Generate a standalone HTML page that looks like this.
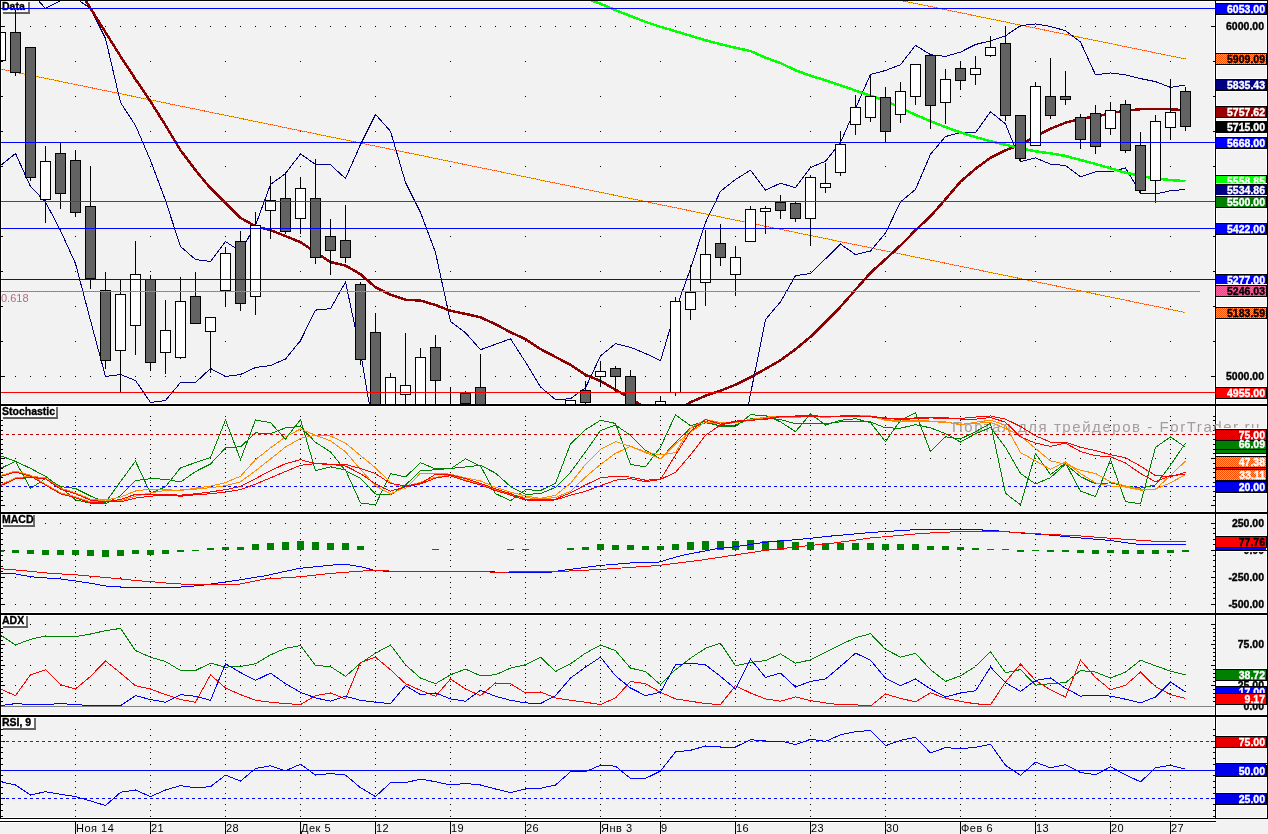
<!DOCTYPE html>
<html lang="ru"><head><meta charset="utf-8"><title>Chart</title>
<style>html,body{margin:0;padding:0;background:#f2f2f2;overflow:hidden}svg{display:block}</style></head>
<body><svg width="1268" height="834" viewBox="0 0 1268 834" shape-rendering="crispEdges" font-family="'Liberation Sans', 'DejaVu Sans', sans-serif"><defs>
<clipPath id="cpData"><rect x="1" y="1" width="1214" height="403"/></clipPath>
<clipPath id="cpSto"><rect x="1" y="406" width="1214" height="106"/></clipPath>
<clipPath id="cpMacd"><rect x="1" y="514" width="1214" height="99"/></clipPath>
<clipPath id="cpAdx"><rect x="1" y="615" width="1214" height="100"/></clipPath>
<clipPath id="cpRsi"><rect x="1" y="717" width="1214" height="101"/></clipPath>
<pattern id="orng" width="2" height="2" patternUnits="userSpaceOnUse"><rect width="2" height="2" fill="#ffb000"/><rect width="1" height="1" fill="#ff5000"/><rect x="1" y="1" width="1" height="1" fill="#ff5000"/></pattern>
<pattern id="pinkd" width="2" height="2" patternUnits="userSpaceOnUse"><rect width="2" height="2" fill="#808080"/><rect width="1" height="1" fill="#ff60a0"/><rect x="1" y="1" width="1" height="1" fill="#ff60a0"/></pattern>
<pattern id="redd" width="2" height="2" patternUnits="userSpaceOnUse"><rect width="2" height="2" fill="#c40000"/><rect width="1" height="1" fill="#ee0000"/><rect x="1" y="1" width="1" height="1" fill="#ee0000"/></pattern>
<pattern id="blued" width="2" height="2" patternUnits="userSpaceOnUse"><rect width="2" height="2" fill="#0000c4"/><rect width="1" height="1" fill="#0000ee"/><rect x="1" y="1" width="1" height="1" fill="#0000ee"/></pattern>
<pattern id="navyd" width="2" height="2" patternUnits="userSpaceOnUse"><rect width="2" height="2" fill="#0000c4"/><rect width="1" height="1" fill="#0000ee"/><rect x="1" y="1" width="1" height="1" fill="#0000ee"/></pattern>
<pattern id="pinkdots" width="2" height="1" patternUnits="userSpaceOnUse"><rect width="2" height="1" fill="#808080"/><rect width="1" height="1" fill="#ff6090"/></pattern>
</defs><rect x="0" y="0" width="1268" height="834" fill="#f2f2f2"/>
<rect x="0" y="0" width="1268" height="1" fill="#000"/>
<rect x="0" y="404" width="1268" height="1" fill="#000"/>
<rect x="0" y="405" width="1268" height="1" fill="#000"/>
<rect x="0" y="512" width="1268" height="1" fill="#000"/>
<rect x="0" y="513" width="1268" height="1" fill="#000"/>
<rect x="0" y="613" width="1268" height="1" fill="#000"/>
<rect x="0" y="614" width="1268" height="1" fill="#000"/>
<rect x="0" y="715" width="1268" height="1" fill="#000"/>
<rect x="0" y="716" width="1268" height="1" fill="#000"/>
<rect x="0" y="818" width="1268" height="1" fill="#000"/>
<rect x="0" y="821" width="1216" height="1" fill="#000"/>
<rect x="0" y="0" width="1" height="819" fill="#000"/>
<rect x="1215" y="0" width="1" height="822" fill="#000"/>
<rect x="1267" y="0" width="1" height="819" fill="#000"/>
<rect x="0" y="819" width="1216" height="1" fill="#fff"/>
<rect x="0" y="820" width="1216" height="1" fill="#fff"/>
<rect x="0" y="822" width="1216" height="1" fill="#fff"/>
<rect x="1" y="1" width="1214" height="1" fill="#fff"/>
<rect x="1" y="403" width="1214" height="1" fill="#fff"/>
<rect x="1" y="1" width="1" height="403" fill="#fff"/>
<rect x="1214" y="1" width="1" height="403" fill="#fff"/>
<rect x="1216" y="1" width="51" height="1" fill="#fff"/>
<rect x="1216" y="403" width="51" height="1" fill="#fff"/>
<rect x="1216" y="1" width="1" height="403" fill="#fff"/>
<rect x="1266" y="1" width="1" height="403" fill="#fff"/>
<rect x="1" y="406" width="1214" height="1" fill="#fff"/>
<rect x="1" y="511" width="1214" height="1" fill="#fff"/>
<rect x="1" y="406" width="1" height="106" fill="#fff"/>
<rect x="1214" y="406" width="1" height="106" fill="#fff"/>
<rect x="1216" y="406" width="51" height="1" fill="#fff"/>
<rect x="1216" y="511" width="51" height="1" fill="#fff"/>
<rect x="1216" y="406" width="1" height="106" fill="#fff"/>
<rect x="1266" y="406" width="1" height="106" fill="#fff"/>
<rect x="1" y="514" width="1214" height="1" fill="#fff"/>
<rect x="1" y="612" width="1214" height="1" fill="#fff"/>
<rect x="1" y="514" width="1" height="99" fill="#fff"/>
<rect x="1214" y="514" width="1" height="99" fill="#fff"/>
<rect x="1216" y="514" width="51" height="1" fill="#fff"/>
<rect x="1216" y="612" width="51" height="1" fill="#fff"/>
<rect x="1216" y="514" width="1" height="99" fill="#fff"/>
<rect x="1266" y="514" width="1" height="99" fill="#fff"/>
<rect x="1" y="615" width="1214" height="1" fill="#fff"/>
<rect x="1" y="714" width="1214" height="1" fill="#fff"/>
<rect x="1" y="615" width="1" height="100" fill="#fff"/>
<rect x="1214" y="615" width="1" height="100" fill="#fff"/>
<rect x="1216" y="615" width="51" height="1" fill="#fff"/>
<rect x="1216" y="714" width="51" height="1" fill="#fff"/>
<rect x="1216" y="615" width="1" height="100" fill="#fff"/>
<rect x="1266" y="615" width="1" height="100" fill="#fff"/>
<rect x="1" y="717" width="1214" height="1" fill="#fff"/>
<rect x="1" y="817" width="1214" height="1" fill="#fff"/>
<rect x="1" y="717" width="1" height="101" fill="#fff"/>
<rect x="1214" y="717" width="1" height="101" fill="#fff"/>
<rect x="1216" y="717" width="51" height="1" fill="#fff"/>
<rect x="1216" y="817" width="51" height="1" fill="#fff"/>
<rect x="1216" y="717" width="1" height="101" fill="#fff"/>
<rect x="1266" y="717" width="1" height="101" fill="#fff"/>
<rect x="1" y="26" width="4" height="1" fill="#000"/>
<rect x="1211" y="26" width="4" height="1" fill="#000"/>
<rect x="1" y="61" width="2" height="1" fill="#000"/>
<rect x="1213" y="61" width="2" height="1" fill="#000"/>
<rect x="1" y="96" width="2" height="1" fill="#000"/>
<rect x="1213" y="96" width="2" height="1" fill="#000"/>
<rect x="1" y="131" width="2" height="1" fill="#000"/>
<rect x="1213" y="131" width="2" height="1" fill="#000"/>
<rect x="1" y="166" width="2" height="1" fill="#000"/>
<rect x="1213" y="166" width="2" height="1" fill="#000"/>
<rect x="1" y="201" width="2" height="1" fill="#000"/>
<rect x="1213" y="201" width="2" height="1" fill="#000"/>
<rect x="1" y="236" width="2" height="1" fill="#000"/>
<rect x="1213" y="236" width="2" height="1" fill="#000"/>
<rect x="1" y="271" width="2" height="1" fill="#000"/>
<rect x="1213" y="271" width="2" height="1" fill="#000"/>
<rect x="1" y="306" width="2" height="1" fill="#000"/>
<rect x="1213" y="306" width="2" height="1" fill="#000"/>
<rect x="1" y="341" width="2" height="1" fill="#000"/>
<rect x="1213" y="341" width="2" height="1" fill="#000"/>
<rect x="1" y="376" width="4" height="1" fill="#000"/>
<rect x="1211" y="376" width="4" height="1" fill="#000"/>
<rect x="1" y="416" width="2" height="1" fill="#000"/>
<rect x="1213" y="416" width="2" height="1" fill="#000"/>
<rect x="1" y="420" width="2" height="1" fill="#000"/>
<rect x="1213" y="420" width="2" height="1" fill="#000"/>
<rect x="1" y="425" width="2" height="1" fill="#000"/>
<rect x="1213" y="425" width="2" height="1" fill="#000"/>
<rect x="1" y="430" width="2" height="1" fill="#000"/>
<rect x="1213" y="430" width="2" height="1" fill="#000"/>
<rect x="1" y="434" width="2" height="1" fill="#000"/>
<rect x="1213" y="434" width="2" height="1" fill="#000"/>
<rect x="1" y="439" width="2" height="1" fill="#000"/>
<rect x="1213" y="439" width="2" height="1" fill="#000"/>
<rect x="1" y="444" width="2" height="1" fill="#000"/>
<rect x="1213" y="444" width="2" height="1" fill="#000"/>
<rect x="1" y="449" width="2" height="1" fill="#000"/>
<rect x="1213" y="449" width="2" height="1" fill="#000"/>
<rect x="1" y="453" width="2" height="1" fill="#000"/>
<rect x="1213" y="453" width="2" height="1" fill="#000"/>
<rect x="1" y="458" width="4" height="1" fill="#000"/>
<rect x="1211" y="458" width="4" height="1" fill="#000"/>
<rect x="1" y="463" width="2" height="1" fill="#000"/>
<rect x="1213" y="463" width="2" height="1" fill="#000"/>
<rect x="1" y="468" width="2" height="1" fill="#000"/>
<rect x="1213" y="468" width="2" height="1" fill="#000"/>
<rect x="1" y="472" width="2" height="1" fill="#000"/>
<rect x="1213" y="472" width="2" height="1" fill="#000"/>
<rect x="1" y="477" width="2" height="1" fill="#000"/>
<rect x="1213" y="477" width="2" height="1" fill="#000"/>
<rect x="1" y="482" width="2" height="1" fill="#000"/>
<rect x="1213" y="482" width="2" height="1" fill="#000"/>
<rect x="1" y="486" width="2" height="1" fill="#000"/>
<rect x="1213" y="486" width="2" height="1" fill="#000"/>
<rect x="1" y="491" width="2" height="1" fill="#000"/>
<rect x="1213" y="491" width="2" height="1" fill="#000"/>
<rect x="1" y="496" width="2" height="1" fill="#000"/>
<rect x="1213" y="496" width="2" height="1" fill="#000"/>
<rect x="1" y="500" width="2" height="1" fill="#000"/>
<rect x="1213" y="500" width="2" height="1" fill="#000"/>
<rect x="1" y="505" width="4" height="1" fill="#000"/>
<rect x="1211" y="505" width="4" height="1" fill="#000"/>
<rect x="1" y="523" width="4" height="1" fill="#000"/>
<rect x="1211" y="523" width="4" height="1" fill="#000"/>
<rect x="1" y="528" width="2" height="1" fill="#000"/>
<rect x="1213" y="528" width="2" height="1" fill="#000"/>
<rect x="1" y="533" width="2" height="1" fill="#000"/>
<rect x="1213" y="533" width="2" height="1" fill="#000"/>
<rect x="1" y="539" width="2" height="1" fill="#000"/>
<rect x="1213" y="539" width="2" height="1" fill="#000"/>
<rect x="1" y="544" width="2" height="1" fill="#000"/>
<rect x="1213" y="544" width="2" height="1" fill="#000"/>
<rect x="1" y="550" width="4" height="1" fill="#000"/>
<rect x="1211" y="550" width="4" height="1" fill="#000"/>
<rect x="1" y="555" width="2" height="1" fill="#000"/>
<rect x="1213" y="555" width="2" height="1" fill="#000"/>
<rect x="1" y="560" width="2" height="1" fill="#000"/>
<rect x="1213" y="560" width="2" height="1" fill="#000"/>
<rect x="1" y="566" width="2" height="1" fill="#000"/>
<rect x="1213" y="566" width="2" height="1" fill="#000"/>
<rect x="1" y="571" width="2" height="1" fill="#000"/>
<rect x="1213" y="571" width="2" height="1" fill="#000"/>
<rect x="1" y="577" width="4" height="1" fill="#000"/>
<rect x="1211" y="577" width="4" height="1" fill="#000"/>
<rect x="1" y="582" width="2" height="1" fill="#000"/>
<rect x="1213" y="582" width="2" height="1" fill="#000"/>
<rect x="1" y="587" width="2" height="1" fill="#000"/>
<rect x="1213" y="587" width="2" height="1" fill="#000"/>
<rect x="1" y="593" width="2" height="1" fill="#000"/>
<rect x="1213" y="593" width="2" height="1" fill="#000"/>
<rect x="1" y="598" width="2" height="1" fill="#000"/>
<rect x="1213" y="598" width="2" height="1" fill="#000"/>
<rect x="1" y="604" width="4" height="1" fill="#000"/>
<rect x="1211" y="604" width="4" height="1" fill="#000"/>
<rect x="1" y="624" width="4" height="1" fill="#000"/>
<rect x="1211" y="624" width="4" height="1" fill="#000"/>
<rect x="1" y="628" width="2" height="1" fill="#000"/>
<rect x="1213" y="628" width="2" height="1" fill="#000"/>
<rect x="1" y="632" width="2" height="1" fill="#000"/>
<rect x="1213" y="632" width="2" height="1" fill="#000"/>
<rect x="1" y="636" width="2" height="1" fill="#000"/>
<rect x="1213" y="636" width="2" height="1" fill="#000"/>
<rect x="1" y="640" width="2" height="1" fill="#000"/>
<rect x="1213" y="640" width="2" height="1" fill="#000"/>
<rect x="1" y="644" width="4" height="1" fill="#000"/>
<rect x="1211" y="644" width="4" height="1" fill="#000"/>
<rect x="1" y="648" width="2" height="1" fill="#000"/>
<rect x="1213" y="648" width="2" height="1" fill="#000"/>
<rect x="1" y="652" width="2" height="1" fill="#000"/>
<rect x="1213" y="652" width="2" height="1" fill="#000"/>
<rect x="1" y="656" width="2" height="1" fill="#000"/>
<rect x="1213" y="656" width="2" height="1" fill="#000"/>
<rect x="1" y="660" width="2" height="1" fill="#000"/>
<rect x="1213" y="660" width="2" height="1" fill="#000"/>
<rect x="1" y="665" width="4" height="1" fill="#000"/>
<rect x="1211" y="665" width="4" height="1" fill="#000"/>
<rect x="1" y="669" width="2" height="1" fill="#000"/>
<rect x="1213" y="669" width="2" height="1" fill="#000"/>
<rect x="1" y="673" width="2" height="1" fill="#000"/>
<rect x="1213" y="673" width="2" height="1" fill="#000"/>
<rect x="1" y="677" width="2" height="1" fill="#000"/>
<rect x="1213" y="677" width="2" height="1" fill="#000"/>
<rect x="1" y="681" width="2" height="1" fill="#000"/>
<rect x="1213" y="681" width="2" height="1" fill="#000"/>
<rect x="1" y="685" width="4" height="1" fill="#000"/>
<rect x="1211" y="685" width="4" height="1" fill="#000"/>
<rect x="1" y="689" width="2" height="1" fill="#000"/>
<rect x="1213" y="689" width="2" height="1" fill="#000"/>
<rect x="1" y="693" width="2" height="1" fill="#000"/>
<rect x="1213" y="693" width="2" height="1" fill="#000"/>
<rect x="1" y="697" width="2" height="1" fill="#000"/>
<rect x="1213" y="697" width="2" height="1" fill="#000"/>
<rect x="1" y="701" width="2" height="1" fill="#000"/>
<rect x="1213" y="701" width="2" height="1" fill="#000"/>
<rect x="1" y="729" width="2" height="1" fill="#000"/>
<rect x="1213" y="729" width="2" height="1" fill="#000"/>
<rect x="1" y="735" width="2" height="1" fill="#000"/>
<rect x="1213" y="735" width="2" height="1" fill="#000"/>
<rect x="1" y="741" width="4" height="1" fill="#000"/>
<rect x="1211" y="741" width="4" height="1" fill="#000"/>
<rect x="1" y="747" width="2" height="1" fill="#000"/>
<rect x="1213" y="747" width="2" height="1" fill="#000"/>
<rect x="1" y="752" width="2" height="1" fill="#000"/>
<rect x="1213" y="752" width="2" height="1" fill="#000"/>
<rect x="1" y="758" width="2" height="1" fill="#000"/>
<rect x="1213" y="758" width="2" height="1" fill="#000"/>
<rect x="1" y="764" width="2" height="1" fill="#000"/>
<rect x="1213" y="764" width="2" height="1" fill="#000"/>
<rect x="1" y="770" width="4" height="1" fill="#000"/>
<rect x="1211" y="770" width="4" height="1" fill="#000"/>
<rect x="1" y="775" width="2" height="1" fill="#000"/>
<rect x="1213" y="775" width="2" height="1" fill="#000"/>
<rect x="1" y="781" width="2" height="1" fill="#000"/>
<rect x="1213" y="781" width="2" height="1" fill="#000"/>
<rect x="1" y="787" width="2" height="1" fill="#000"/>
<rect x="1213" y="787" width="2" height="1" fill="#000"/>
<rect x="1" y="793" width="2" height="1" fill="#000"/>
<rect x="1213" y="793" width="2" height="1" fill="#000"/>
<rect x="1" y="798" width="4" height="1" fill="#000"/>
<rect x="1211" y="798" width="4" height="1" fill="#000"/>
<rect x="1" y="804" width="2" height="1" fill="#000"/>
<rect x="1213" y="804" width="2" height="1" fill="#000"/>
<rect x="1" y="810" width="2" height="1" fill="#000"/>
<rect x="1213" y="810" width="2" height="1" fill="#000"/>
<rect x="1" y="816" width="2" height="1" fill="#000"/>
<rect x="1213" y="816" width="2" height="1" fill="#000"/>
<path d="M15 26h1v1h-1zM15 376h1v1h-1zM15 458h1v1h-1zM15 505h1v1h-1zM15 523h1v1h-1zM15 577h1v1h-1zM15 604h1v1h-1zM15 624h1v1h-1zM15 644h1v1h-1zM15 665h1v1h-1zM15 685h1v1h-1zM30 26h1v1h-1zM30 376h1v1h-1zM30 458h1v1h-1zM30 505h1v1h-1zM30 523h1v1h-1zM30 577h1v1h-1zM30 604h1v1h-1zM30 624h1v1h-1zM30 644h1v1h-1zM30 665h1v1h-1zM30 685h1v1h-1zM45 26h1v1h-1zM45 376h1v1h-1zM45 458h1v1h-1zM45 505h1v1h-1zM45 523h1v1h-1zM45 577h1v1h-1zM45 604h1v1h-1zM45 624h1v1h-1zM45 644h1v1h-1zM45 665h1v1h-1zM45 685h1v1h-1zM60 26h1v1h-1zM60 376h1v1h-1zM60 458h1v1h-1zM60 505h1v1h-1zM60 523h1v1h-1zM60 577h1v1h-1zM60 604h1v1h-1zM60 624h1v1h-1zM60 644h1v1h-1zM60 665h1v1h-1zM60 685h1v1h-1zM75 26h1v1h-1zM75 61h1v1h-1zM75 96h1v1h-1zM75 131h1v1h-1zM75 166h1v1h-1zM75 201h1v1h-1zM75 236h1v1h-1zM75 271h1v1h-1zM75 306h1v1h-1zM75 341h1v1h-1zM75 376h1v1h-1zM75 416h1v1h-1zM75 420h1v1h-1zM75 425h1v1h-1zM75 430h1v1h-1zM75 434h1v1h-1zM75 439h1v1h-1zM75 444h1v1h-1zM75 449h1v1h-1zM75 453h1v1h-1zM75 458h1v1h-1zM75 463h1v1h-1zM75 468h1v1h-1zM75 472h1v1h-1zM75 477h1v1h-1zM75 482h1v1h-1zM75 486h1v1h-1zM75 491h1v1h-1zM75 496h1v1h-1zM75 500h1v1h-1zM75 505h1v1h-1zM75 523h1v1h-1zM75 528h1v1h-1zM75 533h1v1h-1zM75 539h1v1h-1zM75 544h1v1h-1zM75 550h1v1h-1zM75 555h1v1h-1zM75 560h1v1h-1zM75 566h1v1h-1zM75 571h1v1h-1zM75 577h1v1h-1zM75 582h1v1h-1zM75 587h1v1h-1zM75 593h1v1h-1zM75 598h1v1h-1zM75 604h1v1h-1zM75 624h1v1h-1zM75 628h1v1h-1zM75 632h1v1h-1zM75 636h1v1h-1zM75 640h1v1h-1zM75 644h1v1h-1zM75 648h1v1h-1zM75 652h1v1h-1zM75 656h1v1h-1zM75 660h1v1h-1zM75 665h1v1h-1zM75 669h1v1h-1zM75 673h1v1h-1zM75 677h1v1h-1zM75 681h1v1h-1zM75 685h1v1h-1zM75 689h1v1h-1zM75 693h1v1h-1zM75 697h1v1h-1zM75 701h1v1h-1zM75 729h1v1h-1zM75 735h1v1h-1zM75 741h1v1h-1zM75 747h1v1h-1zM75 752h1v1h-1zM75 758h1v1h-1zM75 764h1v1h-1zM75 770h1v1h-1zM75 775h1v1h-1zM75 781h1v1h-1zM75 787h1v1h-1zM75 793h1v1h-1zM75 798h1v1h-1zM75 804h1v1h-1zM75 810h1v1h-1zM75 816h1v1h-1zM90 26h1v1h-1zM90 376h1v1h-1zM90 458h1v1h-1zM90 505h1v1h-1zM90 523h1v1h-1zM90 577h1v1h-1zM90 604h1v1h-1zM90 624h1v1h-1zM90 644h1v1h-1zM90 665h1v1h-1zM90 685h1v1h-1zM105 26h1v1h-1zM105 376h1v1h-1zM105 458h1v1h-1zM105 505h1v1h-1zM105 523h1v1h-1zM105 577h1v1h-1zM105 604h1v1h-1zM105 624h1v1h-1zM105 644h1v1h-1zM105 665h1v1h-1zM105 685h1v1h-1zM120 26h1v1h-1zM120 376h1v1h-1zM120 458h1v1h-1zM120 505h1v1h-1zM120 523h1v1h-1zM120 577h1v1h-1zM120 604h1v1h-1zM120 624h1v1h-1zM120 644h1v1h-1zM120 665h1v1h-1zM120 685h1v1h-1zM135 26h1v1h-1zM135 376h1v1h-1zM135 458h1v1h-1zM135 505h1v1h-1zM135 523h1v1h-1zM135 577h1v1h-1zM135 604h1v1h-1zM135 624h1v1h-1zM135 644h1v1h-1zM135 665h1v1h-1zM135 685h1v1h-1zM150 26h1v1h-1zM150 61h1v1h-1zM150 96h1v1h-1zM150 131h1v1h-1zM150 166h1v1h-1zM150 201h1v1h-1zM150 236h1v1h-1zM150 271h1v1h-1zM150 306h1v1h-1zM150 341h1v1h-1zM150 376h1v1h-1zM150 416h1v1h-1zM150 420h1v1h-1zM150 425h1v1h-1zM150 430h1v1h-1zM150 434h1v1h-1zM150 439h1v1h-1zM150 444h1v1h-1zM150 449h1v1h-1zM150 453h1v1h-1zM150 458h1v1h-1zM150 463h1v1h-1zM150 468h1v1h-1zM150 472h1v1h-1zM150 477h1v1h-1zM150 482h1v1h-1zM150 486h1v1h-1zM150 491h1v1h-1zM150 496h1v1h-1zM150 500h1v1h-1zM150 505h1v1h-1zM150 523h1v1h-1zM150 528h1v1h-1zM150 533h1v1h-1zM150 539h1v1h-1zM150 544h1v1h-1zM150 550h1v1h-1zM150 555h1v1h-1zM150 560h1v1h-1zM150 566h1v1h-1zM150 571h1v1h-1zM150 577h1v1h-1zM150 582h1v1h-1zM150 587h1v1h-1zM150 593h1v1h-1zM150 598h1v1h-1zM150 604h1v1h-1zM150 624h1v1h-1zM150 628h1v1h-1zM150 632h1v1h-1zM150 636h1v1h-1zM150 640h1v1h-1zM150 644h1v1h-1zM150 648h1v1h-1zM150 652h1v1h-1zM150 656h1v1h-1zM150 660h1v1h-1zM150 665h1v1h-1zM150 669h1v1h-1zM150 673h1v1h-1zM150 677h1v1h-1zM150 681h1v1h-1zM150 685h1v1h-1zM150 689h1v1h-1zM150 693h1v1h-1zM150 697h1v1h-1zM150 701h1v1h-1zM150 729h1v1h-1zM150 735h1v1h-1zM150 741h1v1h-1zM150 747h1v1h-1zM150 752h1v1h-1zM150 758h1v1h-1zM150 764h1v1h-1zM150 770h1v1h-1zM150 775h1v1h-1zM150 781h1v1h-1zM150 787h1v1h-1zM150 793h1v1h-1zM150 798h1v1h-1zM150 804h1v1h-1zM150 810h1v1h-1zM150 816h1v1h-1zM165 26h1v1h-1zM165 376h1v1h-1zM165 458h1v1h-1zM165 505h1v1h-1zM165 523h1v1h-1zM165 577h1v1h-1zM165 604h1v1h-1zM165 624h1v1h-1zM165 644h1v1h-1zM165 665h1v1h-1zM165 685h1v1h-1zM180 26h1v1h-1zM180 376h1v1h-1zM180 458h1v1h-1zM180 505h1v1h-1zM180 523h1v1h-1zM180 577h1v1h-1zM180 604h1v1h-1zM180 624h1v1h-1zM180 644h1v1h-1zM180 665h1v1h-1zM180 685h1v1h-1zM195 26h1v1h-1zM195 376h1v1h-1zM195 458h1v1h-1zM195 505h1v1h-1zM195 523h1v1h-1zM195 577h1v1h-1zM195 604h1v1h-1zM195 624h1v1h-1zM195 644h1v1h-1zM195 665h1v1h-1zM195 685h1v1h-1zM210 26h1v1h-1zM210 376h1v1h-1zM210 458h1v1h-1zM210 505h1v1h-1zM210 523h1v1h-1zM210 577h1v1h-1zM210 604h1v1h-1zM210 624h1v1h-1zM210 644h1v1h-1zM210 665h1v1h-1zM210 685h1v1h-1zM225 26h1v1h-1zM225 61h1v1h-1zM225 96h1v1h-1zM225 131h1v1h-1zM225 166h1v1h-1zM225 201h1v1h-1zM225 236h1v1h-1zM225 271h1v1h-1zM225 306h1v1h-1zM225 341h1v1h-1zM225 376h1v1h-1zM225 416h1v1h-1zM225 420h1v1h-1zM225 425h1v1h-1zM225 430h1v1h-1zM225 434h1v1h-1zM225 439h1v1h-1zM225 444h1v1h-1zM225 449h1v1h-1zM225 453h1v1h-1zM225 458h1v1h-1zM225 463h1v1h-1zM225 468h1v1h-1zM225 472h1v1h-1zM225 477h1v1h-1zM225 482h1v1h-1zM225 486h1v1h-1zM225 491h1v1h-1zM225 496h1v1h-1zM225 500h1v1h-1zM225 505h1v1h-1zM225 523h1v1h-1zM225 528h1v1h-1zM225 533h1v1h-1zM225 539h1v1h-1zM225 544h1v1h-1zM225 550h1v1h-1zM225 555h1v1h-1zM225 560h1v1h-1zM225 566h1v1h-1zM225 571h1v1h-1zM225 577h1v1h-1zM225 582h1v1h-1zM225 587h1v1h-1zM225 593h1v1h-1zM225 598h1v1h-1zM225 604h1v1h-1zM225 624h1v1h-1zM225 628h1v1h-1zM225 632h1v1h-1zM225 636h1v1h-1zM225 640h1v1h-1zM225 644h1v1h-1zM225 648h1v1h-1zM225 652h1v1h-1zM225 656h1v1h-1zM225 660h1v1h-1zM225 665h1v1h-1zM225 669h1v1h-1zM225 673h1v1h-1zM225 677h1v1h-1zM225 681h1v1h-1zM225 685h1v1h-1zM225 689h1v1h-1zM225 693h1v1h-1zM225 697h1v1h-1zM225 701h1v1h-1zM225 729h1v1h-1zM225 735h1v1h-1zM225 741h1v1h-1zM225 747h1v1h-1zM225 752h1v1h-1zM225 758h1v1h-1zM225 764h1v1h-1zM225 770h1v1h-1zM225 775h1v1h-1zM225 781h1v1h-1zM225 787h1v1h-1zM225 793h1v1h-1zM225 798h1v1h-1zM225 804h1v1h-1zM225 810h1v1h-1zM225 816h1v1h-1zM240 26h1v1h-1zM240 376h1v1h-1zM240 458h1v1h-1zM240 505h1v1h-1zM240 523h1v1h-1zM240 577h1v1h-1zM240 604h1v1h-1zM240 624h1v1h-1zM240 644h1v1h-1zM240 665h1v1h-1zM240 685h1v1h-1zM255 26h1v1h-1zM255 376h1v1h-1zM255 458h1v1h-1zM255 505h1v1h-1zM255 523h1v1h-1zM255 577h1v1h-1zM255 604h1v1h-1zM255 624h1v1h-1zM255 644h1v1h-1zM255 665h1v1h-1zM255 685h1v1h-1zM270 26h1v1h-1zM270 376h1v1h-1zM270 458h1v1h-1zM270 505h1v1h-1zM270 523h1v1h-1zM270 577h1v1h-1zM270 604h1v1h-1zM270 624h1v1h-1zM270 644h1v1h-1zM270 665h1v1h-1zM270 685h1v1h-1zM285 26h1v1h-1zM285 376h1v1h-1zM285 458h1v1h-1zM285 505h1v1h-1zM285 523h1v1h-1zM285 577h1v1h-1zM285 604h1v1h-1zM285 624h1v1h-1zM285 644h1v1h-1zM285 665h1v1h-1zM285 685h1v1h-1zM300 26h1v1h-1zM300 61h1v1h-1zM300 96h1v1h-1zM300 131h1v1h-1zM300 166h1v1h-1zM300 201h1v1h-1zM300 236h1v1h-1zM300 271h1v1h-1zM300 306h1v1h-1zM300 341h1v1h-1zM300 376h1v1h-1zM300 416h1v1h-1zM300 420h1v1h-1zM300 425h1v1h-1zM300 430h1v1h-1zM300 434h1v1h-1zM300 439h1v1h-1zM300 444h1v1h-1zM300 449h1v1h-1zM300 453h1v1h-1zM300 458h1v1h-1zM300 463h1v1h-1zM300 468h1v1h-1zM300 472h1v1h-1zM300 477h1v1h-1zM300 482h1v1h-1zM300 486h1v1h-1zM300 491h1v1h-1zM300 496h1v1h-1zM300 500h1v1h-1zM300 505h1v1h-1zM300 523h1v1h-1zM300 528h1v1h-1zM300 533h1v1h-1zM300 539h1v1h-1zM300 544h1v1h-1zM300 550h1v1h-1zM300 555h1v1h-1zM300 560h1v1h-1zM300 566h1v1h-1zM300 571h1v1h-1zM300 577h1v1h-1zM300 582h1v1h-1zM300 587h1v1h-1zM300 593h1v1h-1zM300 598h1v1h-1zM300 604h1v1h-1zM300 624h1v1h-1zM300 628h1v1h-1zM300 632h1v1h-1zM300 636h1v1h-1zM300 640h1v1h-1zM300 644h1v1h-1zM300 648h1v1h-1zM300 652h1v1h-1zM300 656h1v1h-1zM300 660h1v1h-1zM300 665h1v1h-1zM300 669h1v1h-1zM300 673h1v1h-1zM300 677h1v1h-1zM300 681h1v1h-1zM300 685h1v1h-1zM300 689h1v1h-1zM300 693h1v1h-1zM300 697h1v1h-1zM300 701h1v1h-1zM300 729h1v1h-1zM300 735h1v1h-1zM300 741h1v1h-1zM300 747h1v1h-1zM300 752h1v1h-1zM300 758h1v1h-1zM300 764h1v1h-1zM300 770h1v1h-1zM300 775h1v1h-1zM300 781h1v1h-1zM300 787h1v1h-1zM300 793h1v1h-1zM300 798h1v1h-1zM300 804h1v1h-1zM300 810h1v1h-1zM300 816h1v1h-1zM315 26h1v1h-1zM315 376h1v1h-1zM315 458h1v1h-1zM315 505h1v1h-1zM315 523h1v1h-1zM315 577h1v1h-1zM315 604h1v1h-1zM315 624h1v1h-1zM315 644h1v1h-1zM315 665h1v1h-1zM315 685h1v1h-1zM330 26h1v1h-1zM330 376h1v1h-1zM330 458h1v1h-1zM330 505h1v1h-1zM330 523h1v1h-1zM330 577h1v1h-1zM330 604h1v1h-1zM330 624h1v1h-1zM330 644h1v1h-1zM330 665h1v1h-1zM330 685h1v1h-1zM345 26h1v1h-1zM345 376h1v1h-1zM345 458h1v1h-1zM345 505h1v1h-1zM345 523h1v1h-1zM345 577h1v1h-1zM345 604h1v1h-1zM345 624h1v1h-1zM345 644h1v1h-1zM345 665h1v1h-1zM345 685h1v1h-1zM360 26h1v1h-1zM360 376h1v1h-1zM360 458h1v1h-1zM360 505h1v1h-1zM360 523h1v1h-1zM360 577h1v1h-1zM360 604h1v1h-1zM360 624h1v1h-1zM360 644h1v1h-1zM360 665h1v1h-1zM360 685h1v1h-1zM375 26h1v1h-1zM375 61h1v1h-1zM375 96h1v1h-1zM375 131h1v1h-1zM375 166h1v1h-1zM375 201h1v1h-1zM375 236h1v1h-1zM375 271h1v1h-1zM375 306h1v1h-1zM375 341h1v1h-1zM375 376h1v1h-1zM375 416h1v1h-1zM375 420h1v1h-1zM375 425h1v1h-1zM375 430h1v1h-1zM375 434h1v1h-1zM375 439h1v1h-1zM375 444h1v1h-1zM375 449h1v1h-1zM375 453h1v1h-1zM375 458h1v1h-1zM375 463h1v1h-1zM375 468h1v1h-1zM375 472h1v1h-1zM375 477h1v1h-1zM375 482h1v1h-1zM375 486h1v1h-1zM375 491h1v1h-1zM375 496h1v1h-1zM375 500h1v1h-1zM375 505h1v1h-1zM375 523h1v1h-1zM375 528h1v1h-1zM375 533h1v1h-1zM375 539h1v1h-1zM375 544h1v1h-1zM375 550h1v1h-1zM375 555h1v1h-1zM375 560h1v1h-1zM375 566h1v1h-1zM375 571h1v1h-1zM375 577h1v1h-1zM375 582h1v1h-1zM375 587h1v1h-1zM375 593h1v1h-1zM375 598h1v1h-1zM375 604h1v1h-1zM375 624h1v1h-1zM375 628h1v1h-1zM375 632h1v1h-1zM375 636h1v1h-1zM375 640h1v1h-1zM375 644h1v1h-1zM375 648h1v1h-1zM375 652h1v1h-1zM375 656h1v1h-1zM375 660h1v1h-1zM375 665h1v1h-1zM375 669h1v1h-1zM375 673h1v1h-1zM375 677h1v1h-1zM375 681h1v1h-1zM375 685h1v1h-1zM375 689h1v1h-1zM375 693h1v1h-1zM375 697h1v1h-1zM375 701h1v1h-1zM375 729h1v1h-1zM375 735h1v1h-1zM375 741h1v1h-1zM375 747h1v1h-1zM375 752h1v1h-1zM375 758h1v1h-1zM375 764h1v1h-1zM375 770h1v1h-1zM375 775h1v1h-1zM375 781h1v1h-1zM375 787h1v1h-1zM375 793h1v1h-1zM375 798h1v1h-1zM375 804h1v1h-1zM375 810h1v1h-1zM375 816h1v1h-1zM390 26h1v1h-1zM390 376h1v1h-1zM390 458h1v1h-1zM390 505h1v1h-1zM390 523h1v1h-1zM390 577h1v1h-1zM390 604h1v1h-1zM390 624h1v1h-1zM390 644h1v1h-1zM390 665h1v1h-1zM390 685h1v1h-1zM405 26h1v1h-1zM405 376h1v1h-1zM405 458h1v1h-1zM405 505h1v1h-1zM405 523h1v1h-1zM405 577h1v1h-1zM405 604h1v1h-1zM405 624h1v1h-1zM405 644h1v1h-1zM405 665h1v1h-1zM405 685h1v1h-1zM420 26h1v1h-1zM420 376h1v1h-1zM420 458h1v1h-1zM420 505h1v1h-1zM420 523h1v1h-1zM420 577h1v1h-1zM420 604h1v1h-1zM420 624h1v1h-1zM420 644h1v1h-1zM420 665h1v1h-1zM420 685h1v1h-1zM435 26h1v1h-1zM435 376h1v1h-1zM435 458h1v1h-1zM435 505h1v1h-1zM435 523h1v1h-1zM435 577h1v1h-1zM435 604h1v1h-1zM435 624h1v1h-1zM435 644h1v1h-1zM435 665h1v1h-1zM435 685h1v1h-1zM450 26h1v1h-1zM450 61h1v1h-1zM450 96h1v1h-1zM450 131h1v1h-1zM450 166h1v1h-1zM450 201h1v1h-1zM450 236h1v1h-1zM450 271h1v1h-1zM450 306h1v1h-1zM450 341h1v1h-1zM450 376h1v1h-1zM450 416h1v1h-1zM450 420h1v1h-1zM450 425h1v1h-1zM450 430h1v1h-1zM450 434h1v1h-1zM450 439h1v1h-1zM450 444h1v1h-1zM450 449h1v1h-1zM450 453h1v1h-1zM450 458h1v1h-1zM450 463h1v1h-1zM450 468h1v1h-1zM450 472h1v1h-1zM450 477h1v1h-1zM450 482h1v1h-1zM450 486h1v1h-1zM450 491h1v1h-1zM450 496h1v1h-1zM450 500h1v1h-1zM450 505h1v1h-1zM450 523h1v1h-1zM450 528h1v1h-1zM450 533h1v1h-1zM450 539h1v1h-1zM450 544h1v1h-1zM450 550h1v1h-1zM450 555h1v1h-1zM450 560h1v1h-1zM450 566h1v1h-1zM450 571h1v1h-1zM450 577h1v1h-1zM450 582h1v1h-1zM450 587h1v1h-1zM450 593h1v1h-1zM450 598h1v1h-1zM450 604h1v1h-1zM450 624h1v1h-1zM450 628h1v1h-1zM450 632h1v1h-1zM450 636h1v1h-1zM450 640h1v1h-1zM450 644h1v1h-1zM450 648h1v1h-1zM450 652h1v1h-1zM450 656h1v1h-1zM450 660h1v1h-1zM450 665h1v1h-1zM450 669h1v1h-1zM450 673h1v1h-1zM450 677h1v1h-1zM450 681h1v1h-1zM450 685h1v1h-1zM450 689h1v1h-1zM450 693h1v1h-1zM450 697h1v1h-1zM450 701h1v1h-1zM450 729h1v1h-1zM450 735h1v1h-1zM450 741h1v1h-1zM450 747h1v1h-1zM450 752h1v1h-1zM450 758h1v1h-1zM450 764h1v1h-1zM450 770h1v1h-1zM450 775h1v1h-1zM450 781h1v1h-1zM450 787h1v1h-1zM450 793h1v1h-1zM450 798h1v1h-1zM450 804h1v1h-1zM450 810h1v1h-1zM450 816h1v1h-1zM465 26h1v1h-1zM465 376h1v1h-1zM465 458h1v1h-1zM465 505h1v1h-1zM465 523h1v1h-1zM465 577h1v1h-1zM465 604h1v1h-1zM465 624h1v1h-1zM465 644h1v1h-1zM465 665h1v1h-1zM465 685h1v1h-1zM480 26h1v1h-1zM480 376h1v1h-1zM480 458h1v1h-1zM480 505h1v1h-1zM480 523h1v1h-1zM480 577h1v1h-1zM480 604h1v1h-1zM480 624h1v1h-1zM480 644h1v1h-1zM480 665h1v1h-1zM480 685h1v1h-1zM495 26h1v1h-1zM495 376h1v1h-1zM495 458h1v1h-1zM495 505h1v1h-1zM495 523h1v1h-1zM495 577h1v1h-1zM495 604h1v1h-1zM495 624h1v1h-1zM495 644h1v1h-1zM495 665h1v1h-1zM495 685h1v1h-1zM510 26h1v1h-1zM510 376h1v1h-1zM510 458h1v1h-1zM510 505h1v1h-1zM510 523h1v1h-1zM510 577h1v1h-1zM510 604h1v1h-1zM510 624h1v1h-1zM510 644h1v1h-1zM510 665h1v1h-1zM510 685h1v1h-1zM525 26h1v1h-1zM525 61h1v1h-1zM525 96h1v1h-1zM525 131h1v1h-1zM525 166h1v1h-1zM525 201h1v1h-1zM525 236h1v1h-1zM525 271h1v1h-1zM525 306h1v1h-1zM525 341h1v1h-1zM525 376h1v1h-1zM525 416h1v1h-1zM525 420h1v1h-1zM525 425h1v1h-1zM525 430h1v1h-1zM525 434h1v1h-1zM525 439h1v1h-1zM525 444h1v1h-1zM525 449h1v1h-1zM525 453h1v1h-1zM525 458h1v1h-1zM525 463h1v1h-1zM525 468h1v1h-1zM525 472h1v1h-1zM525 477h1v1h-1zM525 482h1v1h-1zM525 486h1v1h-1zM525 491h1v1h-1zM525 496h1v1h-1zM525 500h1v1h-1zM525 505h1v1h-1zM525 523h1v1h-1zM525 528h1v1h-1zM525 533h1v1h-1zM525 539h1v1h-1zM525 544h1v1h-1zM525 550h1v1h-1zM525 555h1v1h-1zM525 560h1v1h-1zM525 566h1v1h-1zM525 571h1v1h-1zM525 577h1v1h-1zM525 582h1v1h-1zM525 587h1v1h-1zM525 593h1v1h-1zM525 598h1v1h-1zM525 604h1v1h-1zM525 624h1v1h-1zM525 628h1v1h-1zM525 632h1v1h-1zM525 636h1v1h-1zM525 640h1v1h-1zM525 644h1v1h-1zM525 648h1v1h-1zM525 652h1v1h-1zM525 656h1v1h-1zM525 660h1v1h-1zM525 665h1v1h-1zM525 669h1v1h-1zM525 673h1v1h-1zM525 677h1v1h-1zM525 681h1v1h-1zM525 685h1v1h-1zM525 689h1v1h-1zM525 693h1v1h-1zM525 697h1v1h-1zM525 701h1v1h-1zM525 729h1v1h-1zM525 735h1v1h-1zM525 741h1v1h-1zM525 747h1v1h-1zM525 752h1v1h-1zM525 758h1v1h-1zM525 764h1v1h-1zM525 770h1v1h-1zM525 775h1v1h-1zM525 781h1v1h-1zM525 787h1v1h-1zM525 793h1v1h-1zM525 798h1v1h-1zM525 804h1v1h-1zM525 810h1v1h-1zM525 816h1v1h-1zM540 26h1v1h-1zM540 376h1v1h-1zM540 458h1v1h-1zM540 505h1v1h-1zM540 523h1v1h-1zM540 577h1v1h-1zM540 604h1v1h-1zM540 624h1v1h-1zM540 644h1v1h-1zM540 665h1v1h-1zM540 685h1v1h-1zM555 26h1v1h-1zM555 376h1v1h-1zM555 458h1v1h-1zM555 505h1v1h-1zM555 523h1v1h-1zM555 577h1v1h-1zM555 604h1v1h-1zM555 624h1v1h-1zM555 644h1v1h-1zM555 665h1v1h-1zM555 685h1v1h-1zM570 26h1v1h-1zM570 376h1v1h-1zM570 458h1v1h-1zM570 505h1v1h-1zM570 523h1v1h-1zM570 577h1v1h-1zM570 604h1v1h-1zM570 624h1v1h-1zM570 644h1v1h-1zM570 665h1v1h-1zM570 685h1v1h-1zM585 26h1v1h-1zM585 376h1v1h-1zM585 458h1v1h-1zM585 505h1v1h-1zM585 523h1v1h-1zM585 577h1v1h-1zM585 604h1v1h-1zM585 624h1v1h-1zM585 644h1v1h-1zM585 665h1v1h-1zM585 685h1v1h-1zM600 26h1v1h-1zM600 61h1v1h-1zM600 96h1v1h-1zM600 131h1v1h-1zM600 166h1v1h-1zM600 201h1v1h-1zM600 236h1v1h-1zM600 271h1v1h-1zM600 306h1v1h-1zM600 341h1v1h-1zM600 376h1v1h-1zM600 416h1v1h-1zM600 420h1v1h-1zM600 425h1v1h-1zM600 430h1v1h-1zM600 434h1v1h-1zM600 439h1v1h-1zM600 444h1v1h-1zM600 449h1v1h-1zM600 453h1v1h-1zM600 458h1v1h-1zM600 463h1v1h-1zM600 468h1v1h-1zM600 472h1v1h-1zM600 477h1v1h-1zM600 482h1v1h-1zM600 486h1v1h-1zM600 491h1v1h-1zM600 496h1v1h-1zM600 500h1v1h-1zM600 505h1v1h-1zM600 523h1v1h-1zM600 528h1v1h-1zM600 533h1v1h-1zM600 539h1v1h-1zM600 544h1v1h-1zM600 550h1v1h-1zM600 555h1v1h-1zM600 560h1v1h-1zM600 566h1v1h-1zM600 571h1v1h-1zM600 577h1v1h-1zM600 582h1v1h-1zM600 587h1v1h-1zM600 593h1v1h-1zM600 598h1v1h-1zM600 604h1v1h-1zM600 624h1v1h-1zM600 628h1v1h-1zM600 632h1v1h-1zM600 636h1v1h-1zM600 640h1v1h-1zM600 644h1v1h-1zM600 648h1v1h-1zM600 652h1v1h-1zM600 656h1v1h-1zM600 660h1v1h-1zM600 665h1v1h-1zM600 669h1v1h-1zM600 673h1v1h-1zM600 677h1v1h-1zM600 681h1v1h-1zM600 685h1v1h-1zM600 689h1v1h-1zM600 693h1v1h-1zM600 697h1v1h-1zM600 701h1v1h-1zM600 729h1v1h-1zM600 735h1v1h-1zM600 741h1v1h-1zM600 747h1v1h-1zM600 752h1v1h-1zM600 758h1v1h-1zM600 764h1v1h-1zM600 770h1v1h-1zM600 775h1v1h-1zM600 781h1v1h-1zM600 787h1v1h-1zM600 793h1v1h-1zM600 798h1v1h-1zM600 804h1v1h-1zM600 810h1v1h-1zM600 816h1v1h-1zM615 26h1v1h-1zM615 376h1v1h-1zM615 458h1v1h-1zM615 505h1v1h-1zM615 523h1v1h-1zM615 577h1v1h-1zM615 604h1v1h-1zM615 624h1v1h-1zM615 644h1v1h-1zM615 665h1v1h-1zM615 685h1v1h-1zM630 26h1v1h-1zM630 376h1v1h-1zM630 458h1v1h-1zM630 505h1v1h-1zM630 523h1v1h-1zM630 577h1v1h-1zM630 604h1v1h-1zM630 624h1v1h-1zM630 644h1v1h-1zM630 665h1v1h-1zM630 685h1v1h-1zM645 26h1v1h-1zM645 376h1v1h-1zM645 458h1v1h-1zM645 505h1v1h-1zM645 523h1v1h-1zM645 577h1v1h-1zM645 604h1v1h-1zM645 624h1v1h-1zM645 644h1v1h-1zM645 665h1v1h-1zM645 685h1v1h-1zM660 26h1v1h-1zM660 61h1v1h-1zM660 96h1v1h-1zM660 131h1v1h-1zM660 166h1v1h-1zM660 201h1v1h-1zM660 236h1v1h-1zM660 271h1v1h-1zM660 306h1v1h-1zM660 341h1v1h-1zM660 376h1v1h-1zM660 416h1v1h-1zM660 420h1v1h-1zM660 425h1v1h-1zM660 430h1v1h-1zM660 434h1v1h-1zM660 439h1v1h-1zM660 444h1v1h-1zM660 449h1v1h-1zM660 453h1v1h-1zM660 458h1v1h-1zM660 463h1v1h-1zM660 468h1v1h-1zM660 472h1v1h-1zM660 477h1v1h-1zM660 482h1v1h-1zM660 486h1v1h-1zM660 491h1v1h-1zM660 496h1v1h-1zM660 500h1v1h-1zM660 505h1v1h-1zM660 523h1v1h-1zM660 528h1v1h-1zM660 533h1v1h-1zM660 539h1v1h-1zM660 544h1v1h-1zM660 550h1v1h-1zM660 555h1v1h-1zM660 560h1v1h-1zM660 566h1v1h-1zM660 571h1v1h-1zM660 577h1v1h-1zM660 582h1v1h-1zM660 587h1v1h-1zM660 593h1v1h-1zM660 598h1v1h-1zM660 604h1v1h-1zM660 624h1v1h-1zM660 628h1v1h-1zM660 632h1v1h-1zM660 636h1v1h-1zM660 640h1v1h-1zM660 644h1v1h-1zM660 648h1v1h-1zM660 652h1v1h-1zM660 656h1v1h-1zM660 660h1v1h-1zM660 665h1v1h-1zM660 669h1v1h-1zM660 673h1v1h-1zM660 677h1v1h-1zM660 681h1v1h-1zM660 685h1v1h-1zM660 689h1v1h-1zM660 693h1v1h-1zM660 697h1v1h-1zM660 701h1v1h-1zM660 729h1v1h-1zM660 735h1v1h-1zM660 741h1v1h-1zM660 747h1v1h-1zM660 752h1v1h-1zM660 758h1v1h-1zM660 764h1v1h-1zM660 770h1v1h-1zM660 775h1v1h-1zM660 781h1v1h-1zM660 787h1v1h-1zM660 793h1v1h-1zM660 798h1v1h-1zM660 804h1v1h-1zM660 810h1v1h-1zM660 816h1v1h-1zM675 26h1v1h-1zM675 376h1v1h-1zM675 458h1v1h-1zM675 505h1v1h-1zM675 523h1v1h-1zM675 577h1v1h-1zM675 604h1v1h-1zM675 624h1v1h-1zM675 644h1v1h-1zM675 665h1v1h-1zM675 685h1v1h-1zM690 26h1v1h-1zM690 376h1v1h-1zM690 458h1v1h-1zM690 505h1v1h-1zM690 523h1v1h-1zM690 577h1v1h-1zM690 604h1v1h-1zM690 624h1v1h-1zM690 644h1v1h-1zM690 665h1v1h-1zM690 685h1v1h-1zM705 26h1v1h-1zM705 376h1v1h-1zM705 458h1v1h-1zM705 505h1v1h-1zM705 523h1v1h-1zM705 577h1v1h-1zM705 604h1v1h-1zM705 624h1v1h-1zM705 644h1v1h-1zM705 665h1v1h-1zM705 685h1v1h-1zM720 26h1v1h-1zM720 376h1v1h-1zM720 458h1v1h-1zM720 505h1v1h-1zM720 523h1v1h-1zM720 577h1v1h-1zM720 604h1v1h-1zM720 624h1v1h-1zM720 644h1v1h-1zM720 665h1v1h-1zM720 685h1v1h-1zM735 26h1v1h-1zM735 61h1v1h-1zM735 96h1v1h-1zM735 131h1v1h-1zM735 166h1v1h-1zM735 201h1v1h-1zM735 236h1v1h-1zM735 271h1v1h-1zM735 306h1v1h-1zM735 341h1v1h-1zM735 376h1v1h-1zM735 416h1v1h-1zM735 420h1v1h-1zM735 425h1v1h-1zM735 430h1v1h-1zM735 434h1v1h-1zM735 439h1v1h-1zM735 444h1v1h-1zM735 449h1v1h-1zM735 453h1v1h-1zM735 458h1v1h-1zM735 463h1v1h-1zM735 468h1v1h-1zM735 472h1v1h-1zM735 477h1v1h-1zM735 482h1v1h-1zM735 486h1v1h-1zM735 491h1v1h-1zM735 496h1v1h-1zM735 500h1v1h-1zM735 505h1v1h-1zM735 523h1v1h-1zM735 528h1v1h-1zM735 533h1v1h-1zM735 539h1v1h-1zM735 544h1v1h-1zM735 550h1v1h-1zM735 555h1v1h-1zM735 560h1v1h-1zM735 566h1v1h-1zM735 571h1v1h-1zM735 577h1v1h-1zM735 582h1v1h-1zM735 587h1v1h-1zM735 593h1v1h-1zM735 598h1v1h-1zM735 604h1v1h-1zM735 624h1v1h-1zM735 628h1v1h-1zM735 632h1v1h-1zM735 636h1v1h-1zM735 640h1v1h-1zM735 644h1v1h-1zM735 648h1v1h-1zM735 652h1v1h-1zM735 656h1v1h-1zM735 660h1v1h-1zM735 665h1v1h-1zM735 669h1v1h-1zM735 673h1v1h-1zM735 677h1v1h-1zM735 681h1v1h-1zM735 685h1v1h-1zM735 689h1v1h-1zM735 693h1v1h-1zM735 697h1v1h-1zM735 701h1v1h-1zM735 729h1v1h-1zM735 735h1v1h-1zM735 741h1v1h-1zM735 747h1v1h-1zM735 752h1v1h-1zM735 758h1v1h-1zM735 764h1v1h-1zM735 770h1v1h-1zM735 775h1v1h-1zM735 781h1v1h-1zM735 787h1v1h-1zM735 793h1v1h-1zM735 798h1v1h-1zM735 804h1v1h-1zM735 810h1v1h-1zM735 816h1v1h-1zM750 26h1v1h-1zM750 376h1v1h-1zM750 458h1v1h-1zM750 505h1v1h-1zM750 523h1v1h-1zM750 577h1v1h-1zM750 604h1v1h-1zM750 624h1v1h-1zM750 644h1v1h-1zM750 665h1v1h-1zM750 685h1v1h-1zM765 26h1v1h-1zM765 376h1v1h-1zM765 458h1v1h-1zM765 505h1v1h-1zM765 523h1v1h-1zM765 577h1v1h-1zM765 604h1v1h-1zM765 624h1v1h-1zM765 644h1v1h-1zM765 665h1v1h-1zM765 685h1v1h-1zM780 26h1v1h-1zM780 376h1v1h-1zM780 458h1v1h-1zM780 505h1v1h-1zM780 523h1v1h-1zM780 577h1v1h-1zM780 604h1v1h-1zM780 624h1v1h-1zM780 644h1v1h-1zM780 665h1v1h-1zM780 685h1v1h-1zM795 26h1v1h-1zM795 376h1v1h-1zM795 458h1v1h-1zM795 505h1v1h-1zM795 523h1v1h-1zM795 577h1v1h-1zM795 604h1v1h-1zM795 624h1v1h-1zM795 644h1v1h-1zM795 665h1v1h-1zM795 685h1v1h-1zM810 26h1v1h-1zM810 61h1v1h-1zM810 96h1v1h-1zM810 131h1v1h-1zM810 166h1v1h-1zM810 201h1v1h-1zM810 236h1v1h-1zM810 271h1v1h-1zM810 306h1v1h-1zM810 341h1v1h-1zM810 376h1v1h-1zM810 416h1v1h-1zM810 420h1v1h-1zM810 425h1v1h-1zM810 430h1v1h-1zM810 434h1v1h-1zM810 439h1v1h-1zM810 444h1v1h-1zM810 449h1v1h-1zM810 453h1v1h-1zM810 458h1v1h-1zM810 463h1v1h-1zM810 468h1v1h-1zM810 472h1v1h-1zM810 477h1v1h-1zM810 482h1v1h-1zM810 486h1v1h-1zM810 491h1v1h-1zM810 496h1v1h-1zM810 500h1v1h-1zM810 505h1v1h-1zM810 523h1v1h-1zM810 528h1v1h-1zM810 533h1v1h-1zM810 539h1v1h-1zM810 544h1v1h-1zM810 550h1v1h-1zM810 555h1v1h-1zM810 560h1v1h-1zM810 566h1v1h-1zM810 571h1v1h-1zM810 577h1v1h-1zM810 582h1v1h-1zM810 587h1v1h-1zM810 593h1v1h-1zM810 598h1v1h-1zM810 604h1v1h-1zM810 624h1v1h-1zM810 628h1v1h-1zM810 632h1v1h-1zM810 636h1v1h-1zM810 640h1v1h-1zM810 644h1v1h-1zM810 648h1v1h-1zM810 652h1v1h-1zM810 656h1v1h-1zM810 660h1v1h-1zM810 665h1v1h-1zM810 669h1v1h-1zM810 673h1v1h-1zM810 677h1v1h-1zM810 681h1v1h-1zM810 685h1v1h-1zM810 689h1v1h-1zM810 693h1v1h-1zM810 697h1v1h-1zM810 701h1v1h-1zM810 729h1v1h-1zM810 735h1v1h-1zM810 741h1v1h-1zM810 747h1v1h-1zM810 752h1v1h-1zM810 758h1v1h-1zM810 764h1v1h-1zM810 770h1v1h-1zM810 775h1v1h-1zM810 781h1v1h-1zM810 787h1v1h-1zM810 793h1v1h-1zM810 798h1v1h-1zM810 804h1v1h-1zM810 810h1v1h-1zM810 816h1v1h-1zM825 26h1v1h-1zM825 376h1v1h-1zM825 458h1v1h-1zM825 505h1v1h-1zM825 523h1v1h-1zM825 577h1v1h-1zM825 604h1v1h-1zM825 624h1v1h-1zM825 644h1v1h-1zM825 665h1v1h-1zM825 685h1v1h-1zM840 26h1v1h-1zM840 376h1v1h-1zM840 458h1v1h-1zM840 505h1v1h-1zM840 523h1v1h-1zM840 577h1v1h-1zM840 604h1v1h-1zM840 624h1v1h-1zM840 644h1v1h-1zM840 665h1v1h-1zM840 685h1v1h-1zM855 26h1v1h-1zM855 376h1v1h-1zM855 458h1v1h-1zM855 505h1v1h-1zM855 523h1v1h-1zM855 577h1v1h-1zM855 604h1v1h-1zM855 624h1v1h-1zM855 644h1v1h-1zM855 665h1v1h-1zM855 685h1v1h-1zM870 26h1v1h-1zM870 376h1v1h-1zM870 458h1v1h-1zM870 505h1v1h-1zM870 523h1v1h-1zM870 577h1v1h-1zM870 604h1v1h-1zM870 624h1v1h-1zM870 644h1v1h-1zM870 665h1v1h-1zM870 685h1v1h-1zM885 26h1v1h-1zM885 61h1v1h-1zM885 96h1v1h-1zM885 131h1v1h-1zM885 166h1v1h-1zM885 201h1v1h-1zM885 236h1v1h-1zM885 271h1v1h-1zM885 306h1v1h-1zM885 341h1v1h-1zM885 376h1v1h-1zM885 416h1v1h-1zM885 420h1v1h-1zM885 425h1v1h-1zM885 430h1v1h-1zM885 434h1v1h-1zM885 439h1v1h-1zM885 444h1v1h-1zM885 449h1v1h-1zM885 453h1v1h-1zM885 458h1v1h-1zM885 463h1v1h-1zM885 468h1v1h-1zM885 472h1v1h-1zM885 477h1v1h-1zM885 482h1v1h-1zM885 486h1v1h-1zM885 491h1v1h-1zM885 496h1v1h-1zM885 500h1v1h-1zM885 505h1v1h-1zM885 523h1v1h-1zM885 528h1v1h-1zM885 533h1v1h-1zM885 539h1v1h-1zM885 544h1v1h-1zM885 550h1v1h-1zM885 555h1v1h-1zM885 560h1v1h-1zM885 566h1v1h-1zM885 571h1v1h-1zM885 577h1v1h-1zM885 582h1v1h-1zM885 587h1v1h-1zM885 593h1v1h-1zM885 598h1v1h-1zM885 604h1v1h-1zM885 624h1v1h-1zM885 628h1v1h-1zM885 632h1v1h-1zM885 636h1v1h-1zM885 640h1v1h-1zM885 644h1v1h-1zM885 648h1v1h-1zM885 652h1v1h-1zM885 656h1v1h-1zM885 660h1v1h-1zM885 665h1v1h-1zM885 669h1v1h-1zM885 673h1v1h-1zM885 677h1v1h-1zM885 681h1v1h-1zM885 685h1v1h-1zM885 689h1v1h-1zM885 693h1v1h-1zM885 697h1v1h-1zM885 701h1v1h-1zM885 729h1v1h-1zM885 735h1v1h-1zM885 741h1v1h-1zM885 747h1v1h-1zM885 752h1v1h-1zM885 758h1v1h-1zM885 764h1v1h-1zM885 770h1v1h-1zM885 775h1v1h-1zM885 781h1v1h-1zM885 787h1v1h-1zM885 793h1v1h-1zM885 798h1v1h-1zM885 804h1v1h-1zM885 810h1v1h-1zM885 816h1v1h-1zM900 26h1v1h-1zM900 376h1v1h-1zM900 458h1v1h-1zM900 505h1v1h-1zM900 523h1v1h-1zM900 577h1v1h-1zM900 604h1v1h-1zM900 624h1v1h-1zM900 644h1v1h-1zM900 665h1v1h-1zM900 685h1v1h-1zM915 26h1v1h-1zM915 376h1v1h-1zM915 458h1v1h-1zM915 505h1v1h-1zM915 523h1v1h-1zM915 577h1v1h-1zM915 604h1v1h-1zM915 624h1v1h-1zM915 644h1v1h-1zM915 665h1v1h-1zM915 685h1v1h-1zM930 26h1v1h-1zM930 376h1v1h-1zM930 458h1v1h-1zM930 505h1v1h-1zM930 523h1v1h-1zM930 577h1v1h-1zM930 604h1v1h-1zM930 624h1v1h-1zM930 644h1v1h-1zM930 665h1v1h-1zM930 685h1v1h-1zM945 26h1v1h-1zM945 376h1v1h-1zM945 458h1v1h-1zM945 505h1v1h-1zM945 523h1v1h-1zM945 577h1v1h-1zM945 604h1v1h-1zM945 624h1v1h-1zM945 644h1v1h-1zM945 665h1v1h-1zM945 685h1v1h-1zM960 26h1v1h-1zM960 61h1v1h-1zM960 96h1v1h-1zM960 131h1v1h-1zM960 166h1v1h-1zM960 201h1v1h-1zM960 236h1v1h-1zM960 271h1v1h-1zM960 306h1v1h-1zM960 341h1v1h-1zM960 376h1v1h-1zM960 416h1v1h-1zM960 420h1v1h-1zM960 425h1v1h-1zM960 430h1v1h-1zM960 434h1v1h-1zM960 439h1v1h-1zM960 444h1v1h-1zM960 449h1v1h-1zM960 453h1v1h-1zM960 458h1v1h-1zM960 463h1v1h-1zM960 468h1v1h-1zM960 472h1v1h-1zM960 477h1v1h-1zM960 482h1v1h-1zM960 486h1v1h-1zM960 491h1v1h-1zM960 496h1v1h-1zM960 500h1v1h-1zM960 505h1v1h-1zM960 523h1v1h-1zM960 528h1v1h-1zM960 533h1v1h-1zM960 539h1v1h-1zM960 544h1v1h-1zM960 550h1v1h-1zM960 555h1v1h-1zM960 560h1v1h-1zM960 566h1v1h-1zM960 571h1v1h-1zM960 577h1v1h-1zM960 582h1v1h-1zM960 587h1v1h-1zM960 593h1v1h-1zM960 598h1v1h-1zM960 604h1v1h-1zM960 624h1v1h-1zM960 628h1v1h-1zM960 632h1v1h-1zM960 636h1v1h-1zM960 640h1v1h-1zM960 644h1v1h-1zM960 648h1v1h-1zM960 652h1v1h-1zM960 656h1v1h-1zM960 660h1v1h-1zM960 665h1v1h-1zM960 669h1v1h-1zM960 673h1v1h-1zM960 677h1v1h-1zM960 681h1v1h-1zM960 685h1v1h-1zM960 689h1v1h-1zM960 693h1v1h-1zM960 697h1v1h-1zM960 701h1v1h-1zM960 729h1v1h-1zM960 735h1v1h-1zM960 741h1v1h-1zM960 747h1v1h-1zM960 752h1v1h-1zM960 758h1v1h-1zM960 764h1v1h-1zM960 770h1v1h-1zM960 775h1v1h-1zM960 781h1v1h-1zM960 787h1v1h-1zM960 793h1v1h-1zM960 798h1v1h-1zM960 804h1v1h-1zM960 810h1v1h-1zM960 816h1v1h-1zM975 26h1v1h-1zM975 376h1v1h-1zM975 458h1v1h-1zM975 505h1v1h-1zM975 523h1v1h-1zM975 577h1v1h-1zM975 604h1v1h-1zM975 624h1v1h-1zM975 644h1v1h-1zM975 665h1v1h-1zM975 685h1v1h-1zM990 26h1v1h-1zM990 376h1v1h-1zM990 458h1v1h-1zM990 505h1v1h-1zM990 523h1v1h-1zM990 577h1v1h-1zM990 604h1v1h-1zM990 624h1v1h-1zM990 644h1v1h-1zM990 665h1v1h-1zM990 685h1v1h-1zM1005 26h1v1h-1zM1005 376h1v1h-1zM1005 458h1v1h-1zM1005 505h1v1h-1zM1005 523h1v1h-1zM1005 577h1v1h-1zM1005 604h1v1h-1zM1005 624h1v1h-1zM1005 644h1v1h-1zM1005 665h1v1h-1zM1005 685h1v1h-1zM1020 26h1v1h-1zM1020 376h1v1h-1zM1020 458h1v1h-1zM1020 505h1v1h-1zM1020 523h1v1h-1zM1020 577h1v1h-1zM1020 604h1v1h-1zM1020 624h1v1h-1zM1020 644h1v1h-1zM1020 665h1v1h-1zM1020 685h1v1h-1zM1035 26h1v1h-1zM1035 61h1v1h-1zM1035 96h1v1h-1zM1035 131h1v1h-1zM1035 166h1v1h-1zM1035 201h1v1h-1zM1035 236h1v1h-1zM1035 271h1v1h-1zM1035 306h1v1h-1zM1035 341h1v1h-1zM1035 376h1v1h-1zM1035 416h1v1h-1zM1035 420h1v1h-1zM1035 425h1v1h-1zM1035 430h1v1h-1zM1035 434h1v1h-1zM1035 439h1v1h-1zM1035 444h1v1h-1zM1035 449h1v1h-1zM1035 453h1v1h-1zM1035 458h1v1h-1zM1035 463h1v1h-1zM1035 468h1v1h-1zM1035 472h1v1h-1zM1035 477h1v1h-1zM1035 482h1v1h-1zM1035 486h1v1h-1zM1035 491h1v1h-1zM1035 496h1v1h-1zM1035 500h1v1h-1zM1035 505h1v1h-1zM1035 523h1v1h-1zM1035 528h1v1h-1zM1035 533h1v1h-1zM1035 539h1v1h-1zM1035 544h1v1h-1zM1035 550h1v1h-1zM1035 555h1v1h-1zM1035 560h1v1h-1zM1035 566h1v1h-1zM1035 571h1v1h-1zM1035 577h1v1h-1zM1035 582h1v1h-1zM1035 587h1v1h-1zM1035 593h1v1h-1zM1035 598h1v1h-1zM1035 604h1v1h-1zM1035 624h1v1h-1zM1035 628h1v1h-1zM1035 632h1v1h-1zM1035 636h1v1h-1zM1035 640h1v1h-1zM1035 644h1v1h-1zM1035 648h1v1h-1zM1035 652h1v1h-1zM1035 656h1v1h-1zM1035 660h1v1h-1zM1035 665h1v1h-1zM1035 669h1v1h-1zM1035 673h1v1h-1zM1035 677h1v1h-1zM1035 681h1v1h-1zM1035 685h1v1h-1zM1035 689h1v1h-1zM1035 693h1v1h-1zM1035 697h1v1h-1zM1035 701h1v1h-1zM1035 729h1v1h-1zM1035 735h1v1h-1zM1035 741h1v1h-1zM1035 747h1v1h-1zM1035 752h1v1h-1zM1035 758h1v1h-1zM1035 764h1v1h-1zM1035 770h1v1h-1zM1035 775h1v1h-1zM1035 781h1v1h-1zM1035 787h1v1h-1zM1035 793h1v1h-1zM1035 798h1v1h-1zM1035 804h1v1h-1zM1035 810h1v1h-1zM1035 816h1v1h-1zM1050 26h1v1h-1zM1050 376h1v1h-1zM1050 458h1v1h-1zM1050 505h1v1h-1zM1050 523h1v1h-1zM1050 577h1v1h-1zM1050 604h1v1h-1zM1050 624h1v1h-1zM1050 644h1v1h-1zM1050 665h1v1h-1zM1050 685h1v1h-1zM1065 26h1v1h-1zM1065 376h1v1h-1zM1065 458h1v1h-1zM1065 505h1v1h-1zM1065 523h1v1h-1zM1065 577h1v1h-1zM1065 604h1v1h-1zM1065 624h1v1h-1zM1065 644h1v1h-1zM1065 665h1v1h-1zM1065 685h1v1h-1zM1080 26h1v1h-1zM1080 376h1v1h-1zM1080 458h1v1h-1zM1080 505h1v1h-1zM1080 523h1v1h-1zM1080 577h1v1h-1zM1080 604h1v1h-1zM1080 624h1v1h-1zM1080 644h1v1h-1zM1080 665h1v1h-1zM1080 685h1v1h-1zM1095 26h1v1h-1zM1095 376h1v1h-1zM1095 458h1v1h-1zM1095 505h1v1h-1zM1095 523h1v1h-1zM1095 577h1v1h-1zM1095 604h1v1h-1zM1095 624h1v1h-1zM1095 644h1v1h-1zM1095 665h1v1h-1zM1095 685h1v1h-1zM1110 26h1v1h-1zM1110 61h1v1h-1zM1110 96h1v1h-1zM1110 131h1v1h-1zM1110 166h1v1h-1zM1110 201h1v1h-1zM1110 236h1v1h-1zM1110 271h1v1h-1zM1110 306h1v1h-1zM1110 341h1v1h-1zM1110 376h1v1h-1zM1110 416h1v1h-1zM1110 420h1v1h-1zM1110 425h1v1h-1zM1110 430h1v1h-1zM1110 434h1v1h-1zM1110 439h1v1h-1zM1110 444h1v1h-1zM1110 449h1v1h-1zM1110 453h1v1h-1zM1110 458h1v1h-1zM1110 463h1v1h-1zM1110 468h1v1h-1zM1110 472h1v1h-1zM1110 477h1v1h-1zM1110 482h1v1h-1zM1110 486h1v1h-1zM1110 491h1v1h-1zM1110 496h1v1h-1zM1110 500h1v1h-1zM1110 505h1v1h-1zM1110 523h1v1h-1zM1110 528h1v1h-1zM1110 533h1v1h-1zM1110 539h1v1h-1zM1110 544h1v1h-1zM1110 550h1v1h-1zM1110 555h1v1h-1zM1110 560h1v1h-1zM1110 566h1v1h-1zM1110 571h1v1h-1zM1110 577h1v1h-1zM1110 582h1v1h-1zM1110 587h1v1h-1zM1110 593h1v1h-1zM1110 598h1v1h-1zM1110 604h1v1h-1zM1110 624h1v1h-1zM1110 628h1v1h-1zM1110 632h1v1h-1zM1110 636h1v1h-1zM1110 640h1v1h-1zM1110 644h1v1h-1zM1110 648h1v1h-1zM1110 652h1v1h-1zM1110 656h1v1h-1zM1110 660h1v1h-1zM1110 665h1v1h-1zM1110 669h1v1h-1zM1110 673h1v1h-1zM1110 677h1v1h-1zM1110 681h1v1h-1zM1110 685h1v1h-1zM1110 689h1v1h-1zM1110 693h1v1h-1zM1110 697h1v1h-1zM1110 701h1v1h-1zM1110 729h1v1h-1zM1110 735h1v1h-1zM1110 741h1v1h-1zM1110 747h1v1h-1zM1110 752h1v1h-1zM1110 758h1v1h-1zM1110 764h1v1h-1zM1110 770h1v1h-1zM1110 775h1v1h-1zM1110 781h1v1h-1zM1110 787h1v1h-1zM1110 793h1v1h-1zM1110 798h1v1h-1zM1110 804h1v1h-1zM1110 810h1v1h-1zM1110 816h1v1h-1zM1125 26h1v1h-1zM1125 376h1v1h-1zM1125 458h1v1h-1zM1125 505h1v1h-1zM1125 523h1v1h-1zM1125 577h1v1h-1zM1125 604h1v1h-1zM1125 624h1v1h-1zM1125 644h1v1h-1zM1125 665h1v1h-1zM1125 685h1v1h-1zM1140 26h1v1h-1zM1140 376h1v1h-1zM1140 458h1v1h-1zM1140 505h1v1h-1zM1140 523h1v1h-1zM1140 577h1v1h-1zM1140 604h1v1h-1zM1140 624h1v1h-1zM1140 644h1v1h-1zM1140 665h1v1h-1zM1140 685h1v1h-1zM1155 26h1v1h-1zM1155 376h1v1h-1zM1155 458h1v1h-1zM1155 505h1v1h-1zM1155 523h1v1h-1zM1155 577h1v1h-1zM1155 604h1v1h-1zM1155 624h1v1h-1zM1155 644h1v1h-1zM1155 665h1v1h-1zM1155 685h1v1h-1zM1170 26h1v1h-1zM1170 61h1v1h-1zM1170 96h1v1h-1zM1170 131h1v1h-1zM1170 166h1v1h-1zM1170 201h1v1h-1zM1170 236h1v1h-1zM1170 271h1v1h-1zM1170 306h1v1h-1zM1170 341h1v1h-1zM1170 376h1v1h-1zM1170 416h1v1h-1zM1170 420h1v1h-1zM1170 425h1v1h-1zM1170 430h1v1h-1zM1170 434h1v1h-1zM1170 439h1v1h-1zM1170 444h1v1h-1zM1170 449h1v1h-1zM1170 453h1v1h-1zM1170 458h1v1h-1zM1170 463h1v1h-1zM1170 468h1v1h-1zM1170 472h1v1h-1zM1170 477h1v1h-1zM1170 482h1v1h-1zM1170 486h1v1h-1zM1170 491h1v1h-1zM1170 496h1v1h-1zM1170 500h1v1h-1zM1170 505h1v1h-1zM1170 523h1v1h-1zM1170 528h1v1h-1zM1170 533h1v1h-1zM1170 539h1v1h-1zM1170 544h1v1h-1zM1170 550h1v1h-1zM1170 555h1v1h-1zM1170 560h1v1h-1zM1170 566h1v1h-1zM1170 571h1v1h-1zM1170 577h1v1h-1zM1170 582h1v1h-1zM1170 587h1v1h-1zM1170 593h1v1h-1zM1170 598h1v1h-1zM1170 604h1v1h-1zM1170 624h1v1h-1zM1170 628h1v1h-1zM1170 632h1v1h-1zM1170 636h1v1h-1zM1170 640h1v1h-1zM1170 644h1v1h-1zM1170 648h1v1h-1zM1170 652h1v1h-1zM1170 656h1v1h-1zM1170 660h1v1h-1zM1170 665h1v1h-1zM1170 669h1v1h-1zM1170 673h1v1h-1zM1170 677h1v1h-1zM1170 681h1v1h-1zM1170 685h1v1h-1zM1170 689h1v1h-1zM1170 693h1v1h-1zM1170 697h1v1h-1zM1170 701h1v1h-1zM1170 729h1v1h-1zM1170 735h1v1h-1zM1170 741h1v1h-1zM1170 747h1v1h-1zM1170 752h1v1h-1zM1170 758h1v1h-1zM1170 764h1v1h-1zM1170 770h1v1h-1zM1170 775h1v1h-1zM1170 781h1v1h-1zM1170 787h1v1h-1zM1170 793h1v1h-1zM1170 798h1v1h-1zM1170 804h1v1h-1zM1170 810h1v1h-1zM1170 816h1v1h-1zM1185 26h1v1h-1zM1185 376h1v1h-1zM1185 458h1v1h-1zM1185 505h1v1h-1zM1185 523h1v1h-1zM1185 577h1v1h-1zM1185 604h1v1h-1zM1185 624h1v1h-1zM1185 644h1v1h-1zM1185 665h1v1h-1zM1185 685h1v1h-1z" fill="#000"/>
<rect x="28" y="2" width="2" height="12" fill="#707070"/>
<rect x="3" y="12" width="27" height="2" fill="#606060"/>
<rect x="1" y="1" width="27" height="11" fill="#fff"/>
<text x="2" y="10" font-size="10.5" font-weight="bold" text-anchor="start" fill="#000" stroke="#000" stroke-width="0.35">Data</text>
<rect x="56" y="407" width="2" height="12" fill="#707070"/>
<rect x="3" y="417" width="55" height="2" fill="#606060"/>
<rect x="1" y="406" width="55" height="11" fill="#fff"/>
<text x="2" y="415" font-size="10.5" font-weight="bold" text-anchor="start" fill="#000" stroke="#000" stroke-width="0.35">Stochastic</text>
<rect x="33" y="515" width="2" height="12" fill="#707070"/>
<rect x="3" y="525" width="32" height="2" fill="#606060"/>
<rect x="1" y="514" width="32" height="11" fill="#fff"/>
<text x="2" y="523" font-size="10.5" font-weight="bold" text-anchor="start" fill="#000" stroke="#000" stroke-width="0.35">MACD</text>
<rect x="26" y="616" width="2" height="12" fill="#707070"/>
<rect x="3" y="626" width="25" height="2" fill="#606060"/>
<rect x="1" y="615" width="25" height="11" fill="#fff"/>
<text x="2" y="624" font-size="10.5" font-weight="bold" text-anchor="start" fill="#000" stroke="#000" stroke-width="0.35">ADX</text>
<rect x="34" y="718" width="2" height="12" fill="#707070"/>
<rect x="3" y="728" width="33" height="2" fill="#606060"/>
<rect x="1" y="717" width="33" height="11" fill="#fff"/>
<text x="2" y="726" font-size="10.5" font-weight="bold" text-anchor="start" fill="#000" stroke="#000" stroke-width="0.35">RSI, 9</text>
<g clip-path="url(#cpData)">
<line x1="0" y1="69" x2="1185.5" y2="312.5" stroke="#ffa800" stroke-width="1"/>
<line x1="0" y1="69" x2="1185.5" y2="312.5" stroke="#ff4800" stroke-width="1" stroke-dasharray="1 1"/>
<line x1="901" y1="0.5" x2="1185.5" y2="59" stroke="#ffa800" stroke-width="1"/>
<line x1="901" y1="0.5" x2="1185.5" y2="59" stroke="#ff4800" stroke-width="1" stroke-dasharray="1 1"/>
<polyline points="30.5,-8.20 45.5,8.50 60.5,0.50 75.5,-2.00 90.5,8.50 105.5,38.50 120.5,102.50 135.5,125.50 150.5,160.50 165.5,200.50 180.5,246.50 195.5,259.50 210.5,261.50 225.5,241.50 240.5,251.50 255.5,225.30 270.5,184.50 285.5,173.50 300.5,153.80 315.5,164.50 330.5,164.80 345.5,178.50 360.5,144.50 375.5,114.50 390.5,131.30 405.5,182.50 420.5,212.50 435.5,252.50 450.5,321.50 465.5,332.80 480.5,349.70 495.5,344.30 510.5,338.80 525.5,362.10 540.5,386.90 555.5,399.70 570.5,398.70 585.5,387.80 600.5,355.90 615.5,343.70 630.5,347.30 645.5,353.50 660.5,360.70 675.5,310.50 690.5,268.50 705.5,222.50 720.5,191.30 735.5,179.50 750.5,170.10 765.5,190.20 780.5,183.20 795.5,187.70 810.5,167.50 825.5,161.30 840.5,142.40 855.5,108.40 870.5,74.40 885.5,70.50 900.5,64.70 915.5,45.30 930.5,54.70 945.5,56.40 960.5,52.10 975.5,44.50 990.5,40.80 1005.5,35.80 1020.5,25.70 1035.5,23.90 1050.5,26.50 1065.5,30.70 1080.5,42.10 1095.5,74.80 1110.5,73.00 1125.5,74.80 1140.5,78.60 1155.5,81.60 1170.5,87.40 1185.5,84.90" fill="none" stroke="#000080" stroke-width="1"/>
<polyline points="0.5,165.50 15.5,153.50 30.5,186.50 45.5,202.00 60.5,230.50 75.5,263.50 90.5,320.50 105.5,376.50 120.5,374.50 135.5,380.50 150.5,402.50 165.5,400.50 180.5,382.50 195.5,382.50 210.5,368.50 225.5,376.50 240.5,374.50 255.5,367.50 270.5,365.50 285.5,359.00 300.5,340.50 315.5,310.10 330.5,308.70 345.5,282.00 360.5,352.50 375.5,440.50" fill="none" stroke="#000080" stroke-width="1"/>
<polyline points="735.5,470.50 750.5,394.00 765.5,319.50 780.5,301.80 795.5,275.60 810.5,273.50 825.5,258.80 840.5,244.10 855.5,254.60 870.5,251.00 885.5,233.00 900.5,202.00 915.5,189.50 930.5,154.20 945.5,136.50 960.5,132.70 975.5,132.70 990.5,111.80 1005.5,123.90 1020.5,161.70 1035.5,157.90 1050.5,164.20 1065.5,165.50 1080.5,176.80 1095.5,171.80 1110.5,171.80 1125.5,168.00 1140.5,193.20 1155.5,194.00 1170.5,190.70 1185.5,189.50" fill="none" stroke="#000080" stroke-width="1"/>
<polyline points="80.5,-7.75 90.5,8.25 105.5,32.25 120.5,56.25 135.5,79.25 150.5,101.55 165.5,125.25 180.5,150.25 195.5,170.25 210.5,188.25 225.5,203.25 240.5,217.85 255.5,226.25 270.5,230.15 285.5,236.05 300.5,242.25 315.5,252.25 330.5,262.05 345.5,265.55 360.5,274.25 375.5,287.25 390.5,294.65 405.5,299.75 420.5,300.55 435.5,305.05 450.5,310.75 465.5,313.85 480.5,317.35 495.5,324.25 510.5,332.25 525.5,339.15 540.5,349.05 555.5,356.95 570.5,364.85 585.5,374.75 600.5,381.05 615.5,389.75 630.5,398.25 645.5,408.25" fill="none" stroke="#8b0000" stroke-width="2.5" stroke-linejoin="round"/>
<polyline points="675.5,412.25 690.5,402.25 705.5,395.75 720.5,390.75 735.5,384.75 750.5,377.25 765.5,368.95 780.5,360.25 795.5,349.25 810.5,336.75 825.5,321.75 840.5,306.75 855.5,289.75 870.5,272.75 885.5,259.25 900.5,245.35 915.5,230.25 930.5,216.25 945.5,199.25 960.5,181.65 975.5,168.75 990.5,157.75 1005.5,150.25 1020.5,144.75 1035.5,136.25 1050.5,128.75 1065.5,122.75 1080.5,118.65 1095.5,116.65 1110.5,113.25 1125.5,110.55 1140.5,109.25 1155.5,109.05 1170.5,109.25 1185.5,110.25" fill="none" stroke="#8b0000" stroke-width="2.5" stroke-linejoin="round"/>
<polyline points="585.5,-1.75 600.5,3.75 615.5,10.05 630.5,16.05 645.5,21.85 660.5,26.85 675.5,31.25 690.5,35.75 705.5,40.25 720.5,44.25 735.5,47.75 750.5,51.05 765.5,57.75 780.5,63.05 795.5,70.25 810.5,75.75 825.5,80.25 840.5,85.25 855.5,90.55 870.5,95.75 885.5,100.75 900.5,107.75 915.5,114.75 930.5,121.25 945.5,127.05 960.5,132.45 975.5,137.05 990.5,141.25 1005.5,144.75 1020.5,148.25 1035.5,151.35 1050.5,153.35 1065.5,155.95 1080.5,159.95 1095.5,163.95 1110.5,168.25 1125.5,172.75 1140.5,175.75 1155.5,178.55 1170.5,180.05 1185.5,181.15" fill="none" stroke="#00ff00" stroke-width="2.5" stroke-linejoin="round"/>
<rect x="-5" y="32" width="11" height="29" fill="#000"/>
<rect x="-4" y="33" width="9" height="27" fill="#fff"/>
<rect x="15" y="10" width="1" height="23" fill="#000"/>
<rect x="15" y="72" width="1" height="4" fill="#000"/>
<rect x="10" y="32" width="11" height="41" fill="#000"/>
<rect x="11" y="33" width="9" height="39" fill="#626262"/>
<rect x="30" y="47" width="1" height="1" fill="#000"/>
<rect x="30" y="177" width="1" height="4" fill="#000"/>
<rect x="25" y="47" width="11" height="131" fill="#000"/>
<rect x="26" y="48" width="9" height="129" fill="#626262"/>
<rect x="45" y="146" width="1" height="16" fill="#000"/>
<rect x="45" y="199" width="1" height="24" fill="#000"/>
<rect x="40" y="161" width="11" height="39" fill="#000"/>
<rect x="41" y="162" width="9" height="37" fill="#fff"/>
<rect x="60" y="143" width="1" height="11" fill="#000"/>
<rect x="60" y="193" width="1" height="16" fill="#000"/>
<rect x="55" y="153" width="11" height="41" fill="#000"/>
<rect x="56" y="154" width="9" height="39" fill="#626262"/>
<rect x="75" y="150" width="1" height="11" fill="#000"/>
<rect x="75" y="212" width="1" height="5" fill="#000"/>
<rect x="70" y="160" width="11" height="53" fill="#000"/>
<rect x="71" y="161" width="9" height="51" fill="#626262"/>
<rect x="90" y="166" width="1" height="41" fill="#000"/>
<rect x="90" y="278" width="1" height="11" fill="#000"/>
<rect x="85" y="206" width="11" height="73" fill="#000"/>
<rect x="86" y="207" width="9" height="71" fill="#626262"/>
<rect x="105" y="272" width="1" height="19" fill="#000"/>
<rect x="105" y="360" width="1" height="9" fill="#000"/>
<rect x="100" y="290" width="11" height="71" fill="#000"/>
<rect x="101" y="291" width="9" height="69" fill="#626262"/>
<rect x="120" y="279" width="1" height="16" fill="#000"/>
<rect x="120" y="350" width="1" height="43" fill="#000"/>
<rect x="115" y="294" width="11" height="57" fill="#000"/>
<rect x="116" y="295" width="9" height="55" fill="#fff"/>
<rect x="135" y="241" width="1" height="34" fill="#000"/>
<rect x="135" y="325" width="1" height="30" fill="#000"/>
<rect x="130" y="274" width="11" height="52" fill="#000"/>
<rect x="131" y="275" width="9" height="50" fill="#fff"/>
<rect x="150" y="275" width="1" height="5" fill="#000"/>
<rect x="150" y="362" width="1" height="9" fill="#000"/>
<rect x="145" y="279" width="11" height="84" fill="#000"/>
<rect x="146" y="280" width="9" height="82" fill="#626262"/>
<rect x="165" y="300" width="1" height="31" fill="#000"/>
<rect x="165" y="352" width="1" height="22" fill="#000"/>
<rect x="160" y="330" width="11" height="23" fill="#000"/>
<rect x="161" y="331" width="9" height="21" fill="#fff"/>
<rect x="180" y="277" width="1" height="25" fill="#000"/>
<rect x="180" y="357" width="1" height="2" fill="#000"/>
<rect x="175" y="301" width="11" height="57" fill="#000"/>
<rect x="176" y="302" width="9" height="55" fill="#fff"/>
<rect x="195" y="272" width="1" height="25" fill="#000"/>
<rect x="195" y="323" width="1" height="1" fill="#000"/>
<rect x="190" y="296" width="11" height="28" fill="#000"/>
<rect x="191" y="297" width="9" height="26" fill="#626262"/>
<rect x="210" y="317" width="1" height="1" fill="#000"/>
<rect x="210" y="331" width="1" height="42" fill="#000"/>
<rect x="205" y="317" width="11" height="15" fill="#000"/>
<rect x="206" y="318" width="9" height="13" fill="#fff"/>
<rect x="225" y="247" width="1" height="7" fill="#000"/>
<rect x="225" y="290" width="1" height="17" fill="#000"/>
<rect x="220" y="253" width="11" height="38" fill="#000"/>
<rect x="221" y="254" width="9" height="36" fill="#fff"/>
<rect x="240" y="231" width="1" height="11" fill="#000"/>
<rect x="240" y="303" width="1" height="8" fill="#000"/>
<rect x="235" y="241" width="11" height="63" fill="#000"/>
<rect x="236" y="242" width="9" height="61" fill="#626262"/>
<rect x="255" y="212" width="1" height="14" fill="#000"/>
<rect x="255" y="296" width="1" height="19" fill="#000"/>
<rect x="250" y="225" width="11" height="72" fill="#000"/>
<rect x="251" y="226" width="9" height="70" fill="#fff"/>
<rect x="270" y="176" width="1" height="25" fill="#000"/>
<rect x="270" y="210" width="1" height="29" fill="#000"/>
<rect x="265" y="200" width="11" height="11" fill="#000"/>
<rect x="266" y="201" width="9" height="9" fill="#fff"/>
<rect x="285" y="172" width="1" height="27" fill="#000"/>
<rect x="285" y="231" width="1" height="3" fill="#000"/>
<rect x="280" y="198" width="11" height="34" fill="#000"/>
<rect x="281" y="199" width="9" height="32" fill="#626262"/>
<rect x="300" y="177" width="1" height="12" fill="#000"/>
<rect x="300" y="218" width="1" height="16" fill="#000"/>
<rect x="295" y="188" width="11" height="31" fill="#000"/>
<rect x="296" y="189" width="9" height="29" fill="#fff"/>
<rect x="315" y="159" width="1" height="40" fill="#000"/>
<rect x="315" y="257" width="1" height="7" fill="#000"/>
<rect x="310" y="198" width="11" height="60" fill="#000"/>
<rect x="311" y="199" width="9" height="58" fill="#626262"/>
<rect x="330" y="219" width="1" height="18" fill="#000"/>
<rect x="330" y="250" width="1" height="25" fill="#000"/>
<rect x="325" y="236" width="11" height="15" fill="#000"/>
<rect x="326" y="237" width="9" height="13" fill="#626262"/>
<rect x="345" y="205" width="1" height="36" fill="#000"/>
<rect x="345" y="257" width="1" height="6" fill="#000"/>
<rect x="340" y="240" width="11" height="18" fill="#000"/>
<rect x="341" y="241" width="9" height="16" fill="#626262"/>
<rect x="360" y="282" width="1" height="3" fill="#000"/>
<rect x="360" y="359" width="1" height="6" fill="#000"/>
<rect x="355" y="284" width="11" height="76" fill="#000"/>
<rect x="356" y="285" width="9" height="74" fill="#626262"/>
<rect x="375" y="313" width="1" height="20" fill="#000"/>
<rect x="375" y="420" width="1" height="11" fill="#000"/>
<rect x="370" y="332" width="11" height="89" fill="#000"/>
<rect x="371" y="333" width="9" height="87" fill="#626262"/>
<rect x="390" y="373" width="1" height="5" fill="#000"/>
<rect x="390" y="420" width="1" height="11" fill="#000"/>
<rect x="385" y="377" width="11" height="44" fill="#000"/>
<rect x="386" y="378" width="9" height="42" fill="#fff"/>
<rect x="405" y="333" width="1" height="53" fill="#000"/>
<rect x="405" y="394" width="1" height="37" fill="#000"/>
<rect x="400" y="385" width="11" height="10" fill="#000"/>
<rect x="401" y="386" width="9" height="8" fill="#fff"/>
<rect x="420" y="348" width="1" height="10" fill="#000"/>
<rect x="420" y="420" width="1" height="11" fill="#000"/>
<rect x="415" y="357" width="11" height="64" fill="#000"/>
<rect x="416" y="358" width="9" height="62" fill="#fff"/>
<rect x="435" y="335" width="1" height="13" fill="#000"/>
<rect x="435" y="380" width="1" height="51" fill="#000"/>
<rect x="430" y="347" width="11" height="34" fill="#000"/>
<rect x="431" y="348" width="9" height="32" fill="#626262"/>
<rect x="450" y="387" width="1" height="24" fill="#000"/>
<rect x="450" y="420" width="1" height="11" fill="#000"/>
<rect x="445" y="410" width="11" height="11" fill="#000"/>
<rect x="446" y="411" width="9" height="9" fill="#626262"/>
<rect x="465" y="391" width="1" height="3" fill="#000"/>
<rect x="465" y="403" width="1" height="28" fill="#000"/>
<rect x="460" y="393" width="11" height="11" fill="#000"/>
<rect x="461" y="394" width="9" height="9" fill="#626262"/>
<rect x="480" y="354" width="1" height="34" fill="#000"/>
<rect x="480" y="420" width="1" height="11" fill="#000"/>
<rect x="475" y="387" width="11" height="34" fill="#000"/>
<rect x="476" y="388" width="9" height="32" fill="#626262"/>
<rect x="570" y="400" width="1" height="1" fill="#000"/>
<rect x="570" y="420" width="1" height="11" fill="#000"/>
<rect x="565" y="400" width="11" height="21" fill="#000"/>
<rect x="566" y="401" width="9" height="19" fill="#fff"/>
<rect x="585" y="381" width="1" height="10" fill="#000"/>
<rect x="585" y="402" width="1" height="29" fill="#000"/>
<rect x="580" y="390" width="11" height="13" fill="#000"/>
<rect x="581" y="391" width="9" height="11" fill="#626262"/>
<rect x="600" y="361" width="1" height="11" fill="#000"/>
<rect x="600" y="376" width="1" height="11" fill="#000"/>
<rect x="595" y="371" width="11" height="6" fill="#000"/>
<rect x="596" y="372" width="9" height="4" fill="#fff"/>
<rect x="615" y="366" width="1" height="3" fill="#000"/>
<rect x="615" y="376" width="1" height="16" fill="#000"/>
<rect x="610" y="368" width="11" height="9" fill="#000"/>
<rect x="611" y="369" width="9" height="7" fill="#626262"/>
<rect x="630" y="370" width="1" height="7" fill="#000"/>
<rect x="630" y="420" width="1" height="11" fill="#000"/>
<rect x="625" y="376" width="11" height="45" fill="#000"/>
<rect x="626" y="377" width="9" height="43" fill="#626262"/>
<rect x="660" y="396" width="1" height="6" fill="#000"/>
<rect x="660" y="420" width="1" height="11" fill="#000"/>
<rect x="655" y="401" width="11" height="20" fill="#000"/>
<rect x="656" y="402" width="9" height="18" fill="#fff"/>
<rect x="675" y="297" width="1" height="5" fill="#000"/>
<rect x="675" y="392" width="1" height="4" fill="#000"/>
<rect x="670" y="301" width="11" height="92" fill="#000"/>
<rect x="671" y="302" width="9" height="90" fill="#fff"/>
<rect x="690" y="265" width="1" height="28" fill="#000"/>
<rect x="690" y="309" width="1" height="11" fill="#000"/>
<rect x="685" y="292" width="11" height="18" fill="#000"/>
<rect x="686" y="293" width="9" height="16" fill="#fff"/>
<rect x="705" y="230" width="1" height="25" fill="#000"/>
<rect x="705" y="282" width="1" height="24" fill="#000"/>
<rect x="700" y="254" width="11" height="29" fill="#000"/>
<rect x="701" y="255" width="9" height="27" fill="#fff"/>
<rect x="720" y="224" width="1" height="20" fill="#000"/>
<rect x="720" y="257" width="1" height="9" fill="#000"/>
<rect x="715" y="243" width="11" height="15" fill="#000"/>
<rect x="716" y="244" width="9" height="13" fill="#626262"/>
<rect x="735" y="246" width="1" height="12" fill="#000"/>
<rect x="735" y="274" width="1" height="22" fill="#000"/>
<rect x="730" y="257" width="11" height="18" fill="#000"/>
<rect x="731" y="258" width="9" height="16" fill="#fff"/>
<rect x="750" y="206" width="1" height="4" fill="#000"/>
<rect x="750" y="241" width="1" height="1" fill="#000"/>
<rect x="745" y="209" width="11" height="33" fill="#000"/>
<rect x="746" y="210" width="9" height="31" fill="#fff"/>
<rect x="765" y="206" width="1" height="3" fill="#000"/>
<rect x="765" y="211" width="1" height="23" fill="#000"/>
<rect x="760" y="208" width="11" height="4" fill="#000"/>
<rect x="761" y="209" width="9" height="2" fill="#fff"/>
<rect x="780" y="195" width="1" height="8" fill="#000"/>
<rect x="780" y="210" width="1" height="9" fill="#000"/>
<rect x="775" y="202" width="11" height="9" fill="#000"/>
<rect x="776" y="203" width="9" height="7" fill="#626262"/>
<rect x="795" y="202" width="1" height="2" fill="#000"/>
<rect x="795" y="218" width="1" height="4" fill="#000"/>
<rect x="790" y="203" width="11" height="16" fill="#000"/>
<rect x="791" y="204" width="9" height="14" fill="#626262"/>
<rect x="810" y="175" width="1" height="3" fill="#000"/>
<rect x="810" y="218" width="1" height="28" fill="#000"/>
<rect x="805" y="177" width="11" height="42" fill="#000"/>
<rect x="806" y="178" width="9" height="40" fill="#fff"/>
<rect x="825" y="163" width="1" height="21" fill="#000"/>
<rect x="825" y="187" width="1" height="6" fill="#000"/>
<rect x="820" y="183" width="11" height="5" fill="#000"/>
<rect x="821" y="184" width="9" height="3" fill="#fff"/>
<rect x="840" y="131" width="1" height="14" fill="#000"/>
<rect x="840" y="172" width="1" height="4" fill="#000"/>
<rect x="835" y="144" width="11" height="29" fill="#000"/>
<rect x="836" y="145" width="9" height="27" fill="#fff"/>
<rect x="855" y="95" width="1" height="13" fill="#000"/>
<rect x="855" y="124" width="1" height="11" fill="#000"/>
<rect x="850" y="107" width="11" height="18" fill="#000"/>
<rect x="851" y="108" width="9" height="16" fill="#fff"/>
<rect x="870" y="76" width="1" height="21" fill="#000"/>
<rect x="870" y="117" width="1" height="5" fill="#000"/>
<rect x="865" y="96" width="11" height="22" fill="#000"/>
<rect x="866" y="97" width="9" height="20" fill="#fff"/>
<rect x="885" y="87" width="1" height="11" fill="#000"/>
<rect x="885" y="131" width="1" height="11" fill="#000"/>
<rect x="880" y="97" width="11" height="35" fill="#000"/>
<rect x="881" y="98" width="9" height="33" fill="#626262"/>
<rect x="900" y="82" width="1" height="10" fill="#000"/>
<rect x="900" y="114" width="1" height="9" fill="#000"/>
<rect x="895" y="91" width="11" height="24" fill="#000"/>
<rect x="896" y="92" width="9" height="22" fill="#fff"/>
<rect x="915" y="64" width="1" height="1" fill="#000"/>
<rect x="915" y="96" width="1" height="9" fill="#000"/>
<rect x="910" y="64" width="11" height="33" fill="#000"/>
<rect x="911" y="65" width="9" height="31" fill="#fff"/>
<rect x="930" y="55" width="1" height="1" fill="#000"/>
<rect x="930" y="105" width="1" height="24" fill="#000"/>
<rect x="925" y="55" width="11" height="51" fill="#000"/>
<rect x="926" y="56" width="9" height="49" fill="#626262"/>
<rect x="945" y="69" width="1" height="11" fill="#000"/>
<rect x="945" y="102" width="1" height="22" fill="#000"/>
<rect x="940" y="79" width="11" height="24" fill="#000"/>
<rect x="941" y="80" width="9" height="22" fill="#fff"/>
<rect x="960" y="61" width="1" height="8" fill="#000"/>
<rect x="960" y="80" width="1" height="10" fill="#000"/>
<rect x="955" y="68" width="11" height="13" fill="#000"/>
<rect x="956" y="69" width="9" height="11" fill="#626262"/>
<rect x="975" y="56" width="1" height="13" fill="#000"/>
<rect x="975" y="74" width="1" height="11" fill="#000"/>
<rect x="970" y="68" width="11" height="7" fill="#000"/>
<rect x="971" y="69" width="9" height="5" fill="#fff"/>
<rect x="990" y="36" width="1" height="12" fill="#000"/>
<rect x="990" y="55" width="1" height="2" fill="#000"/>
<rect x="985" y="47" width="11" height="9" fill="#000"/>
<rect x="986" y="48" width="9" height="7" fill="#fff"/>
<rect x="1005" y="26" width="1" height="18" fill="#000"/>
<rect x="1005" y="115" width="1" height="6" fill="#000"/>
<rect x="1000" y="43" width="11" height="73" fill="#000"/>
<rect x="1001" y="44" width="9" height="71" fill="#626262"/>
<rect x="1020" y="115" width="1" height="1" fill="#000"/>
<rect x="1020" y="158" width="1" height="4" fill="#000"/>
<rect x="1015" y="115" width="11" height="44" fill="#000"/>
<rect x="1016" y="116" width="9" height="42" fill="#626262"/>
<rect x="1035" y="82" width="1" height="5" fill="#000"/>
<rect x="1035" y="145" width="1" height="1" fill="#000"/>
<rect x="1030" y="86" width="11" height="60" fill="#000"/>
<rect x="1031" y="87" width="9" height="58" fill="#fff"/>
<rect x="1050" y="58" width="1" height="39" fill="#000"/>
<rect x="1050" y="115" width="1" height="4" fill="#000"/>
<rect x="1045" y="96" width="11" height="20" fill="#000"/>
<rect x="1046" y="97" width="9" height="18" fill="#626262"/>
<rect x="1065" y="71" width="1" height="26" fill="#000"/>
<rect x="1065" y="99" width="1" height="6" fill="#000"/>
<rect x="1060" y="96" width="11" height="4" fill="#000"/>
<rect x="1061" y="97" width="9" height="2" fill="#626262"/>
<rect x="1080" y="114" width="1" height="4" fill="#000"/>
<rect x="1080" y="139" width="1" height="10" fill="#000"/>
<rect x="1075" y="117" width="11" height="23" fill="#000"/>
<rect x="1076" y="118" width="9" height="21" fill="#626262"/>
<rect x="1095" y="105" width="1" height="9" fill="#000"/>
<rect x="1095" y="146" width="1" height="8" fill="#000"/>
<rect x="1090" y="113" width="11" height="34" fill="#000"/>
<rect x="1091" y="114" width="9" height="32" fill="#626262"/>
<rect x="1110" y="102" width="1" height="9" fill="#000"/>
<rect x="1110" y="128" width="1" height="7" fill="#000"/>
<rect x="1105" y="110" width="11" height="19" fill="#000"/>
<rect x="1106" y="111" width="9" height="17" fill="#fff"/>
<rect x="1125" y="100" width="1" height="5" fill="#000"/>
<rect x="1125" y="150" width="1" height="3" fill="#000"/>
<rect x="1120" y="104" width="11" height="47" fill="#000"/>
<rect x="1121" y="105" width="9" height="45" fill="#626262"/>
<rect x="1140" y="132" width="1" height="14" fill="#000"/>
<rect x="1140" y="190" width="1" height="3" fill="#000"/>
<rect x="1135" y="145" width="11" height="46" fill="#000"/>
<rect x="1136" y="146" width="9" height="44" fill="#626262"/>
<rect x="1155" y="115" width="1" height="7" fill="#000"/>
<rect x="1155" y="180" width="1" height="23" fill="#000"/>
<rect x="1150" y="121" width="11" height="60" fill="#000"/>
<rect x="1151" y="122" width="9" height="58" fill="#fff"/>
<rect x="1170" y="79" width="1" height="34" fill="#000"/>
<rect x="1170" y="127" width="1" height="13" fill="#000"/>
<rect x="1165" y="112" width="11" height="16" fill="#000"/>
<rect x="1166" y="113" width="9" height="14" fill="#fff"/>
<rect x="1185" y="87" width="1" height="5" fill="#000"/>
<rect x="1185" y="126" width="1" height="5" fill="#000"/>
<rect x="1180" y="91" width="11" height="36" fill="#000"/>
<rect x="1181" y="92" width="9" height="34" fill="#626262"/>
<rect x="1" y="8" width="1214" height="1" fill="#0000ff"/>
<rect x="1" y="142" width="1214" height="1" fill="#0000ff"/>
<rect x="1" y="201" width="1214" height="1" fill="#008000"/>
<rect x="1" y="228" width="1214" height="1" fill="#0000ff"/>
<rect x="1" y="279" width="1214" height="1" fill="#0000ff"/>
<rect x="1" y="392" width="1214" height="1" fill="#ff0000"/>
<rect x="1" y="291" width="1199" height="1" fill="url(#pinkdots)"/>
</g>
<text x="1" y="302" font-size="11" font-weight="normal" text-anchor="start" fill="#b86a80">0.618</text>
<text x="952" y="432" font-size="15" font-weight="normal" fill="#a69c9c" letter-spacing="1.55">Портал для трейдеров - ForTrader.ru</text>
<g clip-path="url(#cpSto)">
<rect x="0" y="434" width="3" height="1" fill="#c00000"/>
<rect x="0" y="486" width="3" height="1" fill="#0000ff"/>
<rect x="6" y="434" width="3" height="1" fill="#c00000"/>
<rect x="6" y="486" width="3" height="1" fill="#0000ff"/>
<rect x="12" y="434" width="3" height="1" fill="#c00000"/>
<rect x="12" y="486" width="3" height="1" fill="#0000ff"/>
<rect x="18" y="434" width="3" height="1" fill="#c00000"/>
<rect x="18" y="486" width="3" height="1" fill="#0000ff"/>
<rect x="24" y="434" width="3" height="1" fill="#c00000"/>
<rect x="24" y="486" width="3" height="1" fill="#0000ff"/>
<rect x="30" y="434" width="3" height="1" fill="#c00000"/>
<rect x="30" y="486" width="3" height="1" fill="#0000ff"/>
<rect x="36" y="434" width="3" height="1" fill="#c00000"/>
<rect x="36" y="486" width="3" height="1" fill="#0000ff"/>
<rect x="42" y="434" width="3" height="1" fill="#c00000"/>
<rect x="42" y="486" width="3" height="1" fill="#0000ff"/>
<rect x="48" y="434" width="3" height="1" fill="#c00000"/>
<rect x="48" y="486" width="3" height="1" fill="#0000ff"/>
<rect x="54" y="434" width="3" height="1" fill="#c00000"/>
<rect x="54" y="486" width="3" height="1" fill="#0000ff"/>
<rect x="60" y="434" width="3" height="1" fill="#c00000"/>
<rect x="60" y="486" width="3" height="1" fill="#0000ff"/>
<rect x="66" y="434" width="3" height="1" fill="#c00000"/>
<rect x="66" y="486" width="3" height="1" fill="#0000ff"/>
<rect x="72" y="434" width="3" height="1" fill="#c00000"/>
<rect x="72" y="486" width="3" height="1" fill="#0000ff"/>
<rect x="78" y="434" width="3" height="1" fill="#c00000"/>
<rect x="78" y="486" width="3" height="1" fill="#0000ff"/>
<rect x="84" y="434" width="3" height="1" fill="#c00000"/>
<rect x="84" y="486" width="3" height="1" fill="#0000ff"/>
<rect x="90" y="434" width="3" height="1" fill="#c00000"/>
<rect x="90" y="486" width="3" height="1" fill="#0000ff"/>
<rect x="96" y="434" width="3" height="1" fill="#c00000"/>
<rect x="96" y="486" width="3" height="1" fill="#0000ff"/>
<rect x="102" y="434" width="3" height="1" fill="#c00000"/>
<rect x="102" y="486" width="3" height="1" fill="#0000ff"/>
<rect x="108" y="434" width="3" height="1" fill="#c00000"/>
<rect x="108" y="486" width="3" height="1" fill="#0000ff"/>
<rect x="114" y="434" width="3" height="1" fill="#c00000"/>
<rect x="114" y="486" width="3" height="1" fill="#0000ff"/>
<rect x="120" y="434" width="3" height="1" fill="#c00000"/>
<rect x="120" y="486" width="3" height="1" fill="#0000ff"/>
<rect x="126" y="434" width="3" height="1" fill="#c00000"/>
<rect x="126" y="486" width="3" height="1" fill="#0000ff"/>
<rect x="132" y="434" width="3" height="1" fill="#c00000"/>
<rect x="132" y="486" width="3" height="1" fill="#0000ff"/>
<rect x="138" y="434" width="3" height="1" fill="#c00000"/>
<rect x="138" y="486" width="3" height="1" fill="#0000ff"/>
<rect x="144" y="434" width="3" height="1" fill="#c00000"/>
<rect x="144" y="486" width="3" height="1" fill="#0000ff"/>
<rect x="150" y="434" width="3" height="1" fill="#c00000"/>
<rect x="150" y="486" width="3" height="1" fill="#0000ff"/>
<rect x="156" y="434" width="3" height="1" fill="#c00000"/>
<rect x="156" y="486" width="3" height="1" fill="#0000ff"/>
<rect x="162" y="434" width="3" height="1" fill="#c00000"/>
<rect x="162" y="486" width="3" height="1" fill="#0000ff"/>
<rect x="168" y="434" width="3" height="1" fill="#c00000"/>
<rect x="168" y="486" width="3" height="1" fill="#0000ff"/>
<rect x="174" y="434" width="3" height="1" fill="#c00000"/>
<rect x="174" y="486" width="3" height="1" fill="#0000ff"/>
<rect x="180" y="434" width="3" height="1" fill="#c00000"/>
<rect x="180" y="486" width="3" height="1" fill="#0000ff"/>
<rect x="186" y="434" width="3" height="1" fill="#c00000"/>
<rect x="186" y="486" width="3" height="1" fill="#0000ff"/>
<rect x="192" y="434" width="3" height="1" fill="#c00000"/>
<rect x="192" y="486" width="3" height="1" fill="#0000ff"/>
<rect x="198" y="434" width="3" height="1" fill="#c00000"/>
<rect x="198" y="486" width="3" height="1" fill="#0000ff"/>
<rect x="204" y="434" width="3" height="1" fill="#c00000"/>
<rect x="204" y="486" width="3" height="1" fill="#0000ff"/>
<rect x="210" y="434" width="3" height="1" fill="#c00000"/>
<rect x="210" y="486" width="3" height="1" fill="#0000ff"/>
<rect x="216" y="434" width="3" height="1" fill="#c00000"/>
<rect x="216" y="486" width="3" height="1" fill="#0000ff"/>
<rect x="222" y="434" width="3" height="1" fill="#c00000"/>
<rect x="222" y="486" width="3" height="1" fill="#0000ff"/>
<rect x="228" y="434" width="3" height="1" fill="#c00000"/>
<rect x="228" y="486" width="3" height="1" fill="#0000ff"/>
<rect x="234" y="434" width="3" height="1" fill="#c00000"/>
<rect x="234" y="486" width="3" height="1" fill="#0000ff"/>
<rect x="240" y="434" width="3" height="1" fill="#c00000"/>
<rect x="240" y="486" width="3" height="1" fill="#0000ff"/>
<rect x="246" y="434" width="3" height="1" fill="#c00000"/>
<rect x="246" y="486" width="3" height="1" fill="#0000ff"/>
<rect x="252" y="434" width="3" height="1" fill="#c00000"/>
<rect x="252" y="486" width="3" height="1" fill="#0000ff"/>
<rect x="258" y="434" width="3" height="1" fill="#c00000"/>
<rect x="258" y="486" width="3" height="1" fill="#0000ff"/>
<rect x="264" y="434" width="3" height="1" fill="#c00000"/>
<rect x="264" y="486" width="3" height="1" fill="#0000ff"/>
<rect x="270" y="434" width="3" height="1" fill="#c00000"/>
<rect x="270" y="486" width="3" height="1" fill="#0000ff"/>
<rect x="276" y="434" width="3" height="1" fill="#c00000"/>
<rect x="276" y="486" width="3" height="1" fill="#0000ff"/>
<rect x="282" y="434" width="3" height="1" fill="#c00000"/>
<rect x="282" y="486" width="3" height="1" fill="#0000ff"/>
<rect x="288" y="434" width="3" height="1" fill="#c00000"/>
<rect x="288" y="486" width="3" height="1" fill="#0000ff"/>
<rect x="294" y="434" width="3" height="1" fill="#c00000"/>
<rect x="294" y="486" width="3" height="1" fill="#0000ff"/>
<rect x="300" y="434" width="3" height="1" fill="#c00000"/>
<rect x="300" y="486" width="3" height="1" fill="#0000ff"/>
<rect x="306" y="434" width="3" height="1" fill="#c00000"/>
<rect x="306" y="486" width="3" height="1" fill="#0000ff"/>
<rect x="312" y="434" width="3" height="1" fill="#c00000"/>
<rect x="312" y="486" width="3" height="1" fill="#0000ff"/>
<rect x="318" y="434" width="3" height="1" fill="#c00000"/>
<rect x="318" y="486" width="3" height="1" fill="#0000ff"/>
<rect x="324" y="434" width="3" height="1" fill="#c00000"/>
<rect x="324" y="486" width="3" height="1" fill="#0000ff"/>
<rect x="330" y="434" width="3" height="1" fill="#c00000"/>
<rect x="330" y="486" width="3" height="1" fill="#0000ff"/>
<rect x="336" y="434" width="3" height="1" fill="#c00000"/>
<rect x="336" y="486" width="3" height="1" fill="#0000ff"/>
<rect x="342" y="434" width="3" height="1" fill="#c00000"/>
<rect x="342" y="486" width="3" height="1" fill="#0000ff"/>
<rect x="348" y="434" width="3" height="1" fill="#c00000"/>
<rect x="348" y="486" width="3" height="1" fill="#0000ff"/>
<rect x="354" y="434" width="3" height="1" fill="#c00000"/>
<rect x="354" y="486" width="3" height="1" fill="#0000ff"/>
<rect x="360" y="434" width="3" height="1" fill="#c00000"/>
<rect x="360" y="486" width="3" height="1" fill="#0000ff"/>
<rect x="366" y="434" width="3" height="1" fill="#c00000"/>
<rect x="366" y="486" width="3" height="1" fill="#0000ff"/>
<rect x="372" y="434" width="3" height="1" fill="#c00000"/>
<rect x="372" y="486" width="3" height="1" fill="#0000ff"/>
<rect x="378" y="434" width="3" height="1" fill="#c00000"/>
<rect x="378" y="486" width="3" height="1" fill="#0000ff"/>
<rect x="384" y="434" width="3" height="1" fill="#c00000"/>
<rect x="384" y="486" width="3" height="1" fill="#0000ff"/>
<rect x="390" y="434" width="3" height="1" fill="#c00000"/>
<rect x="390" y="486" width="3" height="1" fill="#0000ff"/>
<rect x="396" y="434" width="3" height="1" fill="#c00000"/>
<rect x="396" y="486" width="3" height="1" fill="#0000ff"/>
<rect x="402" y="434" width="3" height="1" fill="#c00000"/>
<rect x="402" y="486" width="3" height="1" fill="#0000ff"/>
<rect x="408" y="434" width="3" height="1" fill="#c00000"/>
<rect x="408" y="486" width="3" height="1" fill="#0000ff"/>
<rect x="414" y="434" width="3" height="1" fill="#c00000"/>
<rect x="414" y="486" width="3" height="1" fill="#0000ff"/>
<rect x="420" y="434" width="3" height="1" fill="#c00000"/>
<rect x="420" y="486" width="3" height="1" fill="#0000ff"/>
<rect x="426" y="434" width="3" height="1" fill="#c00000"/>
<rect x="426" y="486" width="3" height="1" fill="#0000ff"/>
<rect x="432" y="434" width="3" height="1" fill="#c00000"/>
<rect x="432" y="486" width="3" height="1" fill="#0000ff"/>
<rect x="438" y="434" width="3" height="1" fill="#c00000"/>
<rect x="438" y="486" width="3" height="1" fill="#0000ff"/>
<rect x="444" y="434" width="3" height="1" fill="#c00000"/>
<rect x="444" y="486" width="3" height="1" fill="#0000ff"/>
<rect x="450" y="434" width="3" height="1" fill="#c00000"/>
<rect x="450" y="486" width="3" height="1" fill="#0000ff"/>
<rect x="456" y="434" width="3" height="1" fill="#c00000"/>
<rect x="456" y="486" width="3" height="1" fill="#0000ff"/>
<rect x="462" y="434" width="3" height="1" fill="#c00000"/>
<rect x="462" y="486" width="3" height="1" fill="#0000ff"/>
<rect x="468" y="434" width="3" height="1" fill="#c00000"/>
<rect x="468" y="486" width="3" height="1" fill="#0000ff"/>
<rect x="474" y="434" width="3" height="1" fill="#c00000"/>
<rect x="474" y="486" width="3" height="1" fill="#0000ff"/>
<rect x="480" y="434" width="3" height="1" fill="#c00000"/>
<rect x="480" y="486" width="3" height="1" fill="#0000ff"/>
<rect x="486" y="434" width="3" height="1" fill="#c00000"/>
<rect x="486" y="486" width="3" height="1" fill="#0000ff"/>
<rect x="492" y="434" width="3" height="1" fill="#c00000"/>
<rect x="492" y="486" width="3" height="1" fill="#0000ff"/>
<rect x="498" y="434" width="3" height="1" fill="#c00000"/>
<rect x="498" y="486" width="3" height="1" fill="#0000ff"/>
<rect x="504" y="434" width="3" height="1" fill="#c00000"/>
<rect x="504" y="486" width="3" height="1" fill="#0000ff"/>
<rect x="510" y="434" width="3" height="1" fill="#c00000"/>
<rect x="510" y="486" width="3" height="1" fill="#0000ff"/>
<rect x="516" y="434" width="3" height="1" fill="#c00000"/>
<rect x="516" y="486" width="3" height="1" fill="#0000ff"/>
<rect x="522" y="434" width="3" height="1" fill="#c00000"/>
<rect x="522" y="486" width="3" height="1" fill="#0000ff"/>
<rect x="528" y="434" width="3" height="1" fill="#c00000"/>
<rect x="528" y="486" width="3" height="1" fill="#0000ff"/>
<rect x="534" y="434" width="3" height="1" fill="#c00000"/>
<rect x="534" y="486" width="3" height="1" fill="#0000ff"/>
<rect x="540" y="434" width="3" height="1" fill="#c00000"/>
<rect x="540" y="486" width="3" height="1" fill="#0000ff"/>
<rect x="546" y="434" width="3" height="1" fill="#c00000"/>
<rect x="546" y="486" width="3" height="1" fill="#0000ff"/>
<rect x="552" y="434" width="3" height="1" fill="#c00000"/>
<rect x="552" y="486" width="3" height="1" fill="#0000ff"/>
<rect x="558" y="434" width="3" height="1" fill="#c00000"/>
<rect x="558" y="486" width="3" height="1" fill="#0000ff"/>
<rect x="564" y="434" width="3" height="1" fill="#c00000"/>
<rect x="564" y="486" width="3" height="1" fill="#0000ff"/>
<rect x="570" y="434" width="3" height="1" fill="#c00000"/>
<rect x="570" y="486" width="3" height="1" fill="#0000ff"/>
<rect x="576" y="434" width="3" height="1" fill="#c00000"/>
<rect x="576" y="486" width="3" height="1" fill="#0000ff"/>
<rect x="582" y="434" width="3" height="1" fill="#c00000"/>
<rect x="582" y="486" width="3" height="1" fill="#0000ff"/>
<rect x="588" y="434" width="3" height="1" fill="#c00000"/>
<rect x="588" y="486" width="3" height="1" fill="#0000ff"/>
<rect x="594" y="434" width="3" height="1" fill="#c00000"/>
<rect x="594" y="486" width="3" height="1" fill="#0000ff"/>
<rect x="600" y="434" width="3" height="1" fill="#c00000"/>
<rect x="600" y="486" width="3" height="1" fill="#0000ff"/>
<rect x="606" y="434" width="3" height="1" fill="#c00000"/>
<rect x="606" y="486" width="3" height="1" fill="#0000ff"/>
<rect x="612" y="434" width="3" height="1" fill="#c00000"/>
<rect x="612" y="486" width="3" height="1" fill="#0000ff"/>
<rect x="618" y="434" width="3" height="1" fill="#c00000"/>
<rect x="618" y="486" width="3" height="1" fill="#0000ff"/>
<rect x="624" y="434" width="3" height="1" fill="#c00000"/>
<rect x="624" y="486" width="3" height="1" fill="#0000ff"/>
<rect x="630" y="434" width="3" height="1" fill="#c00000"/>
<rect x="630" y="486" width="3" height="1" fill="#0000ff"/>
<rect x="636" y="434" width="3" height="1" fill="#c00000"/>
<rect x="636" y="486" width="3" height="1" fill="#0000ff"/>
<rect x="642" y="434" width="3" height="1" fill="#c00000"/>
<rect x="642" y="486" width="3" height="1" fill="#0000ff"/>
<rect x="648" y="434" width="3" height="1" fill="#c00000"/>
<rect x="648" y="486" width="3" height="1" fill="#0000ff"/>
<rect x="654" y="434" width="3" height="1" fill="#c00000"/>
<rect x="654" y="486" width="3" height="1" fill="#0000ff"/>
<rect x="660" y="434" width="3" height="1" fill="#c00000"/>
<rect x="660" y="486" width="3" height="1" fill="#0000ff"/>
<rect x="666" y="434" width="3" height="1" fill="#c00000"/>
<rect x="666" y="486" width="3" height="1" fill="#0000ff"/>
<rect x="672" y="434" width="3" height="1" fill="#c00000"/>
<rect x="672" y="486" width="3" height="1" fill="#0000ff"/>
<rect x="678" y="434" width="3" height="1" fill="#c00000"/>
<rect x="678" y="486" width="3" height="1" fill="#0000ff"/>
<rect x="684" y="434" width="3" height="1" fill="#c00000"/>
<rect x="684" y="486" width="3" height="1" fill="#0000ff"/>
<rect x="690" y="434" width="3" height="1" fill="#c00000"/>
<rect x="690" y="486" width="3" height="1" fill="#0000ff"/>
<rect x="696" y="434" width="3" height="1" fill="#c00000"/>
<rect x="696" y="486" width="3" height="1" fill="#0000ff"/>
<rect x="702" y="434" width="3" height="1" fill="#c00000"/>
<rect x="702" y="486" width="3" height="1" fill="#0000ff"/>
<rect x="708" y="434" width="3" height="1" fill="#c00000"/>
<rect x="708" y="486" width="3" height="1" fill="#0000ff"/>
<rect x="714" y="434" width="3" height="1" fill="#c00000"/>
<rect x="714" y="486" width="3" height="1" fill="#0000ff"/>
<rect x="720" y="434" width="3" height="1" fill="#c00000"/>
<rect x="720" y="486" width="3" height="1" fill="#0000ff"/>
<rect x="726" y="434" width="3" height="1" fill="#c00000"/>
<rect x="726" y="486" width="3" height="1" fill="#0000ff"/>
<rect x="732" y="434" width="3" height="1" fill="#c00000"/>
<rect x="732" y="486" width="3" height="1" fill="#0000ff"/>
<rect x="738" y="434" width="3" height="1" fill="#c00000"/>
<rect x="738" y="486" width="3" height="1" fill="#0000ff"/>
<rect x="744" y="434" width="3" height="1" fill="#c00000"/>
<rect x="744" y="486" width="3" height="1" fill="#0000ff"/>
<rect x="750" y="434" width="3" height="1" fill="#c00000"/>
<rect x="750" y="486" width="3" height="1" fill="#0000ff"/>
<rect x="756" y="434" width="3" height="1" fill="#c00000"/>
<rect x="756" y="486" width="3" height="1" fill="#0000ff"/>
<rect x="762" y="434" width="3" height="1" fill="#c00000"/>
<rect x="762" y="486" width="3" height="1" fill="#0000ff"/>
<rect x="768" y="434" width="3" height="1" fill="#c00000"/>
<rect x="768" y="486" width="3" height="1" fill="#0000ff"/>
<rect x="774" y="434" width="3" height="1" fill="#c00000"/>
<rect x="774" y="486" width="3" height="1" fill="#0000ff"/>
<rect x="780" y="434" width="3" height="1" fill="#c00000"/>
<rect x="780" y="486" width="3" height="1" fill="#0000ff"/>
<rect x="786" y="434" width="3" height="1" fill="#c00000"/>
<rect x="786" y="486" width="3" height="1" fill="#0000ff"/>
<rect x="792" y="434" width="3" height="1" fill="#c00000"/>
<rect x="792" y="486" width="3" height="1" fill="#0000ff"/>
<rect x="798" y="434" width="3" height="1" fill="#c00000"/>
<rect x="798" y="486" width="3" height="1" fill="#0000ff"/>
<rect x="804" y="434" width="3" height="1" fill="#c00000"/>
<rect x="804" y="486" width="3" height="1" fill="#0000ff"/>
<rect x="810" y="434" width="3" height="1" fill="#c00000"/>
<rect x="810" y="486" width="3" height="1" fill="#0000ff"/>
<rect x="816" y="434" width="3" height="1" fill="#c00000"/>
<rect x="816" y="486" width="3" height="1" fill="#0000ff"/>
<rect x="822" y="434" width="3" height="1" fill="#c00000"/>
<rect x="822" y="486" width="3" height="1" fill="#0000ff"/>
<rect x="828" y="434" width="3" height="1" fill="#c00000"/>
<rect x="828" y="486" width="3" height="1" fill="#0000ff"/>
<rect x="834" y="434" width="3" height="1" fill="#c00000"/>
<rect x="834" y="486" width="3" height="1" fill="#0000ff"/>
<rect x="840" y="434" width="3" height="1" fill="#c00000"/>
<rect x="840" y="486" width="3" height="1" fill="#0000ff"/>
<rect x="846" y="434" width="3" height="1" fill="#c00000"/>
<rect x="846" y="486" width="3" height="1" fill="#0000ff"/>
<rect x="852" y="434" width="3" height="1" fill="#c00000"/>
<rect x="852" y="486" width="3" height="1" fill="#0000ff"/>
<rect x="858" y="434" width="3" height="1" fill="#c00000"/>
<rect x="858" y="486" width="3" height="1" fill="#0000ff"/>
<rect x="864" y="434" width="3" height="1" fill="#c00000"/>
<rect x="864" y="486" width="3" height="1" fill="#0000ff"/>
<rect x="870" y="434" width="3" height="1" fill="#c00000"/>
<rect x="870" y="486" width="3" height="1" fill="#0000ff"/>
<rect x="876" y="434" width="3" height="1" fill="#c00000"/>
<rect x="876" y="486" width="3" height="1" fill="#0000ff"/>
<rect x="882" y="434" width="3" height="1" fill="#c00000"/>
<rect x="882" y="486" width="3" height="1" fill="#0000ff"/>
<rect x="888" y="434" width="3" height="1" fill="#c00000"/>
<rect x="888" y="486" width="3" height="1" fill="#0000ff"/>
<rect x="894" y="434" width="3" height="1" fill="#c00000"/>
<rect x="894" y="486" width="3" height="1" fill="#0000ff"/>
<rect x="900" y="434" width="3" height="1" fill="#c00000"/>
<rect x="900" y="486" width="3" height="1" fill="#0000ff"/>
<rect x="906" y="434" width="3" height="1" fill="#c00000"/>
<rect x="906" y="486" width="3" height="1" fill="#0000ff"/>
<rect x="912" y="434" width="3" height="1" fill="#c00000"/>
<rect x="912" y="486" width="3" height="1" fill="#0000ff"/>
<rect x="918" y="434" width="3" height="1" fill="#c00000"/>
<rect x="918" y="486" width="3" height="1" fill="#0000ff"/>
<rect x="924" y="434" width="3" height="1" fill="#c00000"/>
<rect x="924" y="486" width="3" height="1" fill="#0000ff"/>
<rect x="930" y="434" width="3" height="1" fill="#c00000"/>
<rect x="930" y="486" width="3" height="1" fill="#0000ff"/>
<rect x="936" y="434" width="3" height="1" fill="#c00000"/>
<rect x="936" y="486" width="3" height="1" fill="#0000ff"/>
<rect x="942" y="434" width="3" height="1" fill="#c00000"/>
<rect x="942" y="486" width="3" height="1" fill="#0000ff"/>
<rect x="948" y="434" width="3" height="1" fill="#c00000"/>
<rect x="948" y="486" width="3" height="1" fill="#0000ff"/>
<rect x="954" y="434" width="3" height="1" fill="#c00000"/>
<rect x="954" y="486" width="3" height="1" fill="#0000ff"/>
<rect x="960" y="434" width="3" height="1" fill="#c00000"/>
<rect x="960" y="486" width="3" height="1" fill="#0000ff"/>
<rect x="966" y="434" width="3" height="1" fill="#c00000"/>
<rect x="966" y="486" width="3" height="1" fill="#0000ff"/>
<rect x="972" y="434" width="3" height="1" fill="#c00000"/>
<rect x="972" y="486" width="3" height="1" fill="#0000ff"/>
<rect x="978" y="434" width="3" height="1" fill="#c00000"/>
<rect x="978" y="486" width="3" height="1" fill="#0000ff"/>
<rect x="984" y="434" width="3" height="1" fill="#c00000"/>
<rect x="984" y="486" width="3" height="1" fill="#0000ff"/>
<rect x="990" y="434" width="3" height="1" fill="#c00000"/>
<rect x="990" y="486" width="3" height="1" fill="#0000ff"/>
<rect x="996" y="434" width="3" height="1" fill="#c00000"/>
<rect x="996" y="486" width="3" height="1" fill="#0000ff"/>
<rect x="1002" y="434" width="3" height="1" fill="#c00000"/>
<rect x="1002" y="486" width="3" height="1" fill="#0000ff"/>
<rect x="1008" y="434" width="3" height="1" fill="#c00000"/>
<rect x="1008" y="486" width="3" height="1" fill="#0000ff"/>
<rect x="1014" y="434" width="3" height="1" fill="#c00000"/>
<rect x="1014" y="486" width="3" height="1" fill="#0000ff"/>
<rect x="1020" y="434" width="3" height="1" fill="#c00000"/>
<rect x="1020" y="486" width="3" height="1" fill="#0000ff"/>
<rect x="1026" y="434" width="3" height="1" fill="#c00000"/>
<rect x="1026" y="486" width="3" height="1" fill="#0000ff"/>
<rect x="1032" y="434" width="3" height="1" fill="#c00000"/>
<rect x="1032" y="486" width="3" height="1" fill="#0000ff"/>
<rect x="1038" y="434" width="3" height="1" fill="#c00000"/>
<rect x="1038" y="486" width="3" height="1" fill="#0000ff"/>
<rect x="1044" y="434" width="3" height="1" fill="#c00000"/>
<rect x="1044" y="486" width="3" height="1" fill="#0000ff"/>
<rect x="1050" y="434" width="3" height="1" fill="#c00000"/>
<rect x="1050" y="486" width="3" height="1" fill="#0000ff"/>
<rect x="1056" y="434" width="3" height="1" fill="#c00000"/>
<rect x="1056" y="486" width="3" height="1" fill="#0000ff"/>
<rect x="1062" y="434" width="3" height="1" fill="#c00000"/>
<rect x="1062" y="486" width="3" height="1" fill="#0000ff"/>
<rect x="1068" y="434" width="3" height="1" fill="#c00000"/>
<rect x="1068" y="486" width="3" height="1" fill="#0000ff"/>
<rect x="1074" y="434" width="3" height="1" fill="#c00000"/>
<rect x="1074" y="486" width="3" height="1" fill="#0000ff"/>
<rect x="1080" y="434" width="3" height="1" fill="#c00000"/>
<rect x="1080" y="486" width="3" height="1" fill="#0000ff"/>
<rect x="1086" y="434" width="3" height="1" fill="#c00000"/>
<rect x="1086" y="486" width="3" height="1" fill="#0000ff"/>
<rect x="1092" y="434" width="3" height="1" fill="#c00000"/>
<rect x="1092" y="486" width="3" height="1" fill="#0000ff"/>
<rect x="1098" y="434" width="3" height="1" fill="#c00000"/>
<rect x="1098" y="486" width="3" height="1" fill="#0000ff"/>
<rect x="1104" y="434" width="3" height="1" fill="#c00000"/>
<rect x="1104" y="486" width="3" height="1" fill="#0000ff"/>
<rect x="1110" y="434" width="3" height="1" fill="#c00000"/>
<rect x="1110" y="486" width="3" height="1" fill="#0000ff"/>
<rect x="1116" y="434" width="3" height="1" fill="#c00000"/>
<rect x="1116" y="486" width="3" height="1" fill="#0000ff"/>
<rect x="1122" y="434" width="3" height="1" fill="#c00000"/>
<rect x="1122" y="486" width="3" height="1" fill="#0000ff"/>
<rect x="1128" y="434" width="3" height="1" fill="#c00000"/>
<rect x="1128" y="486" width="3" height="1" fill="#0000ff"/>
<rect x="1134" y="434" width="3" height="1" fill="#c00000"/>
<rect x="1134" y="486" width="3" height="1" fill="#0000ff"/>
<rect x="1140" y="434" width="3" height="1" fill="#c00000"/>
<rect x="1140" y="486" width="3" height="1" fill="#0000ff"/>
<rect x="1146" y="434" width="3" height="1" fill="#c00000"/>
<rect x="1146" y="486" width="3" height="1" fill="#0000ff"/>
<rect x="1152" y="434" width="3" height="1" fill="#c00000"/>
<rect x="1152" y="486" width="3" height="1" fill="#0000ff"/>
<rect x="1158" y="434" width="3" height="1" fill="#c00000"/>
<rect x="1158" y="486" width="3" height="1" fill="#0000ff"/>
<rect x="1164" y="434" width="3" height="1" fill="#c00000"/>
<rect x="1164" y="486" width="3" height="1" fill="#0000ff"/>
<rect x="1170" y="434" width="3" height="1" fill="#c00000"/>
<rect x="1170" y="486" width="3" height="1" fill="#0000ff"/>
<rect x="1176" y="434" width="3" height="1" fill="#c00000"/>
<rect x="1176" y="486" width="3" height="1" fill="#0000ff"/>
<rect x="1182" y="434" width="3" height="1" fill="#c00000"/>
<rect x="1182" y="486" width="3" height="1" fill="#0000ff"/>
<rect x="1188" y="434" width="3" height="1" fill="#c00000"/>
<rect x="1188" y="486" width="3" height="1" fill="#0000ff"/>
<rect x="1194" y="434" width="3" height="1" fill="#c00000"/>
<rect x="1194" y="486" width="3" height="1" fill="#0000ff"/>
<rect x="1200" y="434" width="3" height="1" fill="#c00000"/>
<rect x="1200" y="486" width="3" height="1" fill="#0000ff"/>
<rect x="1206" y="434" width="3" height="1" fill="#c00000"/>
<rect x="1206" y="486" width="3" height="1" fill="#0000ff"/>
<rect x="1212" y="434" width="3" height="1" fill="#c00000"/>
<rect x="1212" y="486" width="3" height="1" fill="#0000ff"/>
<polyline points="0.5,468.40 15.5,461.30 30.5,468.40 45.5,476.30 60.5,487.30 75.5,499.90 90.5,503.10 105.5,503.80 120.5,495.70 135.5,480.50 150.5,478.70 165.5,479.20 180.5,482.00 195.5,471.60 210.5,464.00 225.5,447.88 240.5,446.77 255.5,432.89 270.5,433.68 285.5,427.84 300.5,426.58 315.5,442.35 330.5,451.82 345.5,470.75 360.5,478.30 375.5,494.00 390.5,494.90 405.5,485.00 420.5,470.80 435.5,469.80 450.5,468.40 465.5,467.00 480.5,465.23 495.5,473.11 510.5,486.52 525.5,494.41 540.5,493.62 555.5,487.31 570.5,472.32 585.5,451.82 600.5,430.53 615.5,425.00 630.5,435.26 645.5,450.24 660.5,458.92 675.5,442.35 690.5,428.16 705.5,422.64 720.5,425.79 735.5,425.00 750.5,418.70 765.5,417.91 780.5,419.48 795.5,423.74 810.5,423.11 825.5,423.74 840.5,421.85 855.5,421.53 870.5,421.85 885.5,427.84 900.5,428.16 915.5,424.69 930.5,427.84 945.5,433.68 960.5,442.04 975.5,433.76 990.5,427.49 1005.5,447.34 1020.5,473.47 1035.5,483.91 1050.5,477.65 1065.5,464.06 1080.5,476.60 1095.5,483.91 1110.5,482.87 1125.5,486.00 1140.5,488.09 1155.5,484.96 1170.5,465.11 1185.5,443.16" fill="none" stroke="#008000" stroke-width="1"/>
<polyline points="0.5,455.80 15.5,461.30 30.5,488.50 45.5,478.60 60.5,486.50 75.5,488.50 90.5,496.00 105.5,502.50 120.5,481.50 135.5,461.20 150.5,493.30 165.5,486.70 180.5,467.80 195.5,462.60 210.5,457.40 225.5,419.96 240.5,459.71 255.5,419.96 270.5,422.64 285.5,439.20 300.5,419.48 315.5,470.75 330.5,466.80 345.5,469.96 360.5,502.90 375.5,504.80 390.5,473.60 405.5,476.90 420.5,462.70 435.5,468.90 450.5,468.90 465.5,458.90 480.5,466.01 495.5,493.62 510.5,500.71 525.5,489.67 540.5,490.46 555.5,483.36 570.5,443.93 585.5,429.74 600.5,420.27 615.5,423.43 630.5,464.44 645.5,466.80 660.5,447.09 675.5,414.75 690.5,425.79 705.5,421.06 720.5,426.58 735.5,426.58 750.5,414.75 765.5,415.54 780.5,421.85 795.5,431.63 810.5,413.96 825.5,425.00 840.5,420.27 855.5,418.70 870.5,422.64 885.5,441.57 900.5,420.27 915.5,412.70 930.5,451.82 945.5,436.83 960.5,438.88 975.5,431.67 990.5,423.31 1005.5,493.32 1020.5,504.81 1035.5,453.61 1050.5,474.51 1065.5,463.02 1080.5,491.23 1095.5,496.45 1110.5,459.88 1125.5,501.68 1140.5,503.77 1155.5,447.34 1170.5,436.89 1185.5,447.34" fill="none" stroke="#008000" stroke-width="1"/>
<polyline points="0.5,484.90 15.5,477.80 30.5,476.30 45.5,477.80 60.5,488.10 75.5,492.80 90.5,499.10 105.5,500.00 120.5,500.90 135.5,496.20 150.5,492.90 165.5,490.50 180.5,490.00 195.5,489.10 210.5,487.70 225.5,485.73 240.5,481.79 255.5,470.75 270.5,458.92 285.5,447.09 300.5,438.41 315.5,435.26 330.5,440.78 345.5,451.82 360.5,469.40 375.5,485.90 390.5,494.00 405.5,486.90 420.5,482.10 435.5,477.40 450.5,475.00 465.5,480.20 480.5,484.15 495.5,489.67 510.5,494.41 525.5,497.56 540.5,499.14 555.5,497.56 570.5,491.25 585.5,477.06 600.5,464.44 615.5,453.40 630.5,446.30 645.5,452.61 660.5,458.92 675.5,443.93 690.5,432.10 705.5,421.85 720.5,424.22 735.5,422.64 750.5,420.27 765.5,417.91 780.5,417.91 795.5,417.12 810.5,416.80 825.5,417.12 840.5,416.80 855.5,416.49 870.5,416.33 885.5,420.27 900.5,421.85 915.5,421.53 930.5,421.85 945.5,422.17 960.5,424.22 975.5,423.31 990.5,422.26 1005.5,428.53 1020.5,435.85 1035.5,448.39 1050.5,460.93 1065.5,464.06 1080.5,470.33 1095.5,473.47 1110.5,481.82 1125.5,486.00 1140.5,489.14 1155.5,489.14 1170.5,482.87 1185.5,474.51" fill="none" stroke="#ff8c00" stroke-width="1"/>
<polyline points="0.5,475.50 15.5,471.10 30.5,475.10 45.5,484.10 60.5,492.80 75.5,496.80 90.5,501.90 105.5,500.00 120.5,497.10 135.5,491.00 150.5,489.10 165.5,489.60 180.5,490.50 195.5,488.10 210.5,486.20 225.5,482.58 240.5,476.27 255.5,459.71 270.5,447.88 285.5,436.83 300.5,428.95 315.5,435.26 330.5,436.05 345.5,443.14 360.5,455.50 375.5,467.90 390.5,482.60 405.5,488.70 420.5,473.10 435.5,473.60 450.5,474.10 465.5,477.90 480.5,481.00 495.5,487.31 510.5,492.04 525.5,495.98 540.5,498.35 555.5,495.19 570.5,483.36 585.5,464.44 600.5,449.45 615.5,441.57 630.5,446.30 645.5,451.82 660.5,454.97 675.5,452.61 690.5,428.16 705.5,419.48 720.5,422.64 735.5,421.85 750.5,419.48 765.5,417.12 780.5,416.33 795.5,416.33 810.5,415.86 825.5,416.80 840.5,416.33 855.5,416.01 870.5,415.86 885.5,419.48 900.5,421.06 915.5,420.59 930.5,421.06 945.5,421.85 960.5,425.00 975.5,422.26 990.5,420.17 1005.5,425.40 1020.5,452.57 1035.5,460.93 1050.5,469.29 1065.5,461.97 1080.5,473.47 1095.5,482.87 1110.5,486.00 1125.5,487.05 1140.5,490.18 1155.5,489.14 1170.5,475.56 1185.5,460.93" fill="none" stroke="#ff8c00" stroke-width="1"/>
<polyline points="0.5,485.90 15.5,478.80 30.5,477.30 45.5,478.80 60.5,489.10 75.5,493.80 90.5,500.10 105.5,501.90 120.5,501.90 135.5,498.10 150.5,496.20 165.5,495.20 180.5,496.20 195.5,494.80 210.5,493.80 225.5,492.04 240.5,489.67 255.5,484.15 270.5,477.84 285.5,471.53 300.5,465.23 315.5,463.65 330.5,464.44 345.5,466.01 360.5,473.60 375.5,484.00 390.5,491.10 405.5,486.90 420.5,484.00 435.5,478.10 450.5,475.70 465.5,480.90 480.5,484.94 495.5,490.46 510.5,495.19 525.5,499.93 540.5,500.71 555.5,499.93 570.5,495.19 585.5,491.25 600.5,485.73 615.5,480.21 630.5,478.63 645.5,481.79 660.5,479.42 675.5,472.32 690.5,454.97 705.5,435.26 720.5,425.00 735.5,421.85 750.5,420.27 765.5,419.48 780.5,416.80 795.5,416.49 810.5,416.33 825.5,416.49 840.5,416.33 855.5,416.33 870.5,416.80 885.5,418.38 900.5,419.48 915.5,418.70 930.5,417.91 945.5,418.38 960.5,419.01 975.5,419.13 990.5,417.46 1005.5,422.26 1020.5,436.89 1035.5,443.16 1050.5,446.30 1065.5,443.16 1080.5,451.52 1095.5,455.70 1110.5,456.75 1125.5,463.02 1140.5,473.47 1155.5,481.82 1170.5,475.56 1185.5,474.51" fill="none" stroke="#ff0000" stroke-width="1"/>
<polyline points="0.5,476.50 15.5,472.10 30.5,476.10 45.5,485.10 60.5,493.80 75.5,497.80 90.5,502.90 105.5,501.90 120.5,499.50 135.5,494.30 150.5,494.30 165.5,494.30 180.5,495.20 195.5,493.80 210.5,491.90 225.5,489.67 240.5,486.52 255.5,478.63 270.5,470.75 285.5,463.65 300.5,459.71 315.5,463.65 330.5,464.12 345.5,464.44 360.5,468.40 375.5,473.60 390.5,483.50 405.5,485.90 420.5,483.50 435.5,474.30 450.5,474.80 465.5,478.60 480.5,483.36 495.5,488.88 510.5,493.62 525.5,499.14 540.5,499.93 555.5,499.14 570.5,492.83 585.5,484.94 600.5,477.84 615.5,476.27 630.5,477.06 645.5,480.21 660.5,479.42 675.5,454.97 690.5,431.31 705.5,419.48 720.5,424.22 735.5,421.06 750.5,420.27 765.5,418.70 780.5,416.33 795.5,416.01 810.5,415.86 825.5,416.17 840.5,416.01 855.5,415.86 870.5,416.33 885.5,417.91 900.5,419.01 915.5,417.91 930.5,417.12 945.5,417.91 960.5,418.38 975.5,417.04 990.5,415.99 1005.5,419.13 1020.5,426.44 1035.5,435.85 1050.5,442.12 1065.5,442.12 1080.5,447.34 1095.5,450.48 1110.5,454.66 1125.5,457.79 1140.5,466.15 1155.5,475.56 1170.5,476.60 1185.5,472.42" fill="none" stroke="#ff0000" stroke-width="1"/>
</g>
<g clip-path="url(#cpMacd)">
<rect x="-3" y="550" width="7" height="2" fill="#008000"/>
<rect x="12" y="550" width="7" height="3" fill="#008000"/>
<rect x="27" y="550" width="7" height="4" fill="#008000"/>
<rect x="42" y="550" width="7" height="5" fill="#008000"/>
<rect x="57" y="550" width="7" height="5" fill="#008000"/>
<rect x="72" y="550" width="7" height="5" fill="#008000"/>
<rect x="87" y="550" width="7" height="6" fill="#008000"/>
<rect x="102" y="550" width="7" height="7" fill="#008000"/>
<rect x="117" y="550" width="7" height="6" fill="#008000"/>
<rect x="132" y="550" width="7" height="4" fill="#008000"/>
<rect x="147" y="550" width="7" height="5" fill="#008000"/>
<rect x="162" y="550" width="7" height="4" fill="#008000"/>
<rect x="177" y="550" width="7" height="2" fill="#008000"/>
<rect x="192" y="550" width="7" height="1" fill="#008000"/>
<rect x="207" y="548" width="7" height="2" fill="#008000"/>
<rect x="222" y="547" width="7" height="3" fill="#008000"/>
<rect x="237" y="547" width="7" height="3" fill="#008000"/>
<rect x="252" y="544" width="7" height="6" fill="#008000"/>
<rect x="267" y="543" width="7" height="7" fill="#008000"/>
<rect x="282" y="542" width="7" height="8" fill="#008000"/>
<rect x="297" y="541" width="7" height="9" fill="#008000"/>
<rect x="312" y="542" width="7" height="8" fill="#008000"/>
<rect x="327" y="543" width="7" height="7" fill="#008000"/>
<rect x="342" y="543" width="7" height="7" fill="#008000"/>
<rect x="357" y="546" width="7" height="4" fill="#008000"/>
<rect x="432" y="549" width="7" height="1" fill="#008000"/>
<rect x="507" y="549" width="7" height="1" fill="#008000"/>
<rect x="522" y="549" width="7" height="1" fill="#008000"/>
<rect x="567" y="548" width="7" height="2" fill="#008000"/>
<rect x="582" y="547" width="7" height="3" fill="#008000"/>
<rect x="597" y="544" width="7" height="6" fill="#008000"/>
<rect x="612" y="545" width="7" height="5" fill="#008000"/>
<rect x="627" y="545" width="7" height="5" fill="#008000"/>
<rect x="642" y="546" width="7" height="4" fill="#008000"/>
<rect x="657" y="546" width="7" height="4" fill="#008000"/>
<rect x="672" y="544" width="7" height="6" fill="#008000"/>
<rect x="687" y="542" width="7" height="8" fill="#008000"/>
<rect x="702" y="541" width="7" height="9" fill="#008000"/>
<rect x="717" y="541" width="7" height="9" fill="#008000"/>
<rect x="732" y="541" width="7" height="9" fill="#008000"/>
<rect x="747" y="540" width="7" height="10" fill="#008000"/>
<rect x="762" y="541" width="7" height="9" fill="#008000"/>
<rect x="777" y="540" width="7" height="10" fill="#008000"/>
<rect x="792" y="542" width="7" height="8" fill="#008000"/>
<rect x="807" y="542" width="7" height="8" fill="#008000"/>
<rect x="822" y="543" width="7" height="7" fill="#008000"/>
<rect x="837" y="543" width="7" height="7" fill="#008000"/>
<rect x="852" y="543" width="7" height="7" fill="#008000"/>
<rect x="867" y="543" width="7" height="7" fill="#008000"/>
<rect x="882" y="544" width="7" height="6" fill="#008000"/>
<rect x="897" y="544" width="7" height="6" fill="#008000"/>
<rect x="912" y="544" width="7" height="6" fill="#008000"/>
<rect x="927" y="546" width="7" height="4" fill="#008000"/>
<rect x="942" y="546" width="7" height="4" fill="#008000"/>
<rect x="957" y="547" width="7" height="3" fill="#008000"/>
<rect x="972" y="548" width="7" height="2" fill="#008000"/>
<rect x="987" y="549" width="7" height="1" fill="#008000"/>
<rect x="1002" y="549" width="7" height="1" fill="#008000"/>
<rect x="1017" y="550" width="7" height="2" fill="#008000"/>
<rect x="1032" y="550" width="7" height="1" fill="#008000"/>
<rect x="1047" y="550" width="7" height="2" fill="#008000"/>
<rect x="1062" y="550" width="7" height="2" fill="#008000"/>
<rect x="1077" y="550" width="7" height="3" fill="#008000"/>
<rect x="1092" y="550" width="7" height="4" fill="#008000"/>
<rect x="1107" y="550" width="7" height="3" fill="#008000"/>
<rect x="1122" y="550" width="7" height="4" fill="#008000"/>
<rect x="1137" y="550" width="7" height="4" fill="#008000"/>
<rect x="1152" y="550" width="7" height="4" fill="#008000"/>
<rect x="1167" y="550" width="7" height="3" fill="#008000"/>
<rect x="1182" y="550" width="7" height="2" fill="#008000"/>
<polyline points="0.5,573.90 15.5,573.90 30.5,576.70 45.5,577.90 60.5,578.90 75.5,581.00 90.5,583.20 105.5,586.00 120.5,587.00 135.5,587.00 150.5,588.00 172.5,587.70 198.5,585.70 232.5,581.00 265.5,575.70 298.5,568.50 331.5,565.10 344.5,564.10 364.5,567.50 375.5,570.80 400.5,571.50 489.5,571.50 503.5,572.80 547.5,572.80 559.5,570.80 599.5,565.50 632.5,562.80 658.5,562.20 681.5,555.50 715.5,548.90 731.5,547.30 764.5,542.30 800.5,539.30 830.5,536.10 870.5,532.50 910.5,530.00 960.5,529.50 990.5,530.20 1020.5,533.00 1050.5,535.10 1080.5,538.00 1110.5,540.50 1140.5,544.70 1185.5,544.70" fill="none" stroke="#0000ff" stroke-width="1"/>
<polyline points="0.5,568.70 15.5,570.00 30.5,571.30 45.5,572.90 60.5,573.90 75.5,574.80 90.5,576.10 105.5,577.50 120.5,578.90 135.5,580.50 150.5,581.60 165.5,583.00 180.5,584.00 195.5,584.80 215.5,585.00 240.5,584.00 265.5,579.00 300.5,576.70 330.5,573.40 365.5,570.80 400.5,571.10 499.5,572.10 559.5,571.50 599.5,569.50 658.5,565.50 698.5,560.50 731.5,555.50 764.5,550.50 800.5,546.50 830.5,543.50 870.5,538.00 920.5,533.50 960.5,531.50 1000.5,531.50 1040.5,534.00 1080.5,536.00 1120.5,539.00 1150.5,541.00 1185.5,542.00" fill="none" stroke="#ff0000" stroke-width="1"/>
</g>
<g clip-path="url(#cpAdx)">
<rect x="1" y="706" width="1214" height="1" fill="#808080"/>
<polyline points="0.5,635.00 15.5,645.00 30.5,639.30 45.5,636.00 60.5,636.70 75.5,636.70 90.5,634.00 105.5,630.70 120.5,628.40 135.5,650.60 150.5,657.20 165.5,661.50 180.5,670.50 195.5,670.50 210.5,663.20 225.5,667.10 240.5,666.50 255.5,663.80 270.5,654.90 285.5,648.30 300.5,645.60 315.5,665.50 330.5,666.50 345.5,676.40 360.5,663.20 375.5,653.20 390.5,645.00 405.5,664.80 420.5,678.10 435.5,683.70 450.5,674.80 465.5,669.10 480.5,675.80 495.5,674.80 510.5,668.10 525.5,664.80 540.5,657.20 555.5,671.50 570.5,663.80 585.5,653.20 600.5,645.00 615.5,650.60 630.5,668.10 645.5,671.50 660.5,684.70 675.5,669.80 690.5,658.20 705.5,648.30 720.5,643.30 735.5,665.80 750.5,662.50 765.5,660.50 780.5,653.90 795.5,663.20 810.5,659.90 825.5,652.40 840.5,644.70 855.5,637.80 870.5,633.70 885.5,649.30 900.5,657.10 915.5,653.40 930.5,669.60 945.5,681.40 960.5,675.80 975.5,666.50 990.5,651.80 1005.5,672.70 1020.5,669.60 1035.5,685.20 1050.5,683.60 1065.5,682.70 1080.5,670.50 1095.5,672.10 1110.5,678.00 1125.5,672.10 1140.5,660.20 1155.5,665.80 1170.5,671.10 1185.5,674.90" fill="none" stroke="#008000" stroke-width="1"/>
<polyline points="0.5,689.00 15.5,695.60 30.5,674.80 45.5,669.80 60.5,684.70 75.5,689.00 90.5,676.40 105.5,660.90 120.5,673.10 135.5,685.70 150.5,689.00 165.5,694.60 180.5,699.60 195.5,702.20 210.5,674.80 225.5,688.00 240.5,694.60 255.5,700.30 270.5,702.20 285.5,703.60 300.5,704.60 315.5,695.60 330.5,693.00 345.5,698.90 360.5,662.50 375.5,657.20 390.5,669.80 405.5,683.70 420.5,690.30 435.5,696.30 450.5,679.10 465.5,689.00 480.5,695.60 495.5,683.00 510.5,683.70 525.5,693.00 540.5,692.00 555.5,697.90 570.5,700.30 585.5,702.20 600.5,704.60 615.5,697.90 630.5,681.40 645.5,683.70 660.5,692.30 675.5,698.90 690.5,701.20 705.5,703.60 720.5,704.60 735.5,685.70 750.5,693.00 765.5,698.90 780.5,701.20 795.5,696.90 810.5,700.60 825.5,702.90 840.5,704.80 855.5,704.80 870.5,706.00 885.5,693.90 900.5,698.50 915.5,701.70 930.5,692.90 945.5,698.20 960.5,701.40 975.5,703.80 990.5,704.80 1005.5,682.00 1020.5,664.00 1035.5,680.50 1050.5,689.80 1065.5,697.00 1080.5,660.20 1095.5,677.40 1110.5,689.80 1125.5,685.20 1140.5,672.10 1155.5,686.70 1170.5,694.50 1185.5,698.50" fill="none" stroke="#ff0000" stroke-width="1"/>
<polyline points="0.5,705.60 15.5,703.60 30.5,704.60 45.5,704.60 60.5,703.60 75.5,704.60 90.5,705.60 105.5,705.60 120.5,705.60 135.5,695.60 150.5,699.60 165.5,702.20 180.5,694.60 195.5,696.30 210.5,700.30 225.5,663.80 240.5,672.50 255.5,680.40 270.5,673.10 285.5,683.70 300.5,692.30 315.5,697.90 330.5,701.20 345.5,696.30 360.5,700.30 375.5,702.20 390.5,703.60 405.5,685.70 420.5,694.60 435.5,693.00 450.5,698.90 465.5,701.20 480.5,690.30 495.5,696.30 510.5,700.30 525.5,702.90 540.5,703.60 555.5,695.60 570.5,678.10 585.5,667.10 600.5,657.20 615.5,675.80 630.5,688.00 645.5,695.60 660.5,692.30 675.5,664.80 690.5,663.20 705.5,664.80 720.5,676.40 735.5,689.00 750.5,659.20 765.5,677.40 780.5,673.10 795.5,687.00 810.5,681.40 825.5,678.90 840.5,666.50 855.5,653.10 870.5,660.20 885.5,678.30 900.5,685.80 915.5,678.90 930.5,688.90 945.5,697.00 960.5,692.90 975.5,690.80 990.5,667.10 1005.5,682.70 1020.5,691.40 1035.5,680.50 1050.5,678.00 1065.5,688.30 1080.5,696.10 1095.5,695.10 1110.5,696.10 1125.5,699.20 1140.5,702.90 1155.5,697.00 1170.5,682.00 1185.5,692.00" fill="none" stroke="#0000ff" stroke-width="1"/>
</g>
<g clip-path="url(#cpRsi)">
<rect x="0" y="741" width="3" height="1" fill="#c00000"/>
<rect x="0" y="798" width="3" height="1" fill="#0000ff"/>
<rect x="6" y="741" width="3" height="1" fill="#c00000"/>
<rect x="6" y="798" width="3" height="1" fill="#0000ff"/>
<rect x="12" y="741" width="3" height="1" fill="#c00000"/>
<rect x="12" y="798" width="3" height="1" fill="#0000ff"/>
<rect x="18" y="741" width="3" height="1" fill="#c00000"/>
<rect x="18" y="798" width="3" height="1" fill="#0000ff"/>
<rect x="24" y="741" width="3" height="1" fill="#c00000"/>
<rect x="24" y="798" width="3" height="1" fill="#0000ff"/>
<rect x="30" y="741" width="3" height="1" fill="#c00000"/>
<rect x="30" y="798" width="3" height="1" fill="#0000ff"/>
<rect x="36" y="741" width="3" height="1" fill="#c00000"/>
<rect x="36" y="798" width="3" height="1" fill="#0000ff"/>
<rect x="42" y="741" width="3" height="1" fill="#c00000"/>
<rect x="42" y="798" width="3" height="1" fill="#0000ff"/>
<rect x="48" y="741" width="3" height="1" fill="#c00000"/>
<rect x="48" y="798" width="3" height="1" fill="#0000ff"/>
<rect x="54" y="741" width="3" height="1" fill="#c00000"/>
<rect x="54" y="798" width="3" height="1" fill="#0000ff"/>
<rect x="60" y="741" width="3" height="1" fill="#c00000"/>
<rect x="60" y="798" width="3" height="1" fill="#0000ff"/>
<rect x="66" y="741" width="3" height="1" fill="#c00000"/>
<rect x="66" y="798" width="3" height="1" fill="#0000ff"/>
<rect x="72" y="741" width="3" height="1" fill="#c00000"/>
<rect x="72" y="798" width="3" height="1" fill="#0000ff"/>
<rect x="78" y="741" width="3" height="1" fill="#c00000"/>
<rect x="78" y="798" width="3" height="1" fill="#0000ff"/>
<rect x="84" y="741" width="3" height="1" fill="#c00000"/>
<rect x="84" y="798" width="3" height="1" fill="#0000ff"/>
<rect x="90" y="741" width="3" height="1" fill="#c00000"/>
<rect x="90" y="798" width="3" height="1" fill="#0000ff"/>
<rect x="96" y="741" width="3" height="1" fill="#c00000"/>
<rect x="96" y="798" width="3" height="1" fill="#0000ff"/>
<rect x="102" y="741" width="3" height="1" fill="#c00000"/>
<rect x="102" y="798" width="3" height="1" fill="#0000ff"/>
<rect x="108" y="741" width="3" height="1" fill="#c00000"/>
<rect x="108" y="798" width="3" height="1" fill="#0000ff"/>
<rect x="114" y="741" width="3" height="1" fill="#c00000"/>
<rect x="114" y="798" width="3" height="1" fill="#0000ff"/>
<rect x="120" y="741" width="3" height="1" fill="#c00000"/>
<rect x="120" y="798" width="3" height="1" fill="#0000ff"/>
<rect x="126" y="741" width="3" height="1" fill="#c00000"/>
<rect x="126" y="798" width="3" height="1" fill="#0000ff"/>
<rect x="132" y="741" width="3" height="1" fill="#c00000"/>
<rect x="132" y="798" width="3" height="1" fill="#0000ff"/>
<rect x="138" y="741" width="3" height="1" fill="#c00000"/>
<rect x="138" y="798" width="3" height="1" fill="#0000ff"/>
<rect x="144" y="741" width="3" height="1" fill="#c00000"/>
<rect x="144" y="798" width="3" height="1" fill="#0000ff"/>
<rect x="150" y="741" width="3" height="1" fill="#c00000"/>
<rect x="150" y="798" width="3" height="1" fill="#0000ff"/>
<rect x="156" y="741" width="3" height="1" fill="#c00000"/>
<rect x="156" y="798" width="3" height="1" fill="#0000ff"/>
<rect x="162" y="741" width="3" height="1" fill="#c00000"/>
<rect x="162" y="798" width="3" height="1" fill="#0000ff"/>
<rect x="168" y="741" width="3" height="1" fill="#c00000"/>
<rect x="168" y="798" width="3" height="1" fill="#0000ff"/>
<rect x="174" y="741" width="3" height="1" fill="#c00000"/>
<rect x="174" y="798" width="3" height="1" fill="#0000ff"/>
<rect x="180" y="741" width="3" height="1" fill="#c00000"/>
<rect x="180" y="798" width="3" height="1" fill="#0000ff"/>
<rect x="186" y="741" width="3" height="1" fill="#c00000"/>
<rect x="186" y="798" width="3" height="1" fill="#0000ff"/>
<rect x="192" y="741" width="3" height="1" fill="#c00000"/>
<rect x="192" y="798" width="3" height="1" fill="#0000ff"/>
<rect x="198" y="741" width="3" height="1" fill="#c00000"/>
<rect x="198" y="798" width="3" height="1" fill="#0000ff"/>
<rect x="204" y="741" width="3" height="1" fill="#c00000"/>
<rect x="204" y="798" width="3" height="1" fill="#0000ff"/>
<rect x="210" y="741" width="3" height="1" fill="#c00000"/>
<rect x="210" y="798" width="3" height="1" fill="#0000ff"/>
<rect x="216" y="741" width="3" height="1" fill="#c00000"/>
<rect x="216" y="798" width="3" height="1" fill="#0000ff"/>
<rect x="222" y="741" width="3" height="1" fill="#c00000"/>
<rect x="222" y="798" width="3" height="1" fill="#0000ff"/>
<rect x="228" y="741" width="3" height="1" fill="#c00000"/>
<rect x="228" y="798" width="3" height="1" fill="#0000ff"/>
<rect x="234" y="741" width="3" height="1" fill="#c00000"/>
<rect x="234" y="798" width="3" height="1" fill="#0000ff"/>
<rect x="240" y="741" width="3" height="1" fill="#c00000"/>
<rect x="240" y="798" width="3" height="1" fill="#0000ff"/>
<rect x="246" y="741" width="3" height="1" fill="#c00000"/>
<rect x="246" y="798" width="3" height="1" fill="#0000ff"/>
<rect x="252" y="741" width="3" height="1" fill="#c00000"/>
<rect x="252" y="798" width="3" height="1" fill="#0000ff"/>
<rect x="258" y="741" width="3" height="1" fill="#c00000"/>
<rect x="258" y="798" width="3" height="1" fill="#0000ff"/>
<rect x="264" y="741" width="3" height="1" fill="#c00000"/>
<rect x="264" y="798" width="3" height="1" fill="#0000ff"/>
<rect x="270" y="741" width="3" height="1" fill="#c00000"/>
<rect x="270" y="798" width="3" height="1" fill="#0000ff"/>
<rect x="276" y="741" width="3" height="1" fill="#c00000"/>
<rect x="276" y="798" width="3" height="1" fill="#0000ff"/>
<rect x="282" y="741" width="3" height="1" fill="#c00000"/>
<rect x="282" y="798" width="3" height="1" fill="#0000ff"/>
<rect x="288" y="741" width="3" height="1" fill="#c00000"/>
<rect x="288" y="798" width="3" height="1" fill="#0000ff"/>
<rect x="294" y="741" width="3" height="1" fill="#c00000"/>
<rect x="294" y="798" width="3" height="1" fill="#0000ff"/>
<rect x="300" y="741" width="3" height="1" fill="#c00000"/>
<rect x="300" y="798" width="3" height="1" fill="#0000ff"/>
<rect x="306" y="741" width="3" height="1" fill="#c00000"/>
<rect x="306" y="798" width="3" height="1" fill="#0000ff"/>
<rect x="312" y="741" width="3" height="1" fill="#c00000"/>
<rect x="312" y="798" width="3" height="1" fill="#0000ff"/>
<rect x="318" y="741" width="3" height="1" fill="#c00000"/>
<rect x="318" y="798" width="3" height="1" fill="#0000ff"/>
<rect x="324" y="741" width="3" height="1" fill="#c00000"/>
<rect x="324" y="798" width="3" height="1" fill="#0000ff"/>
<rect x="330" y="741" width="3" height="1" fill="#c00000"/>
<rect x="330" y="798" width="3" height="1" fill="#0000ff"/>
<rect x="336" y="741" width="3" height="1" fill="#c00000"/>
<rect x="336" y="798" width="3" height="1" fill="#0000ff"/>
<rect x="342" y="741" width="3" height="1" fill="#c00000"/>
<rect x="342" y="798" width="3" height="1" fill="#0000ff"/>
<rect x="348" y="741" width="3" height="1" fill="#c00000"/>
<rect x="348" y="798" width="3" height="1" fill="#0000ff"/>
<rect x="354" y="741" width="3" height="1" fill="#c00000"/>
<rect x="354" y="798" width="3" height="1" fill="#0000ff"/>
<rect x="360" y="741" width="3" height="1" fill="#c00000"/>
<rect x="360" y="798" width="3" height="1" fill="#0000ff"/>
<rect x="366" y="741" width="3" height="1" fill="#c00000"/>
<rect x="366" y="798" width="3" height="1" fill="#0000ff"/>
<rect x="372" y="741" width="3" height="1" fill="#c00000"/>
<rect x="372" y="798" width="3" height="1" fill="#0000ff"/>
<rect x="378" y="741" width="3" height="1" fill="#c00000"/>
<rect x="378" y="798" width="3" height="1" fill="#0000ff"/>
<rect x="384" y="741" width="3" height="1" fill="#c00000"/>
<rect x="384" y="798" width="3" height="1" fill="#0000ff"/>
<rect x="390" y="741" width="3" height="1" fill="#c00000"/>
<rect x="390" y="798" width="3" height="1" fill="#0000ff"/>
<rect x="396" y="741" width="3" height="1" fill="#c00000"/>
<rect x="396" y="798" width="3" height="1" fill="#0000ff"/>
<rect x="402" y="741" width="3" height="1" fill="#c00000"/>
<rect x="402" y="798" width="3" height="1" fill="#0000ff"/>
<rect x="408" y="741" width="3" height="1" fill="#c00000"/>
<rect x="408" y="798" width="3" height="1" fill="#0000ff"/>
<rect x="414" y="741" width="3" height="1" fill="#c00000"/>
<rect x="414" y="798" width="3" height="1" fill="#0000ff"/>
<rect x="420" y="741" width="3" height="1" fill="#c00000"/>
<rect x="420" y="798" width="3" height="1" fill="#0000ff"/>
<rect x="426" y="741" width="3" height="1" fill="#c00000"/>
<rect x="426" y="798" width="3" height="1" fill="#0000ff"/>
<rect x="432" y="741" width="3" height="1" fill="#c00000"/>
<rect x="432" y="798" width="3" height="1" fill="#0000ff"/>
<rect x="438" y="741" width="3" height="1" fill="#c00000"/>
<rect x="438" y="798" width="3" height="1" fill="#0000ff"/>
<rect x="444" y="741" width="3" height="1" fill="#c00000"/>
<rect x="444" y="798" width="3" height="1" fill="#0000ff"/>
<rect x="450" y="741" width="3" height="1" fill="#c00000"/>
<rect x="450" y="798" width="3" height="1" fill="#0000ff"/>
<rect x="456" y="741" width="3" height="1" fill="#c00000"/>
<rect x="456" y="798" width="3" height="1" fill="#0000ff"/>
<rect x="462" y="741" width="3" height="1" fill="#c00000"/>
<rect x="462" y="798" width="3" height="1" fill="#0000ff"/>
<rect x="468" y="741" width="3" height="1" fill="#c00000"/>
<rect x="468" y="798" width="3" height="1" fill="#0000ff"/>
<rect x="474" y="741" width="3" height="1" fill="#c00000"/>
<rect x="474" y="798" width="3" height="1" fill="#0000ff"/>
<rect x="480" y="741" width="3" height="1" fill="#c00000"/>
<rect x="480" y="798" width="3" height="1" fill="#0000ff"/>
<rect x="486" y="741" width="3" height="1" fill="#c00000"/>
<rect x="486" y="798" width="3" height="1" fill="#0000ff"/>
<rect x="492" y="741" width="3" height="1" fill="#c00000"/>
<rect x="492" y="798" width="3" height="1" fill="#0000ff"/>
<rect x="498" y="741" width="3" height="1" fill="#c00000"/>
<rect x="498" y="798" width="3" height="1" fill="#0000ff"/>
<rect x="504" y="741" width="3" height="1" fill="#c00000"/>
<rect x="504" y="798" width="3" height="1" fill="#0000ff"/>
<rect x="510" y="741" width="3" height="1" fill="#c00000"/>
<rect x="510" y="798" width="3" height="1" fill="#0000ff"/>
<rect x="516" y="741" width="3" height="1" fill="#c00000"/>
<rect x="516" y="798" width="3" height="1" fill="#0000ff"/>
<rect x="522" y="741" width="3" height="1" fill="#c00000"/>
<rect x="522" y="798" width="3" height="1" fill="#0000ff"/>
<rect x="528" y="741" width="3" height="1" fill="#c00000"/>
<rect x="528" y="798" width="3" height="1" fill="#0000ff"/>
<rect x="534" y="741" width="3" height="1" fill="#c00000"/>
<rect x="534" y="798" width="3" height="1" fill="#0000ff"/>
<rect x="540" y="741" width="3" height="1" fill="#c00000"/>
<rect x="540" y="798" width="3" height="1" fill="#0000ff"/>
<rect x="546" y="741" width="3" height="1" fill="#c00000"/>
<rect x="546" y="798" width="3" height="1" fill="#0000ff"/>
<rect x="552" y="741" width="3" height="1" fill="#c00000"/>
<rect x="552" y="798" width="3" height="1" fill="#0000ff"/>
<rect x="558" y="741" width="3" height="1" fill="#c00000"/>
<rect x="558" y="798" width="3" height="1" fill="#0000ff"/>
<rect x="564" y="741" width="3" height="1" fill="#c00000"/>
<rect x="564" y="798" width="3" height="1" fill="#0000ff"/>
<rect x="570" y="741" width="3" height="1" fill="#c00000"/>
<rect x="570" y="798" width="3" height="1" fill="#0000ff"/>
<rect x="576" y="741" width="3" height="1" fill="#c00000"/>
<rect x="576" y="798" width="3" height="1" fill="#0000ff"/>
<rect x="582" y="741" width="3" height="1" fill="#c00000"/>
<rect x="582" y="798" width="3" height="1" fill="#0000ff"/>
<rect x="588" y="741" width="3" height="1" fill="#c00000"/>
<rect x="588" y="798" width="3" height="1" fill="#0000ff"/>
<rect x="594" y="741" width="3" height="1" fill="#c00000"/>
<rect x="594" y="798" width="3" height="1" fill="#0000ff"/>
<rect x="600" y="741" width="3" height="1" fill="#c00000"/>
<rect x="600" y="798" width="3" height="1" fill="#0000ff"/>
<rect x="606" y="741" width="3" height="1" fill="#c00000"/>
<rect x="606" y="798" width="3" height="1" fill="#0000ff"/>
<rect x="612" y="741" width="3" height="1" fill="#c00000"/>
<rect x="612" y="798" width="3" height="1" fill="#0000ff"/>
<rect x="618" y="741" width="3" height="1" fill="#c00000"/>
<rect x="618" y="798" width="3" height="1" fill="#0000ff"/>
<rect x="624" y="741" width="3" height="1" fill="#c00000"/>
<rect x="624" y="798" width="3" height="1" fill="#0000ff"/>
<rect x="630" y="741" width="3" height="1" fill="#c00000"/>
<rect x="630" y="798" width="3" height="1" fill="#0000ff"/>
<rect x="636" y="741" width="3" height="1" fill="#c00000"/>
<rect x="636" y="798" width="3" height="1" fill="#0000ff"/>
<rect x="642" y="741" width="3" height="1" fill="#c00000"/>
<rect x="642" y="798" width="3" height="1" fill="#0000ff"/>
<rect x="648" y="741" width="3" height="1" fill="#c00000"/>
<rect x="648" y="798" width="3" height="1" fill="#0000ff"/>
<rect x="654" y="741" width="3" height="1" fill="#c00000"/>
<rect x="654" y="798" width="3" height="1" fill="#0000ff"/>
<rect x="660" y="741" width="3" height="1" fill="#c00000"/>
<rect x="660" y="798" width="3" height="1" fill="#0000ff"/>
<rect x="666" y="741" width="3" height="1" fill="#c00000"/>
<rect x="666" y="798" width="3" height="1" fill="#0000ff"/>
<rect x="672" y="741" width="3" height="1" fill="#c00000"/>
<rect x="672" y="798" width="3" height="1" fill="#0000ff"/>
<rect x="678" y="741" width="3" height="1" fill="#c00000"/>
<rect x="678" y="798" width="3" height="1" fill="#0000ff"/>
<rect x="684" y="741" width="3" height="1" fill="#c00000"/>
<rect x="684" y="798" width="3" height="1" fill="#0000ff"/>
<rect x="690" y="741" width="3" height="1" fill="#c00000"/>
<rect x="690" y="798" width="3" height="1" fill="#0000ff"/>
<rect x="696" y="741" width="3" height="1" fill="#c00000"/>
<rect x="696" y="798" width="3" height="1" fill="#0000ff"/>
<rect x="702" y="741" width="3" height="1" fill="#c00000"/>
<rect x="702" y="798" width="3" height="1" fill="#0000ff"/>
<rect x="708" y="741" width="3" height="1" fill="#c00000"/>
<rect x="708" y="798" width="3" height="1" fill="#0000ff"/>
<rect x="714" y="741" width="3" height="1" fill="#c00000"/>
<rect x="714" y="798" width="3" height="1" fill="#0000ff"/>
<rect x="720" y="741" width="3" height="1" fill="#c00000"/>
<rect x="720" y="798" width="3" height="1" fill="#0000ff"/>
<rect x="726" y="741" width="3" height="1" fill="#c00000"/>
<rect x="726" y="798" width="3" height="1" fill="#0000ff"/>
<rect x="732" y="741" width="3" height="1" fill="#c00000"/>
<rect x="732" y="798" width="3" height="1" fill="#0000ff"/>
<rect x="738" y="741" width="3" height="1" fill="#c00000"/>
<rect x="738" y="798" width="3" height="1" fill="#0000ff"/>
<rect x="744" y="741" width="3" height="1" fill="#c00000"/>
<rect x="744" y="798" width="3" height="1" fill="#0000ff"/>
<rect x="750" y="741" width="3" height="1" fill="#c00000"/>
<rect x="750" y="798" width="3" height="1" fill="#0000ff"/>
<rect x="756" y="741" width="3" height="1" fill="#c00000"/>
<rect x="756" y="798" width="3" height="1" fill="#0000ff"/>
<rect x="762" y="741" width="3" height="1" fill="#c00000"/>
<rect x="762" y="798" width="3" height="1" fill="#0000ff"/>
<rect x="768" y="741" width="3" height="1" fill="#c00000"/>
<rect x="768" y="798" width="3" height="1" fill="#0000ff"/>
<rect x="774" y="741" width="3" height="1" fill="#c00000"/>
<rect x="774" y="798" width="3" height="1" fill="#0000ff"/>
<rect x="780" y="741" width="3" height="1" fill="#c00000"/>
<rect x="780" y="798" width="3" height="1" fill="#0000ff"/>
<rect x="786" y="741" width="3" height="1" fill="#c00000"/>
<rect x="786" y="798" width="3" height="1" fill="#0000ff"/>
<rect x="792" y="741" width="3" height="1" fill="#c00000"/>
<rect x="792" y="798" width="3" height="1" fill="#0000ff"/>
<rect x="798" y="741" width="3" height="1" fill="#c00000"/>
<rect x="798" y="798" width="3" height="1" fill="#0000ff"/>
<rect x="804" y="741" width="3" height="1" fill="#c00000"/>
<rect x="804" y="798" width="3" height="1" fill="#0000ff"/>
<rect x="810" y="741" width="3" height="1" fill="#c00000"/>
<rect x="810" y="798" width="3" height="1" fill="#0000ff"/>
<rect x="816" y="741" width="3" height="1" fill="#c00000"/>
<rect x="816" y="798" width="3" height="1" fill="#0000ff"/>
<rect x="822" y="741" width="3" height="1" fill="#c00000"/>
<rect x="822" y="798" width="3" height="1" fill="#0000ff"/>
<rect x="828" y="741" width="3" height="1" fill="#c00000"/>
<rect x="828" y="798" width="3" height="1" fill="#0000ff"/>
<rect x="834" y="741" width="3" height="1" fill="#c00000"/>
<rect x="834" y="798" width="3" height="1" fill="#0000ff"/>
<rect x="840" y="741" width="3" height="1" fill="#c00000"/>
<rect x="840" y="798" width="3" height="1" fill="#0000ff"/>
<rect x="846" y="741" width="3" height="1" fill="#c00000"/>
<rect x="846" y="798" width="3" height="1" fill="#0000ff"/>
<rect x="852" y="741" width="3" height="1" fill="#c00000"/>
<rect x="852" y="798" width="3" height="1" fill="#0000ff"/>
<rect x="858" y="741" width="3" height="1" fill="#c00000"/>
<rect x="858" y="798" width="3" height="1" fill="#0000ff"/>
<rect x="864" y="741" width="3" height="1" fill="#c00000"/>
<rect x="864" y="798" width="3" height="1" fill="#0000ff"/>
<rect x="870" y="741" width="3" height="1" fill="#c00000"/>
<rect x="870" y="798" width="3" height="1" fill="#0000ff"/>
<rect x="876" y="741" width="3" height="1" fill="#c00000"/>
<rect x="876" y="798" width="3" height="1" fill="#0000ff"/>
<rect x="882" y="741" width="3" height="1" fill="#c00000"/>
<rect x="882" y="798" width="3" height="1" fill="#0000ff"/>
<rect x="888" y="741" width="3" height="1" fill="#c00000"/>
<rect x="888" y="798" width="3" height="1" fill="#0000ff"/>
<rect x="894" y="741" width="3" height="1" fill="#c00000"/>
<rect x="894" y="798" width="3" height="1" fill="#0000ff"/>
<rect x="900" y="741" width="3" height="1" fill="#c00000"/>
<rect x="900" y="798" width="3" height="1" fill="#0000ff"/>
<rect x="906" y="741" width="3" height="1" fill="#c00000"/>
<rect x="906" y="798" width="3" height="1" fill="#0000ff"/>
<rect x="912" y="741" width="3" height="1" fill="#c00000"/>
<rect x="912" y="798" width="3" height="1" fill="#0000ff"/>
<rect x="918" y="741" width="3" height="1" fill="#c00000"/>
<rect x="918" y="798" width="3" height="1" fill="#0000ff"/>
<rect x="924" y="741" width="3" height="1" fill="#c00000"/>
<rect x="924" y="798" width="3" height="1" fill="#0000ff"/>
<rect x="930" y="741" width="3" height="1" fill="#c00000"/>
<rect x="930" y="798" width="3" height="1" fill="#0000ff"/>
<rect x="936" y="741" width="3" height="1" fill="#c00000"/>
<rect x="936" y="798" width="3" height="1" fill="#0000ff"/>
<rect x="942" y="741" width="3" height="1" fill="#c00000"/>
<rect x="942" y="798" width="3" height="1" fill="#0000ff"/>
<rect x="948" y="741" width="3" height="1" fill="#c00000"/>
<rect x="948" y="798" width="3" height="1" fill="#0000ff"/>
<rect x="954" y="741" width="3" height="1" fill="#c00000"/>
<rect x="954" y="798" width="3" height="1" fill="#0000ff"/>
<rect x="960" y="741" width="3" height="1" fill="#c00000"/>
<rect x="960" y="798" width="3" height="1" fill="#0000ff"/>
<rect x="966" y="741" width="3" height="1" fill="#c00000"/>
<rect x="966" y="798" width="3" height="1" fill="#0000ff"/>
<rect x="972" y="741" width="3" height="1" fill="#c00000"/>
<rect x="972" y="798" width="3" height="1" fill="#0000ff"/>
<rect x="978" y="741" width="3" height="1" fill="#c00000"/>
<rect x="978" y="798" width="3" height="1" fill="#0000ff"/>
<rect x="984" y="741" width="3" height="1" fill="#c00000"/>
<rect x="984" y="798" width="3" height="1" fill="#0000ff"/>
<rect x="990" y="741" width="3" height="1" fill="#c00000"/>
<rect x="990" y="798" width="3" height="1" fill="#0000ff"/>
<rect x="996" y="741" width="3" height="1" fill="#c00000"/>
<rect x="996" y="798" width="3" height="1" fill="#0000ff"/>
<rect x="1002" y="741" width="3" height="1" fill="#c00000"/>
<rect x="1002" y="798" width="3" height="1" fill="#0000ff"/>
<rect x="1008" y="741" width="3" height="1" fill="#c00000"/>
<rect x="1008" y="798" width="3" height="1" fill="#0000ff"/>
<rect x="1014" y="741" width="3" height="1" fill="#c00000"/>
<rect x="1014" y="798" width="3" height="1" fill="#0000ff"/>
<rect x="1020" y="741" width="3" height="1" fill="#c00000"/>
<rect x="1020" y="798" width="3" height="1" fill="#0000ff"/>
<rect x="1026" y="741" width="3" height="1" fill="#c00000"/>
<rect x="1026" y="798" width="3" height="1" fill="#0000ff"/>
<rect x="1032" y="741" width="3" height="1" fill="#c00000"/>
<rect x="1032" y="798" width="3" height="1" fill="#0000ff"/>
<rect x="1038" y="741" width="3" height="1" fill="#c00000"/>
<rect x="1038" y="798" width="3" height="1" fill="#0000ff"/>
<rect x="1044" y="741" width="3" height="1" fill="#c00000"/>
<rect x="1044" y="798" width="3" height="1" fill="#0000ff"/>
<rect x="1050" y="741" width="3" height="1" fill="#c00000"/>
<rect x="1050" y="798" width="3" height="1" fill="#0000ff"/>
<rect x="1056" y="741" width="3" height="1" fill="#c00000"/>
<rect x="1056" y="798" width="3" height="1" fill="#0000ff"/>
<rect x="1062" y="741" width="3" height="1" fill="#c00000"/>
<rect x="1062" y="798" width="3" height="1" fill="#0000ff"/>
<rect x="1068" y="741" width="3" height="1" fill="#c00000"/>
<rect x="1068" y="798" width="3" height="1" fill="#0000ff"/>
<rect x="1074" y="741" width="3" height="1" fill="#c00000"/>
<rect x="1074" y="798" width="3" height="1" fill="#0000ff"/>
<rect x="1080" y="741" width="3" height="1" fill="#c00000"/>
<rect x="1080" y="798" width="3" height="1" fill="#0000ff"/>
<rect x="1086" y="741" width="3" height="1" fill="#c00000"/>
<rect x="1086" y="798" width="3" height="1" fill="#0000ff"/>
<rect x="1092" y="741" width="3" height="1" fill="#c00000"/>
<rect x="1092" y="798" width="3" height="1" fill="#0000ff"/>
<rect x="1098" y="741" width="3" height="1" fill="#c00000"/>
<rect x="1098" y="798" width="3" height="1" fill="#0000ff"/>
<rect x="1104" y="741" width="3" height="1" fill="#c00000"/>
<rect x="1104" y="798" width="3" height="1" fill="#0000ff"/>
<rect x="1110" y="741" width="3" height="1" fill="#c00000"/>
<rect x="1110" y="798" width="3" height="1" fill="#0000ff"/>
<rect x="1116" y="741" width="3" height="1" fill="#c00000"/>
<rect x="1116" y="798" width="3" height="1" fill="#0000ff"/>
<rect x="1122" y="741" width="3" height="1" fill="#c00000"/>
<rect x="1122" y="798" width="3" height="1" fill="#0000ff"/>
<rect x="1128" y="741" width="3" height="1" fill="#c00000"/>
<rect x="1128" y="798" width="3" height="1" fill="#0000ff"/>
<rect x="1134" y="741" width="3" height="1" fill="#c00000"/>
<rect x="1134" y="798" width="3" height="1" fill="#0000ff"/>
<rect x="1140" y="741" width="3" height="1" fill="#c00000"/>
<rect x="1140" y="798" width="3" height="1" fill="#0000ff"/>
<rect x="1146" y="741" width="3" height="1" fill="#c00000"/>
<rect x="1146" y="798" width="3" height="1" fill="#0000ff"/>
<rect x="1152" y="741" width="3" height="1" fill="#c00000"/>
<rect x="1152" y="798" width="3" height="1" fill="#0000ff"/>
<rect x="1158" y="741" width="3" height="1" fill="#c00000"/>
<rect x="1158" y="798" width="3" height="1" fill="#0000ff"/>
<rect x="1164" y="741" width="3" height="1" fill="#c00000"/>
<rect x="1164" y="798" width="3" height="1" fill="#0000ff"/>
<rect x="1170" y="741" width="3" height="1" fill="#c00000"/>
<rect x="1170" y="798" width="3" height="1" fill="#0000ff"/>
<rect x="1176" y="741" width="3" height="1" fill="#c00000"/>
<rect x="1176" y="798" width="3" height="1" fill="#0000ff"/>
<rect x="1182" y="741" width="3" height="1" fill="#c00000"/>
<rect x="1182" y="798" width="3" height="1" fill="#0000ff"/>
<rect x="1188" y="741" width="3" height="1" fill="#c00000"/>
<rect x="1188" y="798" width="3" height="1" fill="#0000ff"/>
<rect x="1194" y="741" width="3" height="1" fill="#c00000"/>
<rect x="1194" y="798" width="3" height="1" fill="#0000ff"/>
<rect x="1200" y="741" width="3" height="1" fill="#c00000"/>
<rect x="1200" y="798" width="3" height="1" fill="#0000ff"/>
<rect x="1206" y="741" width="3" height="1" fill="#c00000"/>
<rect x="1206" y="798" width="3" height="1" fill="#0000ff"/>
<rect x="1212" y="741" width="3" height="1" fill="#c00000"/>
<rect x="1212" y="798" width="3" height="1" fill="#0000ff"/>
<rect x="1" y="770" width="1214" height="1" fill="#0000ff"/>
<polyline points="0.5,781.70 15.5,785.00 30.5,795.00 45.5,791.70 60.5,794.30 75.5,796.60 90.5,800.90 105.5,805.60 120.5,792.30 135.5,790.00 150.5,796.60 165.5,790.00 180.5,785.70 195.5,787.70 210.5,786.70 225.5,775.10 240.5,781.10 255.5,768.50 270.5,765.80 285.5,770.80 300.5,764.20 315.5,775.10 330.5,773.50 345.5,775.10 360.5,787.70 375.5,796.60 390.5,782.70 405.5,782.70 420.5,779.10 435.5,781.70 450.5,785.00 465.5,783.40 480.5,785.00 495.5,789.00 510.5,792.70 525.5,789.00 540.5,788.30 555.5,785.00 570.5,771.80 585.5,771.80 600.5,765.20 615.5,766.20 630.5,778.40 645.5,778.40 660.5,771.10 675.5,751.90 690.5,750.30 705.5,746.00 720.5,747.00 735.5,747.00 750.5,739.70 765.5,741.00 780.5,741.00 795.5,744.60 810.5,739.30 825.5,741.40 840.5,734.80 855.5,731.70 870.5,730.50 885.5,745.70 900.5,740.40 915.5,737.30 930.5,752.90 945.5,747.60 960.5,748.80 975.5,747.30 990.5,744.20 1005.5,765.30 1020.5,775.30 1035.5,762.20 1050.5,767.80 1065.5,764.70 1080.5,772.50 1095.5,774.70 1110.5,766.90 1125.5,774.70 1140.5,781.90 1155.5,767.80 1170.5,765.30 1185.5,769.10" fill="none" stroke="#0000ff" stroke-width="1"/>
</g>
<text x="1264" y="30" font-size="10.5" font-weight="bold" text-anchor="end" fill="#000" stroke="#000" stroke-width="0.35">6000.00</text>
<text x="1264" y="380" font-size="10.5" font-weight="bold" text-anchor="end" fill="#000" stroke="#000" stroke-width="0.35">5000.00</text>
<rect x="1216" y="2" width="51" height="1" fill="#fff"/>
<rect x="1216" y="15" width="51" height="1" fill="#fff"/>
<rect x="1215" y="3" width="52" height="12" fill="#000"/>
<rect x="1216" y="4" width="50" height="10" fill="#0000ff"/>
<text x="1265" y="13" font-size="10.5" font-weight="bold" text-anchor="end" fill="#fff" stroke="#fff" stroke-width="0.35">6053.00</text>
<rect x="1216" y="52" width="51" height="1" fill="#fff"/>
<rect x="1216" y="65" width="51" height="1" fill="#fff"/>
<rect x="1215" y="53" width="52" height="12" fill="#000"/>
<rect x="1216" y="54" width="50" height="10" fill="url(#orng)"/>
<text x="1265" y="63" font-size="10.5" font-weight="bold" text-anchor="end" fill="#000" stroke="#000" stroke-width="0.35">5909.09</text>
<rect x="1216" y="78" width="51" height="1" fill="#fff"/>
<rect x="1216" y="91" width="51" height="1" fill="#fff"/>
<rect x="1215" y="79" width="52" height="12" fill="#000"/>
<rect x="1216" y="80" width="50" height="10" fill="#000080"/>
<text x="1265" y="89" font-size="10.5" font-weight="bold" text-anchor="end" fill="#fff" stroke="#fff" stroke-width="0.35">5835.43</text>
<rect x="1216" y="105" width="51" height="1" fill="#fff"/>
<rect x="1216" y="118" width="51" height="1" fill="#fff"/>
<rect x="1215" y="106" width="52" height="12" fill="#000"/>
<rect x="1216" y="107" width="50" height="10" fill="#9b0000"/>
<text x="1265" y="116" font-size="10.5" font-weight="bold" text-anchor="end" fill="#fff" stroke="#fff" stroke-width="0.35">5757.62</text>
<rect x="1216" y="120" width="51" height="1" fill="#fff"/>
<rect x="1216" y="133" width="51" height="1" fill="#fff"/>
<rect x="1215" y="121" width="52" height="12" fill="#000"/>
<rect x="1216" y="122" width="50" height="10" fill="#000000"/>
<text x="1265" y="131" font-size="10.5" font-weight="bold" text-anchor="end" fill="#fff" stroke="#fff" stroke-width="0.35">5715.00</text>
<rect x="1216" y="136" width="51" height="1" fill="#fff"/>
<rect x="1216" y="149" width="51" height="1" fill="#fff"/>
<rect x="1215" y="137" width="52" height="12" fill="#000"/>
<rect x="1216" y="138" width="50" height="10" fill="#0000ff"/>
<text x="1265" y="147" font-size="10.5" font-weight="bold" text-anchor="end" fill="#fff" stroke="#fff" stroke-width="0.35">5668.00</text>
<rect x="1216" y="174" width="51" height="1" fill="#fff"/>
<rect x="1216" y="187" width="51" height="1" fill="#fff"/>
<rect x="1215" y="175" width="52" height="12" fill="#000"/>
<rect x="1216" y="176" width="50" height="10" fill="#00ff00"/>
<text x="1265" y="185" font-size="10.5" font-weight="bold" text-anchor="end" fill="#fff" stroke="#fff" stroke-width="0.35">5558.85</text>
<rect x="1216" y="183" width="51" height="1" fill="#fff"/>
<rect x="1216" y="196" width="51" height="1" fill="#fff"/>
<rect x="1215" y="184" width="52" height="12" fill="#000"/>
<rect x="1216" y="185" width="50" height="10" fill="#000080"/>
<text x="1265" y="194" font-size="10.5" font-weight="bold" text-anchor="end" fill="#fff" stroke="#fff" stroke-width="0.35">5534.86</text>
<rect x="1216" y="195" width="51" height="1" fill="#fff"/>
<rect x="1216" y="208" width="51" height="1" fill="#fff"/>
<rect x="1215" y="196" width="52" height="12" fill="#000"/>
<rect x="1216" y="197" width="50" height="10" fill="#008000"/>
<text x="1265" y="206" font-size="10.5" font-weight="bold" text-anchor="end" fill="#fff" stroke="#fff" stroke-width="0.35">5500.00</text>
<rect x="1216" y="222" width="51" height="1" fill="#fff"/>
<rect x="1216" y="235" width="51" height="1" fill="#fff"/>
<rect x="1215" y="223" width="52" height="12" fill="#000"/>
<rect x="1216" y="224" width="50" height="10" fill="#0000ff"/>
<text x="1265" y="233" font-size="10.5" font-weight="bold" text-anchor="end" fill="#fff" stroke="#fff" stroke-width="0.35">5422.00</text>
<rect x="1216" y="273" width="51" height="1" fill="#fff"/>
<rect x="1216" y="286" width="51" height="1" fill="#fff"/>
<rect x="1215" y="274" width="52" height="12" fill="#000"/>
<rect x="1216" y="275" width="50" height="10" fill="#0000ff"/>
<text x="1265" y="284" font-size="10.5" font-weight="bold" text-anchor="end" fill="#fff" stroke="#fff" stroke-width="0.35">5277.00</text>
<rect x="1216" y="284" width="51" height="1" fill="#fff"/>
<rect x="1216" y="297" width="51" height="1" fill="#fff"/>
<rect x="1215" y="285" width="52" height="12" fill="#000"/>
<rect x="1216" y="286" width="50" height="10" fill="url(#pinkd)"/>
<text x="1265" y="295" font-size="10.5" font-weight="bold" text-anchor="end" fill="#000" stroke="#000" stroke-width="0.35">5246.03</text>
<rect x="1216" y="306" width="51" height="1" fill="#fff"/>
<rect x="1216" y="319" width="51" height="1" fill="#fff"/>
<rect x="1215" y="307" width="52" height="12" fill="#000"/>
<rect x="1216" y="308" width="50" height="10" fill="url(#orng)"/>
<text x="1265" y="317" font-size="10.5" font-weight="bold" text-anchor="end" fill="#000" stroke="#000" stroke-width="0.35">5183.59</text>
<rect x="1216" y="386" width="51" height="1" fill="#fff"/>
<rect x="1216" y="399" width="51" height="1" fill="#fff"/>
<rect x="1215" y="387" width="52" height="12" fill="#000"/>
<rect x="1216" y="388" width="50" height="10" fill="#ff0000"/>
<text x="1265" y="397" font-size="10.5" font-weight="bold" text-anchor="end" fill="#fff" stroke="#fff" stroke-width="0.35">4955.00</text>
<rect x="1216" y="428" width="51" height="1" fill="#fff"/>
<rect x="1215" y="429" width="52" height="1" fill="#000"/>
<rect x="1215" y="430" width="52" height="10" fill="#000"/>
<rect x="1216" y="430" width="50" height="10" fill="url(#redd)"/>
<rect x="1215" y="440" width="52" height="1" fill="#000"/>
<rect x="1215" y="441" width="52" height="8" fill="#000"/>
<rect x="1216" y="441" width="50" height="8" fill="#008000"/>
<rect x="1215" y="449" width="52" height="1" fill="#000"/>
<rect x="1215" y="450" width="52" height="3" fill="#000"/>
<rect x="1216" y="450" width="50" height="3" fill="#008000"/>
<rect x="1215" y="453" width="52" height="1" fill="#000"/>
<rect x="1215" y="454" width="52" height="2" fill="#000"/>
<rect x="1216" y="454" width="50" height="2" fill="#fff"/>
<rect x="1215" y="456" width="52" height="1" fill="#000"/>
<rect x="1215" y="457" width="52" height="10" fill="#000"/>
<rect x="1216" y="457" width="50" height="10" fill="url(#orng)"/>
<rect x="1215" y="467" width="52" height="1" fill="#000"/>
<rect x="1215" y="468" width="52" height="1" fill="#000"/>
<rect x="1216" y="468" width="50" height="1" fill="#ff0000"/>
<rect x="1215" y="469" width="52" height="1" fill="#000"/>
<rect x="1215" y="470" width="52" height="10" fill="#000"/>
<rect x="1216" y="470" width="50" height="10" fill="url(#orng)"/>
<rect x="1215" y="480" width="52" height="2" fill="#000"/>
<rect x="1215" y="482" width="52" height="10" fill="#000"/>
<rect x="1216" y="482" width="50" height="10" fill="url(#blued)"/>
<rect x="1215" y="492" width="52" height="1" fill="#000"/>
<rect x="1216" y="493" width="51" height="1" fill="#fff"/>
<text x="1265" y="439" font-size="10.5" font-weight="bold" text-anchor="end" fill="#fff" stroke="#fff" stroke-width="0.35">75.00</text>
<text x="1265" y="448" font-size="10.5" font-weight="bold" text-anchor="end" fill="#fff" stroke="#fff" stroke-width="0.35">66.09</text>
<text x="1265" y="466" font-size="10.5" font-weight="bold" text-anchor="end" fill="#fff" stroke="#fff" stroke-width="0.35">47.38</text>
<text x="1265" y="479" font-size="10.5" font-weight="bold" text-anchor="end" fill="#fff" stroke="#fff" stroke-width="0.35">33.11</text>
<text x="1265" y="491" font-size="10.5" font-weight="bold" text-anchor="end" fill="#fff" stroke="#fff" stroke-width="0.35">20.00</text>
<text x="1264" y="527" font-size="10.5" font-weight="bold" text-anchor="end" fill="#000" stroke="#000" stroke-width="0.35">250.00</text>
<text x="1264" y="581" font-size="10.5" font-weight="bold" text-anchor="end" fill="#000" stroke="#000" stroke-width="0.35">-250.00</text>
<text x="1264" y="608" font-size="10.5" font-weight="bold" text-anchor="end" fill="#000" stroke="#000" stroke-width="0.35">-500.00</text>
<text x="1264" y="554" font-size="10.5" font-weight="bold" text-anchor="end" fill="#000" stroke="#000" stroke-width="0.35">0.00</text>
<rect x="1216" y="535" width="51" height="1" fill="#fff"/>
<rect x="1216" y="548" width="51" height="1" fill="#fff"/>
<rect x="1215" y="536" width="52" height="12" fill="#000"/>
<rect x="1216" y="537" width="50" height="10" fill="#ff0000"/>
<text x="1265" y="546" font-size="10.5" font-weight="bold" text-anchor="end" fill="#000" stroke="#000" stroke-width="0.35">77.76</text>
<rect x="1215" y="547" width="52" height="1" fill="#000"/>
<rect x="1216" y="548" width="50" height="2" fill="#0000ff"/>
<rect x="1215" y="550" width="52" height="1" fill="#000"/>
<rect x="1216" y="551" width="51" height="1" fill="#fff"/>
<text x="1264" y="648" font-size="10.5" font-weight="bold" text-anchor="end" fill="#000" stroke="#000" stroke-width="0.35">75.00</text>
<text x="1264" y="710" font-size="10.5" font-weight="bold" text-anchor="end" fill="#000" stroke="#000" stroke-width="0.35">0.00</text>
<rect x="1216" y="668" width="51" height="1" fill="#fff"/>
<rect x="1216" y="681" width="51" height="1" fill="#fff"/>
<rect x="1215" y="669" width="52" height="12" fill="#000"/>
<rect x="1216" y="670" width="50" height="10" fill="#008000"/>
<text x="1265" y="679" font-size="10.5" font-weight="bold" text-anchor="end" fill="#fff" stroke="#fff" stroke-width="0.35">38.72</text>
<rect x="1216" y="681" width="50" height="5" fill="#fff"/>
<text x="1264" y="689" font-size="10.5" font-weight="bold" text-anchor="end" fill="#000" stroke="#000" stroke-width="0.35">25.00</text>
<rect x="1215" y="686" width="52" height="12" fill="#000"/>
<rect x="1216" y="687" width="50" height="10" fill="#0000ff"/>
<text x="1265" y="696" font-size="10.5" font-weight="bold" text-anchor="end" fill="#fff" stroke="#fff" stroke-width="0.35">17.00</text>
<rect x="1215" y="693" width="52" height="12" fill="#000"/>
<rect x="1216" y="694" width="50" height="10" fill="#ff0000"/>
<text x="1265" y="703" font-size="10.5" font-weight="bold" text-anchor="end" fill="#fff" stroke="#fff" stroke-width="0.35">9.17</text>
<rect x="1216" y="735" width="51" height="1" fill="#fff"/>
<rect x="1216" y="748" width="51" height="1" fill="#fff"/>
<rect x="1215" y="736" width="52" height="12" fill="#000"/>
<rect x="1216" y="737" width="50" height="10" fill="url(#redd)"/>
<text x="1265" y="746" font-size="10.5" font-weight="bold" text-anchor="end" fill="#fff" stroke="#fff" stroke-width="0.35">75.00</text>
<rect x="1216" y="764" width="51" height="1" fill="#fff"/>
<rect x="1216" y="777" width="51" height="1" fill="#fff"/>
<rect x="1215" y="765" width="52" height="12" fill="#000"/>
<rect x="1216" y="766" width="50" height="10" fill="url(#blued)"/>
<text x="1265" y="775" font-size="10.5" font-weight="bold" text-anchor="end" fill="#fff" stroke="#fff" stroke-width="0.35">50.00</text>
<rect x="1216" y="762" width="51" height="1" fill="#fff"/>
<rect x="1215" y="763" width="52" height="1" fill="#000"/>
<rect x="1216" y="764" width="50" height="1" fill="#0000ff"/>
<rect x="1216" y="792" width="51" height="1" fill="#fff"/>
<rect x="1216" y="805" width="51" height="1" fill="#fff"/>
<rect x="1215" y="793" width="52" height="12" fill="#000"/>
<rect x="1216" y="794" width="50" height="10" fill="url(#navyd)"/>
<text x="1265" y="803" font-size="10.5" font-weight="bold" text-anchor="end" fill="#fff" stroke="#fff" stroke-width="0.35">25.00</text>
<rect x="75" y="822" width="1" height="12" fill="#000"/>
<text x="76" y="832" font-size="11" font-weight="normal" text-anchor="start" fill="#000" letter-spacing="0.5">Ноя 14</text>
<rect x="150" y="822" width="1" height="12" fill="#000"/>
<text x="151" y="832" font-size="11" font-weight="normal" text-anchor="start" fill="#000" letter-spacing="0.5">21</text>
<rect x="225" y="822" width="1" height="12" fill="#000"/>
<text x="226" y="832" font-size="11" font-weight="normal" text-anchor="start" fill="#000" letter-spacing="0.5">28</text>
<rect x="300" y="822" width="1" height="12" fill="#000"/>
<text x="301" y="832" font-size="11" font-weight="normal" text-anchor="start" fill="#000" letter-spacing="0.5">Дек 5</text>
<rect x="375" y="822" width="1" height="12" fill="#000"/>
<text x="376" y="832" font-size="11" font-weight="normal" text-anchor="start" fill="#000" letter-spacing="0.5">12</text>
<rect x="450" y="822" width="1" height="12" fill="#000"/>
<text x="451" y="832" font-size="11" font-weight="normal" text-anchor="start" fill="#000" letter-spacing="0.5">19</text>
<rect x="525" y="822" width="1" height="12" fill="#000"/>
<text x="526" y="832" font-size="11" font-weight="normal" text-anchor="start" fill="#000" letter-spacing="0.5">26</text>
<rect x="600" y="822" width="1" height="12" fill="#000"/>
<text x="601" y="832" font-size="11" font-weight="normal" text-anchor="start" fill="#000" letter-spacing="0.5">Янв 3</text>
<rect x="660" y="822" width="1" height="12" fill="#000"/>
<text x="661" y="832" font-size="11" font-weight="normal" text-anchor="start" fill="#000" letter-spacing="0.5">9</text>
<rect x="735" y="822" width="1" height="12" fill="#000"/>
<text x="736" y="832" font-size="11" font-weight="normal" text-anchor="start" fill="#000" letter-spacing="0.5">16</text>
<rect x="810" y="822" width="1" height="12" fill="#000"/>
<text x="811" y="832" font-size="11" font-weight="normal" text-anchor="start" fill="#000" letter-spacing="0.5">23</text>
<rect x="885" y="822" width="1" height="12" fill="#000"/>
<text x="886" y="832" font-size="11" font-weight="normal" text-anchor="start" fill="#000" letter-spacing="0.5">30</text>
<rect x="960" y="822" width="1" height="12" fill="#000"/>
<text x="961" y="832" font-size="11" font-weight="normal" text-anchor="start" fill="#000" letter-spacing="0.5">Фев 6</text>
<rect x="1035" y="822" width="1" height="12" fill="#000"/>
<text x="1036" y="832" font-size="11" font-weight="normal" text-anchor="start" fill="#000" letter-spacing="0.5">13</text>
<rect x="1110" y="822" width="1" height="12" fill="#000"/>
<text x="1111" y="832" font-size="11" font-weight="normal" text-anchor="start" fill="#000" letter-spacing="0.5">20</text>
<rect x="1170" y="822" width="1" height="12" fill="#000"/>
<text x="1171" y="832" font-size="11" font-weight="normal" text-anchor="start" fill="#000" letter-spacing="0.5">27</text></svg></body></html>
